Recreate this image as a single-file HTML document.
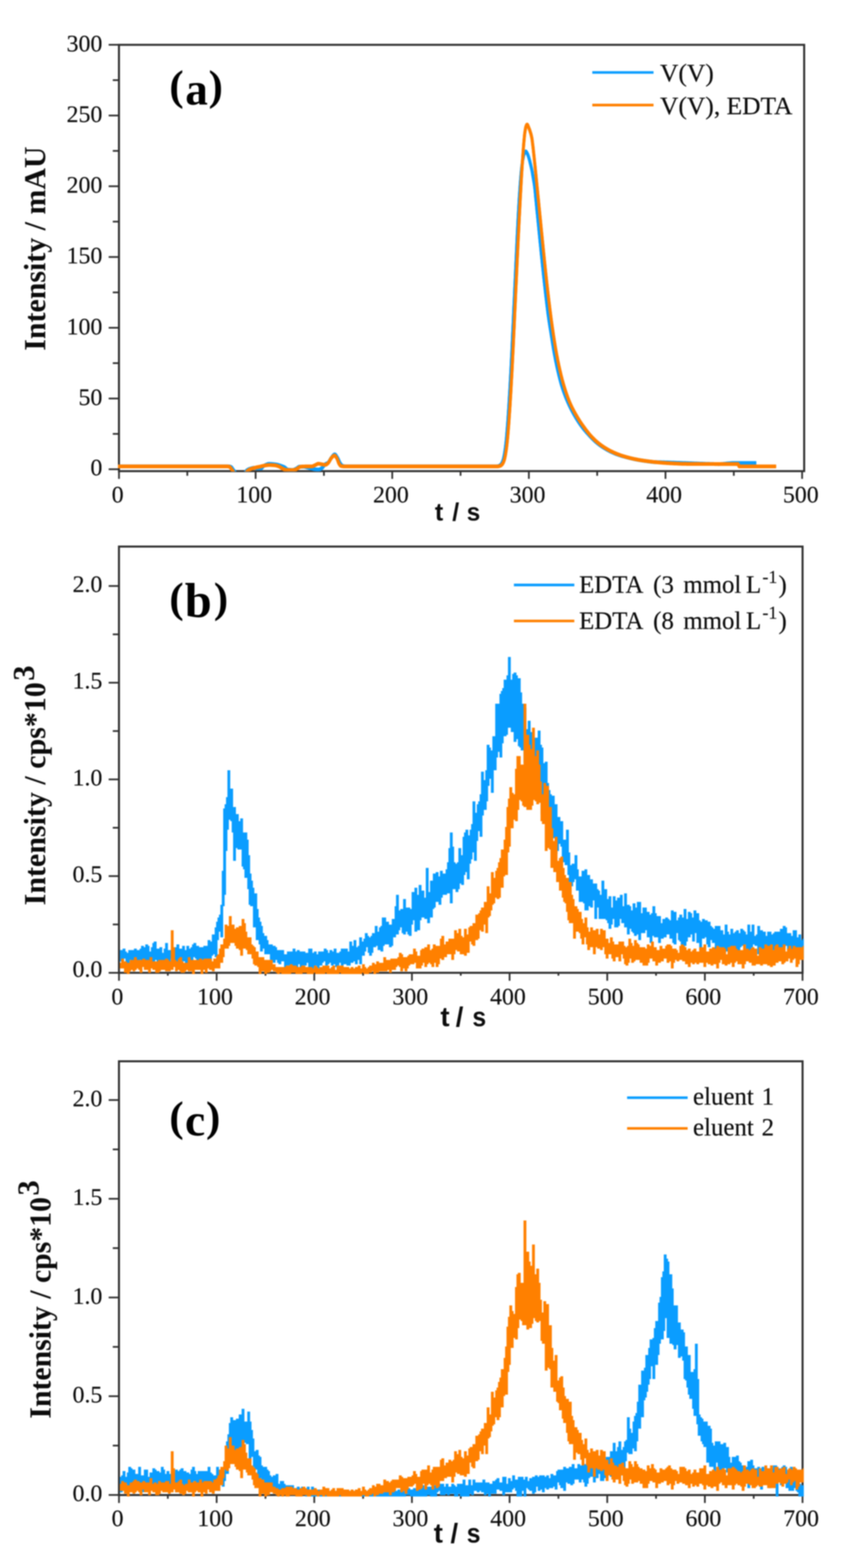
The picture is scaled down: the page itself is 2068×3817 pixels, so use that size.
<!DOCTYPE html>
<html lang="en"><head><meta charset="utf-8"><title>Chromatograms</title>
<style>
html,body{margin:0;padding:0;background:#fff;}
body{width:2068px;height:3817px;overflow:hidden;}
svg{display:block;filter:blur(1.6px);}
text{font-family:"Liberation Serif",serif;fill:#0c0c0c;}
.tk text{font-size:58px;stroke:#0c0c0c;stroke-width:0.35px;}
.lg text{font-size:60.5px;stroke:#0c0c0c;stroke-width:0.4px;}
.yl{font-weight:bold;font-size:74.5px;}
.xl{font-family:"Liberation Sans",sans-serif;font-weight:bold;}
.pl{font-weight:bold;fill:#000;}
</style></head><body>
<svg width="2068" height="3817" viewBox="0 0 2068 3817">
<rect width="2068" height="3817" fill="#fff"/>

<g id="panel-a">
<g stroke="#303030" stroke-width="4.2" fill="none" stroke-linecap="butt">
<rect x="289.4" y="109.1" width="1667.1" height="1037.8" stroke-width="4.9"/>
<line x1="289.5" y1="1146.9" x2="289.5" y2="1165.7"/>
<line x1="455.7" y1="1146.9" x2="455.7" y2="1158.2"/>
<line x1="621.9" y1="1146.9" x2="621.9" y2="1165.7"/>
<line x1="788.1" y1="1146.9" x2="788.1" y2="1158.2"/>
<line x1="954.3" y1="1146.9" x2="954.3" y2="1165.7"/>
<line x1="1120.5" y1="1146.9" x2="1120.5" y2="1158.2"/>
<line x1="1286.7" y1="1146.9" x2="1286.7" y2="1165.7"/>
<line x1="1452.9" y1="1146.9" x2="1452.9" y2="1158.2"/>
<line x1="1619.1" y1="1146.9" x2="1619.1" y2="1165.7"/>
<line x1="1785.3" y1="1146.9" x2="1785.3" y2="1158.2"/>
<line x1="1951.5" y1="1146.9" x2="1951.5" y2="1165.7"/>
<line x1="289.4" y1="1142.3" x2="264.4" y2="1142.3"/>
<line x1="289.4" y1="1056.2" x2="274.4" y2="1056.2"/>
<line x1="289.4" y1="970.1" x2="264.4" y2="970.1"/>
<line x1="289.4" y1="884.0" x2="274.4" y2="884.0"/>
<line x1="289.4" y1="797.9" x2="264.4" y2="797.9"/>
<line x1="289.4" y1="711.8" x2="274.4" y2="711.8"/>
<line x1="289.4" y1="625.6" x2="264.4" y2="625.6"/>
<line x1="289.4" y1="539.5" x2="274.4" y2="539.5"/>
<line x1="289.4" y1="453.4" x2="264.4" y2="453.4"/>
<line x1="289.4" y1="367.3" x2="274.4" y2="367.3"/>
<line x1="289.4" y1="281.2" x2="264.4" y2="281.2"/>
<line x1="289.4" y1="195.1" x2="274.4" y2="195.1"/>
<line x1="289.4" y1="109.0" x2="264.4" y2="109.0"/>
</g>
<g class="tk">
<text x="286.2" y="1222.6" text-anchor="middle">0</text>
<text x="618.6" y="1222.6" text-anchor="middle">100</text>
<text x="951.0" y="1222.6" text-anchor="middle">200</text>
<text x="1283.4" y="1222.6" text-anchor="middle">300</text>
<text x="1615.8" y="1222.6" text-anchor="middle">400</text>
<text x="1948.2" y="1222.6" text-anchor="middle">500</text>
<text x="249.0" y="1156.6" text-anchor="end">0</text>
<text x="249.0" y="985.7" text-anchor="end">50</text>
<text x="249.0" y="813.5" text-anchor="end">100</text>
<text x="249.0" y="641.2" text-anchor="end">150</text>
<text x="249.0" y="469.0" text-anchor="end">200</text>
<text x="249.0" y="296.8" text-anchor="end">250</text>
<text x="249.0" y="124.6" text-anchor="end">300</text>
</g>
<clipPath id="clip-a"><rect x="286.9" y="106.6" width="1672.5" height="1040.8"/></clipPath>
<g clip-path="url(#clip-a)" fill="none" stroke-linejoin="miter" stroke-miterlimit="3" stroke-linecap="butt">
<g stroke="#0a9dff" stroke-width="7.2"><path d="M287.0,1135.4 287.8,1135.4 288.7,1135.4 289.5,1135.4 290.3,1135.4 291.2,1135.4 292.0,1135.4 292.8,1135.4 293.7,1135.4 294.5,1135.4 295.3,1135.4 296.1,1135.4 297.0,1135.4 297.8,1135.4 298.6,1135.4 299.5,1135.4 300.3,1135.4 301.1,1135.4 302.0,1135.4 302.8,1135.4 303.6,1135.4 304.5,1135.4 305.3,1135.4 306.1,1135.4 307.0,1135.4 307.8,1135.4 308.6,1135.4 309.4,1135.4 310.3,1135.4 311.1,1135.4 311.9,1135.4 312.8,1135.4 313.6,1135.4 314.4,1135.4 315.3,1135.4 316.1,1135.4 316.9,1135.4 317.8,1135.4 318.6,1135.4 319.4,1135.4 320.2,1135.4 321.1,1135.4 321.9,1135.4 322.7,1135.4 323.6,1135.4 324.4,1135.4 325.2,1135.4 326.1,1135.4 326.9,1135.4 327.7,1135.4 328.6,1135.4 329.4,1135.4 330.2,1135.4 331.1,1135.4 331.9,1135.4 332.7,1135.4 333.5,1135.4 334.4,1135.4 335.2,1135.4 336.0,1135.4 336.9,1135.4 337.7,1135.4 338.5,1135.4 339.4,1135.4 340.2,1135.4 341.0,1135.4 341.9,1135.4 342.7,1135.4 343.5,1135.4 344.3,1135.4 345.2,1135.4 346.0,1135.4 346.8,1135.4 347.7,1135.4 348.5,1135.4 349.3,1135.4 350.2,1135.4 351.0,1135.4 351.8,1135.4 352.7,1135.4 353.5,1135.4 354.3,1135.4 355.1,1135.4 356.0,1135.4 356.8,1135.4 357.6,1135.4 358.5,1135.4 359.3,1135.4 360.1,1135.4 361.0,1135.4 361.8,1135.4 362.6,1135.4 363.5,1135.4 364.3,1135.4 365.1,1135.4 366.0,1135.4 366.8,1135.4 367.6,1135.4 368.4,1135.4 369.3,1135.4 370.1,1135.4 370.9,1135.4 371.8,1135.4 372.6,1135.4 373.4,1135.4 374.3,1135.4 375.1,1135.4 375.9,1135.4 376.8,1135.4 377.6,1135.4 378.4,1135.4 379.2,1135.4 380.1,1135.4 380.9,1135.4 381.7,1135.4 382.6,1135.4 383.4,1135.4 384.2,1135.4 385.1,1135.4 385.9,1135.4 386.7,1135.4 387.6,1135.4 388.4,1135.4 389.2,1135.4 390.1,1135.4 390.9,1135.4 391.7,1135.4 392.5,1135.4 393.4,1135.4 394.2,1135.4 395.0,1135.4 395.9,1135.4 396.7,1135.4 397.5,1135.4 398.4,1135.4 399.2,1135.4 400.0,1135.4 400.9,1135.4 401.7,1135.4 402.5,1135.4 403.3,1135.4 404.2,1135.4 405.0,1135.4 405.8,1135.4 406.7,1135.4 407.5,1135.4 408.3,1135.4 409.2,1135.4 410.0,1135.4 410.8,1135.4 411.7,1135.4 412.5,1135.4 413.3,1135.4 414.1,1135.4 415.0,1135.4 415.8,1135.4 416.6,1135.4 417.5,1135.4 418.3,1135.4 419.1,1135.4 420.0,1135.4 420.8,1135.4 421.6,1135.4 422.5,1135.4 423.3,1135.4 424.1,1135.4 425.0,1135.4 425.8,1135.4 426.6,1135.4 427.4,1135.4 428.3,1135.4 429.1,1135.4 429.9,1135.4 430.8,1135.4 431.6,1135.4 432.4,1135.4 433.3,1135.4 434.1,1135.4 434.9,1135.4 435.8,1135.4 436.6,1135.4 437.4,1135.4 438.2,1135.4 439.1,1135.4 439.9,1135.4 440.7,1135.4 441.6,1135.4 442.4,1135.4 443.2,1135.4 444.1,1135.4 444.9,1135.4 445.7,1135.4 446.6,1135.4 447.4,1135.4 448.2,1135.4 449.1,1135.4 449.9,1135.4 450.7,1135.4 451.5,1135.4 452.4,1135.4 453.2,1135.4 454.0,1135.4 454.9,1135.4 455.7,1135.4 456.5,1135.4 457.4,1135.4 458.2,1135.4 459.0,1135.4 459.9,1135.4 460.7,1135.4 461.5,1135.4 462.3,1135.4 463.2,1135.4 464.0,1135.4 464.8,1135.4 465.7,1135.4 466.5,1135.4 467.3,1135.4 468.2,1135.4 469.0,1135.4 469.8,1135.4 470.7,1135.4 471.5,1135.4 472.3,1135.4 473.2,1135.4 474.0,1135.4 474.8,1135.4 475.6,1135.4 476.5,1135.4 477.3,1135.4 478.1,1135.4 479.0,1135.4 479.8,1135.4 480.6,1135.4 481.5,1135.4 482.3,1135.4 483.1,1135.4 484.0,1135.4 484.8,1135.4 485.6,1135.4 486.4,1135.4 487.3,1135.4 488.1,1135.4 488.9,1135.4 489.8,1135.4 490.6,1135.4 491.4,1135.4 492.3,1135.4 493.1,1135.4 493.9,1135.4 494.8,1135.4 495.6,1135.4 496.4,1135.4 497.2,1135.4 498.1,1135.4 498.9,1135.4 499.7,1135.4 500.6,1135.4 501.4,1135.4 502.2,1135.4 503.1,1135.4 503.9,1135.4 504.7,1135.4 505.6,1135.4 506.4,1135.4 507.2,1135.4 508.1,1135.4 508.9,1135.4 509.7,1135.4 510.5,1135.4 511.4,1135.4 512.2,1135.4 513.0,1135.4 513.9,1135.4 514.7,1135.4 515.5,1135.4 516.4,1135.4 517.2,1135.4 518.0,1135.4 518.9,1135.4 519.7,1135.4 520.5,1135.4 521.3,1135.4 522.2,1135.4 523.0,1135.4 523.8,1135.4 524.7,1135.4 525.5,1135.4 526.3,1135.4 527.2,1135.4 528.0,1135.4 528.8,1135.4 529.7,1135.4 530.5,1135.4 531.3,1135.4 532.2,1135.4 533.0,1135.4 533.8,1135.4 534.6,1135.4 535.5,1135.4 536.3,1135.4 537.1,1135.4 538.0,1135.4 538.8,1135.4 539.6,1135.4 540.5,1135.4 541.3,1135.4 542.1,1135.4 543.0,1135.4 543.8,1135.4 544.6,1135.4 545.4,1135.4 546.3,1135.4 547.1,1135.4 547.9,1135.4 548.8,1135.4 549.6,1135.4 550.4,1135.4 551.3,1135.4 552.1,1135.4 552.9,1135.4 553.8,1135.4 554.6,1135.4 555.4,1135.4 556.3,1135.4 557.1,1135.4 557.9,1135.5 558.7,1135.6 559.6,1135.8 560.4,1136.1 561.2,1136.4 562.1,1136.8 562.9,1137.3 563.7,1138.1 564.6,1139.1 565.4,1140.3 566.2,1141.6 567.1,1142.8 567.9,1144.0 568.7,1145.1 569.5,1146.1 570.4,1147.2 571.2,1148.4 572.0,1149.6 572.9,1150.9 573.7,1152.0 574.5,1153.1 575.4,1154.1 576.2,1154.9 577.0,1155.5 577.9,1155.9 578.7,1156.1 579.5,1156.1 580.4,1156.1 581.2,1156.1 582.0,1156.1 582.8,1156.1 583.7,1156.1 584.5,1156.1 585.3,1156.1 586.2,1156.1 587.0,1156.1 587.8,1156.1 588.7,1156.1 589.5,1156.1 590.3,1156.1 591.2,1156.1 592.0,1156.1 592.8,1155.8 593.6,1155.1 594.5,1154.1 595.3,1152.8 596.1,1151.3 597.0,1149.8 597.8,1148.3 598.6,1147.0 599.5,1145.9 600.3,1145.1 601.1,1144.5 602.0,1143.9 602.8,1143.4 603.6,1143.0 604.4,1142.5 605.3,1142.2 606.1,1141.8 606.9,1141.5 607.8,1141.2 608.6,1140.9 609.4,1140.7 610.3,1140.4 611.1,1140.2 611.9,1139.9 612.8,1139.7 613.6,1139.5 614.4,1139.3 615.3,1139.2 616.1,1139.0 616.9,1138.9 617.7,1138.9 618.6,1138.9 619.4,1138.9 620.2,1139.0 621.1,1139.1 621.9,1139.2 622.7,1139.4 623.6,1139.5 624.4,1139.7 625.2,1139.9 626.1,1140.0 626.9,1140.1 627.7,1140.2 628.5,1140.2 629.4,1140.2 630.2,1140.2 631.0,1140.2 631.9,1140.2 632.7,1140.2 633.5,1140.2 634.4,1140.2 635.2,1140.2 636.0,1140.0 636.9,1139.4 637.7,1138.6 638.5,1137.6 639.4,1136.5 640.2,1135.5 641.0,1134.6 641.8,1134.0 642.7,1133.6 643.5,1133.1 644.3,1132.7 645.2,1132.3 646.0,1131.8 646.8,1131.4 647.7,1131.1 648.5,1130.7 649.3,1130.4 650.2,1130.1 651.0,1129.8 651.8,1129.6 652.6,1129.4 653.5,1129.3 654.3,1129.2 655.1,1129.2 656.0,1129.2 656.8,1129.2 657.6,1129.3 658.5,1129.3 659.3,1129.3 660.1,1129.4 661.0,1129.4 661.8,1129.5 662.6,1129.6 663.5,1129.6 664.3,1129.7 665.1,1129.8 665.9,1129.9 666.8,1130.0 667.6,1130.1 668.4,1130.2 669.3,1130.3 670.1,1130.4 670.9,1130.5 671.8,1130.6 672.6,1130.7 673.4,1130.9 674.3,1131.1 675.1,1131.3 675.9,1131.5 676.7,1131.7 677.6,1132.0 678.4,1132.3 679.2,1132.5 680.1,1132.8 680.9,1133.1 681.7,1133.3 682.6,1133.6 683.4,1133.9 684.2,1134.2 685.1,1134.4 685.9,1134.7 686.7,1135.0 687.5,1135.3 688.4,1135.7 689.2,1136.0 690.0,1136.4 690.9,1136.7 691.7,1137.1 692.5,1137.6 693.4,1138.2 694.2,1138.9 695.0,1139.7 695.9,1140.4 696.7,1141.1 697.5,1141.8 698.4,1142.3 699.2,1142.8 700.0,1143.0 700.8,1143.1 701.7,1143.2 702.5,1143.4 703.3,1143.5 704.2,1143.6 705.0,1143.7 705.8,1143.7 706.7,1143.8 707.5,1143.9 708.3,1143.9 709.2,1144.0 710.0,1144.0 710.8,1144.0 711.6,1144.0 712.5,1144.0 713.3,1143.9 714.1,1143.7 715.0,1143.4 715.8,1143.1 716.6,1142.7 717.5,1142.3 718.3,1141.9 719.1,1141.5 720.0,1141.1 720.8,1140.6 721.6,1140.2 722.5,1139.8 723.3,1139.1 724.1,1138.5 724.9,1137.8 725.8,1137.1 726.6,1136.6 727.4,1136.2 728.3,1136.1 729.1,1136.1 729.9,1136.1 730.8,1136.1 731.6,1136.1 732.4,1136.1 733.3,1136.1 734.1,1136.1 734.9,1136.1 735.7,1136.1 736.6,1136.1 737.4,1136.1 738.2,1136.1 739.1,1136.1 739.9,1136.2 740.7,1136.3 741.6,1136.5 742.4,1136.7 743.2,1136.9 744.1,1137.1 744.9,1137.3 745.7,1137.5 746.5,1137.8 747.4,1138.0 748.2,1138.2 749.0,1138.4 749.9,1138.6 750.7,1138.8 751.5,1139.0 752.4,1139.2 753.2,1139.4 754.0,1139.6 754.9,1139.8 755.7,1140.0 756.5,1140.2 757.4,1140.4 758.2,1140.6 759.0,1140.8 759.8,1141.0 760.7,1141.2 761.5,1141.4 762.3,1141.5 763.2,1141.7 764.0,1141.9 764.8,1142.1 765.7,1142.2 766.5,1142.3 767.3,1142.4 768.2,1142.5 769.0,1142.6 769.8,1142.7 770.6,1142.8 771.5,1142.8 772.3,1142.9 773.1,1142.9 774.0,1143.0 774.8,1143.0 775.6,1142.9 776.5,1142.8 777.3,1142.6 778.1,1142.3 779.0,1141.9 779.8,1141.5 780.6,1141.0 781.5,1140.6 782.3,1140.1 783.1,1139.5 783.9,1138.9 784.8,1138.1 785.6,1137.1 786.4,1136.0 787.3,1134.8 788.1,1133.7 788.9,1132.5 789.8,1131.5 790.6,1130.6 791.4,1129.9 792.3,1129.4 793.1,1128.9 793.9,1128.6 794.7,1128.2 795.6,1127.9 796.4,1127.5 797.2,1127.0 798.1,1126.5 798.9,1125.7 799.7,1124.7 800.6,1123.5 801.4,1122.1 802.2,1120.7 803.1,1119.2 803.9,1117.8 804.7,1116.4 805.6,1115.1 806.4,1114.1 807.2,1113.0 808.0,1111.9 808.9,1110.8 809.7,1109.7 810.5,1108.7 811.4,1107.8 812.2,1107.1 813.0,1106.5 813.9,1106.2 814.7,1106.2 815.5,1106.5 816.4,1107.2 817.2,1108.2 818.0,1109.3 818.8,1110.6 819.7,1112.0 820.5,1113.4 821.3,1114.7 822.2,1116.2 823.0,1117.9 823.8,1119.8 824.7,1121.8 825.5,1123.7 826.3,1125.4 827.2,1126.9 828.0,1128.1 828.8,1129.4 829.6,1130.5 830.5,1131.6 831.3,1132.5 832.1,1133.2 833.0,1133.7 833.8,1134.0 834.6,1134.3 835.5,1134.5 836.3,1134.7 837.1,1134.9 838.0,1135.1 838.8,1135.2 839.6,1135.3 840.5,1135.4 841.3,1135.4 842.1,1135.4 842.9,1135.4 843.8,1135.4 844.6,1135.4 845.4,1135.4 846.3,1135.4 847.1,1135.4 847.9,1135.4 848.8,1135.4 849.6,1135.4 850.4,1135.4 851.3,1135.4 852.1,1135.4 852.9,1135.4 853.7,1135.4 854.6,1135.4 855.4,1135.4 856.2,1135.4 857.1,1135.4 857.9,1135.4 858.7,1135.4 859.6,1135.4 860.4,1135.4 861.2,1135.4 862.1,1135.4 862.9,1135.4 863.7,1135.4 864.6,1135.4 865.4,1135.4 866.2,1135.4 867.0,1135.4 867.9,1135.4 868.7,1135.4 869.5,1135.4 870.4,1135.4 871.2,1135.4 872.0,1135.4 872.9,1135.4 873.7,1135.4 874.5,1135.4 875.4,1135.4 876.2,1135.4 877.0,1135.4 877.8,1135.4 878.7,1135.4 879.5,1135.4 880.3,1135.4 881.2,1135.4 882.0,1135.4 882.8,1135.4 883.7,1135.4 884.5,1135.4 885.3,1135.4 886.2,1135.4 887.0,1135.4 887.8,1135.4 888.7,1135.4 889.5,1135.4 890.3,1135.4 891.1,1135.4 892.0,1135.4 892.8,1135.4 893.6,1135.4 894.5,1135.4 895.3,1135.4 896.1,1135.4 897.0,1135.4 897.8,1135.4 898.6,1135.4 899.5,1135.4 900.3,1135.4 901.1,1135.4 901.9,1135.4 902.8,1135.4 903.6,1135.4 904.4,1135.4 905.3,1135.4 906.1,1135.4 906.9,1135.4 907.8,1135.4 908.6,1135.4 909.4,1135.4 910.3,1135.4 911.1,1135.4 911.9,1135.4 912.8,1135.4 913.6,1135.4 914.4,1135.4 915.2,1135.4 916.1,1135.4 916.9,1135.4 917.7,1135.4 918.6,1135.4 919.4,1135.4 920.2,1135.4 921.1,1135.4 921.9,1135.4 922.7,1135.4 923.6,1135.4 924.4,1135.4 925.2,1135.4 926.0,1135.4 926.9,1135.4 927.7,1135.4 928.5,1135.4 929.4,1135.4 930.2,1135.4 931.0,1135.4 931.9,1135.4 932.7,1135.4 933.5,1135.4 934.4,1135.4 935.2,1135.4 936.0,1135.4 936.8,1135.4 937.7,1135.4 938.5,1135.4 939.3,1135.4 940.2,1135.4 941.0,1135.4 941.8,1135.4 942.7,1135.4 943.5,1135.4 944.3,1135.4 945.2,1135.4 946.0,1135.4 946.8,1135.4 947.7,1135.4 948.5,1135.4 949.3,1135.4 950.1,1135.4 951.0,1135.4 951.8,1135.4 952.6,1135.4 953.5,1135.4 954.3,1135.4 955.1,1135.4 956.0,1135.4 956.8,1135.4 957.6,1135.4 958.5,1135.4 959.3,1135.4 960.1,1135.4 960.9,1135.4 961.8,1135.4 962.6,1135.4 963.4,1135.4 964.3,1135.4 965.1,1135.4 965.9,1135.4 966.8,1135.4 967.6,1135.4 968.4,1135.4 969.3,1135.4 970.1,1135.4 970.9,1135.4 971.8,1135.4 972.6,1135.4 973.4,1135.4 974.2,1135.4 975.1,1135.4 975.9,1135.4 976.7,1135.4 977.6,1135.4 978.4,1135.4 979.2,1135.4 980.1,1135.4 980.9,1135.4 981.7,1135.4 982.6,1135.4 983.4,1135.4 984.2,1135.4 985.0,1135.4 985.9,1135.4 986.7,1135.4 987.5,1135.4 988.4,1135.4 989.2,1135.4 990.0,1135.4 990.9,1135.4 991.7,1135.4 992.5,1135.4 993.4,1135.4 994.2,1135.4 995.0,1135.4 995.9,1135.4 996.7,1135.4 997.5,1135.4 998.3,1135.4 999.2,1135.4 1000.0,1135.4 1000.8,1135.4 1001.7,1135.4 1002.5,1135.4 1003.3,1135.4 1004.2,1135.4 1005.0,1135.4 1005.8,1135.4 1006.7,1135.4 1007.5,1135.4 1008.3,1135.4 1009.1,1135.4 1010.0,1135.4 1010.8,1135.4 1011.6,1135.4 1012.5,1135.4 1013.3,1135.4 1014.1,1135.4 1015.0,1135.4 1015.8,1135.4 1016.6,1135.4 1017.5,1135.4 1018.3,1135.4 1019.1,1135.4 1019.9,1135.4 1020.8,1135.4 1021.6,1135.4 1022.4,1135.4 1023.3,1135.4 1024.1,1135.4 1024.9,1135.4 1025.8,1135.4 1026.6,1135.4 1027.4,1135.4 1028.3,1135.4 1029.1,1135.4 1029.9,1135.4 1030.8,1135.4 1031.6,1135.4 1032.4,1135.4 1033.2,1135.4 1034.1,1135.4 1034.9,1135.4 1035.7,1135.4 1036.6,1135.4 1037.4,1135.4 1038.2,1135.4 1039.1,1135.4 1039.9,1135.4 1040.7,1135.4 1041.6,1135.4 1042.4,1135.4 1043.2,1135.4 1044.0,1135.4 1044.9,1135.4 1045.7,1135.4 1046.5,1135.4 1047.4,1135.4 1048.2,1135.4 1049.0,1135.4 1049.9,1135.4 1050.7,1135.4 1051.5,1135.4 1052.4,1135.4 1053.2,1135.4 1054.0,1135.4 1054.9,1135.4 1055.7,1135.4 1056.5,1135.4 1057.3,1135.4 1058.2,1135.4 1059.0,1135.4 1059.8,1135.4 1060.7,1135.4 1061.5,1135.4 1062.3,1135.4 1063.2,1135.4 1064.0,1135.4 1064.8,1135.4 1065.7,1135.4 1066.5,1135.4 1067.3,1135.4 1068.1,1135.4 1069.0,1135.4 1069.8,1135.4 1070.6,1135.4 1071.5,1135.4 1072.3,1135.4 1073.1,1135.4 1074.0,1135.4 1074.8,1135.4 1075.6,1135.4 1076.5,1135.4 1077.3,1135.4 1078.1,1135.4 1079.0,1135.4 1079.8,1135.4 1080.6,1135.4 1081.4,1135.4 1082.3,1135.4 1083.1,1135.4 1083.9,1135.4 1084.8,1135.4 1085.6,1135.4 1086.4,1135.4 1087.3,1135.4 1088.1,1135.4 1088.9,1135.4 1089.8,1135.4 1090.6,1135.4 1091.4,1135.4 1092.2,1135.4 1093.1,1135.4 1093.9,1135.4 1094.7,1135.4 1095.6,1135.4 1096.4,1135.4 1097.2,1135.4 1098.1,1135.4 1098.9,1135.4 1099.7,1135.4 1100.6,1135.4 1101.4,1135.4 1102.2,1135.4 1103.0,1135.4 1103.9,1135.4 1104.7,1135.4 1105.5,1135.4 1106.4,1135.4 1107.2,1135.4 1108.0,1135.4 1108.9,1135.4 1109.7,1135.4 1110.5,1135.4 1111.4,1135.4 1112.2,1135.4 1113.0,1135.4 1113.9,1135.4 1114.7,1135.4 1115.5,1135.4 1116.3,1135.4 1117.2,1135.4 1118.0,1135.4 1118.8,1135.4 1119.7,1135.4 1120.5,1135.4 1121.3,1135.4 1122.2,1135.4 1123.0,1135.4 1123.8,1135.4 1124.7,1135.4 1125.5,1135.4 1126.3,1135.4 1127.1,1135.4 1128.0,1135.4 1128.8,1135.4 1129.6,1135.4 1130.5,1135.4 1131.3,1135.4 1132.1,1135.4 1133.0,1135.4 1133.8,1135.4 1134.6,1135.4 1135.5,1135.4 1136.3,1135.4 1137.1,1135.4 1138.0,1135.4 1138.8,1135.4 1139.6,1135.4 1140.4,1135.4 1141.3,1135.4 1142.1,1135.4 1142.9,1135.4 1143.8,1135.4 1144.6,1135.4 1145.4,1135.4 1146.3,1135.4 1147.1,1135.4 1147.9,1135.4 1148.8,1135.4 1149.6,1135.4 1150.4,1135.4 1151.2,1135.4 1152.1,1135.4 1152.9,1135.4 1153.7,1135.4 1154.6,1135.4 1155.4,1135.4 1156.2,1135.4 1157.1,1135.4 1157.9,1135.4 1158.7,1135.4 1159.6,1135.4 1160.4,1135.4 1161.2,1135.4 1162.0,1135.4 1162.9,1135.4 1163.7,1135.4 1164.5,1135.4 1165.4,1135.4 1166.2,1135.4 1167.0,1135.4 1167.9,1135.4 1168.7,1135.4 1169.5,1135.4 1170.4,1135.4 1171.2,1135.4 1172.0,1135.4 1172.9,1135.4 1173.7,1135.4 1174.5,1135.4 1175.3,1135.4 1176.2,1135.4 1177.0,1135.4 1177.8,1135.4 1178.7,1135.4 1179.5,1135.4 1180.3,1135.4 1181.2,1135.4 1182.0,1135.4 1182.8,1135.4 1183.7,1135.4 1184.5,1135.4 1185.3,1135.4 1186.1,1135.4 1187.0,1135.4 1187.8,1135.4 1188.6,1135.4 1189.5,1135.4 1190.3,1135.4 1191.1,1135.4 1192.0,1135.4 1192.8,1135.4 1193.6,1135.4 1194.5,1135.4 1195.3,1135.4 1196.1,1135.4 1197.0,1135.4 1197.8,1135.4 1198.6,1135.4 1199.4,1135.4 1200.3,1135.4 1201.1,1135.4 1201.9,1135.4 1202.8,1135.4 1203.6,1135.4 1204.4,1135.4 1205.3,1135.4 1206.1,1135.4 1206.9,1135.4 1207.8,1135.4 1208.6,1135.4 1209.4,1135.3 1210.2,1135.1 1211.1,1134.9 1211.9,1134.7 1212.7,1134.5 1213.6,1134.2 1214.4,1133.9 1215.2,1133.5 1216.1,1133.0 1216.9,1132.4 1217.7,1131.6 1218.6,1130.8 1219.4,1129.9 1220.2,1128.7 1221.1,1127.2 1221.9,1125.5 1222.7,1123.5 1223.5,1121.3 1224.4,1118.9 1225.2,1115.6 1226.0,1111.6 1226.9,1107.2 1227.7,1102.5 1228.5,1097.1 1229.4,1091.1 1230.2,1084.5 1231.0,1077.3 1231.9,1069.1 1232.7,1059.9 1233.5,1050.2 1234.3,1040.0 1235.2,1029.0 1236.0,1017.4 1236.8,1005.2 1237.7,992.5 1238.5,979.3 1239.3,965.5 1240.2,951.2 1241.0,936.7 1241.8,921.6 1242.7,906.1 1243.5,890.3 1244.3,874.0 1245.2,857.1 1246.0,839.8 1246.8,822.2 1247.6,804.6 1248.5,786.6 1249.3,768.4 1250.1,750.2 1251.0,732.1 1251.8,713.9 1252.6,695.8 1253.5,677.7 1254.3,659.8 1255.1,642.0 1256.0,624.3 1256.8,606.8 1257.6,589.5 1258.4,572.1 1259.3,555.0 1260.1,538.6 1260.9,523.2 1261.8,508.3 1262.6,494.0 1263.4,480.5 1264.3,467.9 1265.1,456.0 1265.9,444.6 1266.8,433.9 1267.6,424.1 1268.4,415.5 1269.2,408.1 1270.1,401.2 1270.9,395.1 1271.7,389.8 1272.6,385.3 1273.4,381.1 1274.2,377.4 1275.1,374.5 1275.9,372.5 1276.7,371.0 1277.6,369.8 1278.4,368.9 1279.2,368.7 1280.1,369.2 1280.9,370.3 1281.7,371.7 1282.5,373.3 1283.4,374.9 1284.2,376.8 1285.0,379.0 1285.9,381.5 1286.7,384.2 1287.5,386.9 1288.4,390.1 1289.2,393.4 1290.0,396.9 1290.9,400.4 1291.7,403.8 1292.5,407.1 1293.3,410.7 1294.2,414.7 1295.0,419.2 1295.8,424.3 1296.7,429.3 1297.5,434.2 1298.3,438.9 1299.2,443.9 1300.0,449.3 1300.8,455.4 1301.7,463.0 1302.5,471.6 1303.3,480.6 1304.2,489.2 1305.0,497.6 1305.8,505.9 1306.6,514.3 1307.5,522.7 1308.3,531.0 1309.1,539.4 1310.0,547.7 1310.8,556.1 1311.6,564.5 1312.5,572.8 1313.3,581.1 1314.1,589.4 1315.0,597.7 1315.8,606.0 1316.6,614.3 1317.4,622.5 1318.3,630.7 1319.1,638.7 1319.9,646.8 1320.8,654.7 1321.6,662.6 1322.4,670.4 1323.3,678.1 1324.1,685.7 1324.9,693.2 1325.8,700.6 1326.6,708.0 1327.4,715.2 1328.2,722.3 1329.1,729.3 1329.9,736.3 1330.7,743.3 1331.6,750.1 1332.4,756.8 1333.2,763.3 1334.1,769.5 1334.9,775.3 1335.7,781.0 1336.6,786.4 1337.4,791.7 1338.2,796.9 1339.1,802.0 1339.9,807.1 1340.7,812.3 1341.5,817.6 1342.4,822.9 1343.2,828.2 1344.0,833.5 1344.9,838.7 1345.7,843.8 1346.5,848.8 1347.4,853.6 1348.2,858.3 1349.0,862.8 1349.9,867.2 1350.7,871.6 1351.5,875.8 1352.3,880.0 1353.2,884.1 1354.0,888.1 1354.8,892.0 1355.7,895.8 1356.5,899.5 1357.3,903.1 1358.2,906.7 1359.0,910.2 1359.8,913.6 1360.7,917.0 1361.5,920.4 1362.3,923.6 1363.2,926.8 1364.0,929.9 1364.8,932.9 1365.6,935.8 1366.5,938.6 1367.3,941.3 1368.1,943.9 1369.0,946.5 1369.8,948.9 1370.6,951.4 1371.5,953.8 1372.3,956.1 1373.1,958.3 1374.0,960.6 1374.8,962.8 1375.6,964.9 1376.4,967.0 1377.3,969.1 1378.1,971.1 1378.9,973.1 1379.8,975.0 1380.6,977.0 1381.4,978.9 1382.3,980.7 1383.1,982.6 1383.9,984.4 1384.8,986.2 1385.6,988.0 1386.4,989.7 1387.3,991.4 1388.1,993.1 1388.9,994.8 1389.7,996.4 1390.6,998.0 1391.4,999.6 1392.2,1001.2 1393.1,1002.7 1393.9,1004.3 1394.7,1005.8 1395.6,1007.3 1396.4,1008.7 1397.2,1010.2 1398.1,1011.6 1398.9,1013.1 1399.7,1014.5 1400.5,1015.9 1401.4,1017.3 1402.2,1018.7 1403.0,1020.0 1403.9,1021.4 1404.7,1022.7 1405.5,1024.0 1406.4,1025.3 1407.2,1026.6 1408.0,1027.8 1408.9,1029.1 1409.7,1030.3 1410.5,1031.5 1411.3,1032.7 1412.2,1033.9 1413.0,1035.1 1413.8,1036.2 1414.7,1037.4 1415.5,1038.5 1416.3,1039.6 1417.2,1040.7 1418.0,1041.8 1418.8,1042.8 1419.7,1043.9 1420.5,1044.9 1421.3,1045.9 1422.2,1047.0 1423.0,1048.0 1423.8,1049.0 1424.6,1049.9 1425.5,1050.9 1426.3,1051.9 1427.1,1052.8 1428.0,1053.8 1428.8,1054.7 1429.6,1055.6 1430.5,1056.5 1431.3,1057.5 1432.1,1058.4 1433.0,1059.3 1433.8,1060.2 1434.6,1061.1 1435.4,1062.0 1436.3,1062.9 1437.1,1063.7 1437.9,1064.6 1438.8,1065.5 1439.6,1066.3 1440.4,1067.2 1441.3,1068.0 1442.1,1068.9 1442.9,1069.7 1443.8,1070.5 1444.6,1071.3 1445.4,1072.1 1446.3,1072.9 1447.1,1073.7 1447.9,1074.4 1448.7,1075.2 1449.6,1075.9 1450.4,1076.6 1451.2,1077.3 1452.1,1078.0 1452.9,1078.7 1453.7,1079.3 1454.6,1080.0 1455.4,1080.6 1456.2,1081.3 1457.1,1081.9 1457.9,1082.5 1458.7,1083.2 1459.5,1083.8 1460.4,1084.4 1461.2,1085.0 1462.0,1085.5 1462.9,1086.1 1463.7,1086.7 1464.5,1087.2 1465.4,1087.8 1466.2,1088.4 1467.0,1088.9 1467.9,1089.4 1468.7,1090.0 1469.5,1090.5 1470.4,1091.0 1471.2,1091.5 1472.0,1092.0 1472.8,1092.5 1473.7,1093.0 1474.5,1093.5 1475.3,1094.0 1476.2,1094.5 1477.0,1095.0 1477.8,1095.4 1478.7,1095.9 1479.5,1096.3 1480.3,1096.8 1481.2,1097.2 1482.0,1097.6 1482.8,1098.0 1483.6,1098.5 1484.5,1098.9 1485.3,1099.3 1486.1,1099.7 1487.0,1100.1 1487.8,1100.5 1488.6,1100.9 1489.5,1101.2 1490.3,1101.6 1491.1,1102.0 1492.0,1102.4 1492.8,1102.7 1493.6,1103.1 1494.5,1103.5 1495.3,1103.8 1496.1,1104.2 1496.9,1104.5 1497.8,1104.8 1498.6,1105.2 1499.4,1105.5 1500.3,1105.8 1501.1,1106.1 1501.9,1106.4 1502.8,1106.7 1503.6,1107.0 1504.4,1107.3 1505.3,1107.6 1506.1,1107.8 1506.9,1108.1 1507.7,1108.4 1508.6,1108.6 1509.4,1108.9 1510.2,1109.2 1511.1,1109.4 1511.9,1109.7 1512.7,1109.9 1513.6,1110.2 1514.4,1110.4 1515.2,1110.7 1516.1,1110.9 1516.9,1111.1 1517.7,1111.4 1518.5,1111.6 1519.4,1111.8 1520.2,1112.0 1521.0,1112.3 1521.9,1112.5 1522.7,1112.7 1523.5,1112.9 1524.4,1113.1 1525.2,1113.3 1526.0,1113.6 1526.9,1113.8 1527.7,1114.0 1528.5,1114.2 1529.4,1114.4 1530.2,1114.6 1531.0,1114.8 1531.8,1115.0 1532.7,1115.2 1533.5,1115.4 1534.3,1115.6 1535.2,1115.8 1536.0,1116.0 1536.8,1116.2 1537.7,1116.4 1538.5,1116.6 1539.3,1116.8 1540.2,1117.0 1541.0,1117.1 1541.8,1117.3 1542.6,1117.5 1543.5,1117.7 1544.3,1117.9 1545.1,1118.0 1546.0,1118.2 1546.8,1118.4 1547.6,1118.5 1548.5,1118.7 1549.3,1118.9 1550.1,1119.0 1551.0,1119.2 1551.8,1119.3 1552.6,1119.5 1553.5,1119.6 1554.3,1119.8 1555.1,1119.9 1555.9,1120.0 1556.8,1120.2 1557.6,1120.3 1558.4,1120.4 1559.3,1120.6 1560.1,1120.7 1560.9,1120.8 1561.8,1121.0 1562.6,1121.1 1563.4,1121.2 1564.3,1121.3 1565.1,1121.5 1565.9,1121.6 1566.7,1121.7 1567.6,1121.8 1568.4,1121.9 1569.2,1122.0 1570.1,1122.2 1570.9,1122.3 1571.7,1122.4 1572.6,1122.5 1573.4,1122.6 1574.2,1122.7 1575.1,1122.9 1575.9,1123.0 1576.7,1123.1 1577.5,1123.2 1578.4,1123.4 1579.2,1123.5 1580.0,1123.6 1580.9,1123.7 1581.7,1123.8 1582.5,1123.9 1583.4,1124.0 1584.2,1124.1 1585.0,1124.2 1585.9,1124.3 1586.7,1124.4 1587.5,1124.5 1588.4,1124.6 1589.2,1124.6 1590.0,1124.7 1590.8,1124.7 1591.7,1124.8 1592.5,1124.8 1593.3,1124.8 1594.2,1124.9 1595.0,1124.9 1595.8,1124.9 1596.7,1124.9 1597.5,1125.0 1598.3,1125.0 1599.2,1125.0 1600.0,1125.0 1600.8,1125.1 1601.6,1125.1 1602.5,1125.1 1603.3,1125.1 1604.1,1125.1 1605.0,1125.2 1605.8,1125.2 1606.6,1125.2 1607.5,1125.2 1608.3,1125.2 1609.1,1125.3 1610.0,1125.3 1610.8,1125.3 1611.6,1125.3 1612.5,1125.3 1613.3,1125.4 1614.1,1125.4 1614.9,1125.4 1615.8,1125.4 1616.6,1125.4 1617.4,1125.5 1618.3,1125.5 1619.1,1125.5 1619.9,1125.6 1620.8,1125.6 1621.6,1125.6 1622.4,1125.6 1623.3,1125.7 1624.1,1125.7 1624.9,1125.7 1625.7,1125.7 1626.6,1125.8 1627.4,1125.8 1628.2,1125.8 1629.1,1125.9 1629.9,1125.9 1630.7,1125.9 1631.6,1125.9 1632.4,1126.0 1633.2,1126.0 1634.1,1126.0 1634.9,1126.1 1635.7,1126.1 1636.6,1126.1 1637.4,1126.2 1638.2,1126.2 1639.0,1126.2 1639.9,1126.2 1640.7,1126.3 1641.5,1126.3 1642.4,1126.3 1643.2,1126.4 1644.0,1126.4 1644.9,1126.4 1645.7,1126.5 1646.5,1126.5 1647.4,1126.5 1648.2,1126.5 1649.0,1126.6 1649.8,1126.6 1650.7,1126.6 1651.5,1126.7 1652.3,1126.7 1653.2,1126.7 1654.0,1126.8 1654.8,1126.8 1655.7,1126.8 1656.5,1126.8 1657.3,1126.9 1658.2,1126.9 1659.0,1126.9 1659.8,1127.0 1660.7,1127.0 1661.5,1127.0 1662.3,1127.0 1663.1,1127.1 1664.0,1127.1 1664.8,1127.1 1665.6,1127.1 1666.5,1127.2 1667.3,1127.2 1668.1,1127.2 1669.0,1127.3 1669.8,1127.3 1670.6,1127.3 1671.5,1127.3 1672.3,1127.4 1673.1,1127.4 1673.9,1127.4 1674.8,1127.5 1675.6,1127.5 1676.4,1127.5 1677.3,1127.5 1678.1,1127.6 1678.9,1127.6 1679.8,1127.6 1680.6,1127.7 1681.4,1127.7 1682.3,1127.7 1683.1,1127.8 1683.9,1127.8 1684.7,1127.8 1685.6,1127.9 1686.4,1127.9 1687.2,1127.9 1688.1,1127.9 1688.9,1128.0 1689.7,1128.0 1690.6,1128.0 1691.4,1128.1 1692.2,1128.1 1693.1,1128.1 1693.9,1128.2 1694.7,1128.2 1695.6,1128.2 1696.4,1128.3 1697.2,1128.3 1698.0,1128.3 1698.9,1128.4 1699.7,1128.4 1700.5,1128.4 1701.4,1128.4 1702.2,1128.5 1703.0,1128.5 1703.9,1128.5 1704.7,1128.6 1705.5,1128.6 1706.4,1128.6 1707.2,1128.7 1708.0,1128.7 1708.8,1128.7 1709.7,1128.7 1710.5,1128.8 1711.3,1128.8 1712.2,1128.8 1713.0,1128.9 1713.8,1128.9 1714.7,1128.9 1715.5,1128.9 1716.3,1129.0 1717.2,1129.0 1718.0,1129.0 1718.8,1129.0 1719.7,1129.1 1720.5,1129.1 1721.3,1129.1 1722.1,1129.1 1723.0,1129.2 1723.8,1129.2 1724.6,1129.2 1725.5,1129.2 1726.3,1129.2 1727.1,1129.3 1728.0,1129.3 1728.8,1129.3 1729.6,1129.3 1730.5,1129.3 1731.3,1129.4 1732.1,1129.4 1732.9,1129.4 1733.8,1129.4 1734.6,1129.4 1735.4,1129.4 1736.3,1129.4 1737.1,1129.5 1737.9,1129.5 1738.8,1129.5 1739.6,1129.5 1740.4,1129.5 1741.3,1129.5 1742.1,1129.5 1742.9,1129.5 1743.8,1129.5 1744.6,1129.5 1745.4,1129.5 1746.2,1129.5 1747.1,1129.6 1747.9,1129.6 1748.7,1129.6 1749.6,1129.6 1750.4,1129.6 1751.2,1129.5 1752.1,1129.5 1752.9,1129.5 1753.7,1129.5 1754.6,1129.4 1755.4,1129.4 1756.2,1129.4 1757.0,1129.3 1757.9,1129.3 1758.7,1129.2 1759.5,1129.1 1760.4,1129.1 1761.2,1129.0 1762.0,1128.9 1762.9,1128.8 1763.7,1128.8 1764.5,1128.7 1765.4,1128.6 1766.2,1128.5 1767.0,1128.4 1767.8,1128.3 1768.7,1128.2 1769.5,1128.2 1770.3,1128.1 1771.2,1128.0 1772.0,1127.9 1772.8,1127.8 1773.7,1127.8 1774.5,1127.7 1775.3,1127.6 1776.2,1127.5 1777.0,1127.5 1777.8,1127.4 1778.7,1127.4 1779.5,1127.3 1780.3,1127.3 1781.1,1127.2 1782.0,1127.2 1782.8,1127.2 1783.6,1127.2 1784.5,1127.1 1785.3,1127.1 1786.1,1127.1 1787.0,1127.1 1787.8,1127.1 1788.6,1127.1 1789.5,1127.1 1790.3,1127.1 1791.1,1127.1 1791.9,1127.1 1792.8,1127.1 1793.6,1127.1 1794.4,1127.1 1795.3,1127.1 1796.1,1127.1 1796.9,1127.1 1797.8,1127.1 1798.6,1127.1 1799.4,1127.1 1800.3,1127.1 1801.1,1127.1 1801.9,1127.1 1802.8,1127.1 1803.6,1127.1 1804.4,1127.1 1805.2,1127.1 1806.1,1127.1 1806.9,1127.1 1807.7,1127.1 1808.6,1127.1 1809.4,1127.1 1810.2,1127.1 1811.1,1127.1 1811.9,1127.1 1812.7,1127.1 1813.6,1127.1 1814.4,1127.1 1815.2,1127.1 1816.0,1127.1 1816.9,1127.1 1817.7,1127.1 1818.5,1127.1 1819.4,1127.1 1820.2,1127.1 1821.0,1127.1 1821.9,1127.1 1822.7,1127.1 1823.5,1127.1 1824.4,1127.1 1825.2,1127.1 1826.0,1127.1 1826.8,1127.1 1827.7,1127.1 1828.5,1127.1 1829.3,1127.1 1830.2,1127.1 1831.0,1127.1 1831.8,1127.1 1832.7,1127.1 1833.5,1127.1 1834.3,1127.1 1835.2,1127.1 1836.0,1127.1 1836.8,1127.1 1837.7,1127.1 1838.5,1127.1 1839.3,1127.1 1840.1,1127.1" transform="translate(0,-1.0)"/><path d="M287.0,1135.4 287.8,1135.4 288.7,1135.4 289.5,1135.4 290.3,1135.4 291.2,1135.4 292.0,1135.4 292.8,1135.4 293.7,1135.4 294.5,1135.4 295.3,1135.4 296.1,1135.4 297.0,1135.4 297.8,1135.4 298.6,1135.4 299.5,1135.4 300.3,1135.4 301.1,1135.4 302.0,1135.4 302.8,1135.4 303.6,1135.4 304.5,1135.4 305.3,1135.4 306.1,1135.4 307.0,1135.4 307.8,1135.4 308.6,1135.4 309.4,1135.4 310.3,1135.4 311.1,1135.4 311.9,1135.4 312.8,1135.4 313.6,1135.4 314.4,1135.4 315.3,1135.4 316.1,1135.4 316.9,1135.4 317.8,1135.4 318.6,1135.4 319.4,1135.4 320.2,1135.4 321.1,1135.4 321.9,1135.4 322.7,1135.4 323.6,1135.4 324.4,1135.4 325.2,1135.4 326.1,1135.4 326.9,1135.4 327.7,1135.4 328.6,1135.4 329.4,1135.4 330.2,1135.4 331.1,1135.4 331.9,1135.4 332.7,1135.4 333.5,1135.4 334.4,1135.4 335.2,1135.4 336.0,1135.4 336.9,1135.4 337.7,1135.4 338.5,1135.4 339.4,1135.4 340.2,1135.4 341.0,1135.4 341.9,1135.4 342.7,1135.4 343.5,1135.4 344.3,1135.4 345.2,1135.4 346.0,1135.4 346.8,1135.4 347.7,1135.4 348.5,1135.4 349.3,1135.4 350.2,1135.4 351.0,1135.4 351.8,1135.4 352.7,1135.4 353.5,1135.4 354.3,1135.4 355.1,1135.4 356.0,1135.4 356.8,1135.4 357.6,1135.4 358.5,1135.4 359.3,1135.4 360.1,1135.4 361.0,1135.4 361.8,1135.4 362.6,1135.4 363.5,1135.4 364.3,1135.4 365.1,1135.4 366.0,1135.4 366.8,1135.4 367.6,1135.4 368.4,1135.4 369.3,1135.4 370.1,1135.4 370.9,1135.4 371.8,1135.4 372.6,1135.4 373.4,1135.4 374.3,1135.4 375.1,1135.4 375.9,1135.4 376.8,1135.4 377.6,1135.4 378.4,1135.4 379.2,1135.4 380.1,1135.4 380.9,1135.4 381.7,1135.4 382.6,1135.4 383.4,1135.4 384.2,1135.4 385.1,1135.4 385.9,1135.4 386.7,1135.4 387.6,1135.4 388.4,1135.4 389.2,1135.4 390.1,1135.4 390.9,1135.4 391.7,1135.4 392.5,1135.4 393.4,1135.4 394.2,1135.4 395.0,1135.4 395.9,1135.4 396.7,1135.4 397.5,1135.4 398.4,1135.4 399.2,1135.4 400.0,1135.4 400.9,1135.4 401.7,1135.4 402.5,1135.4 403.3,1135.4 404.2,1135.4 405.0,1135.4 405.8,1135.4 406.7,1135.4 407.5,1135.4 408.3,1135.4 409.2,1135.4 410.0,1135.4 410.8,1135.4 411.7,1135.4 412.5,1135.4 413.3,1135.4 414.1,1135.4 415.0,1135.4 415.8,1135.4 416.6,1135.4 417.5,1135.4 418.3,1135.4 419.1,1135.4 420.0,1135.4 420.8,1135.4 421.6,1135.4 422.5,1135.4 423.3,1135.4 424.1,1135.4 425.0,1135.4 425.8,1135.4 426.6,1135.4 427.4,1135.4 428.3,1135.4 429.1,1135.4 429.9,1135.4 430.8,1135.4 431.6,1135.4 432.4,1135.4 433.3,1135.4 434.1,1135.4 434.9,1135.4 435.8,1135.4 436.6,1135.4 437.4,1135.4 438.2,1135.4 439.1,1135.4 439.9,1135.4 440.7,1135.4 441.6,1135.4 442.4,1135.4 443.2,1135.4 444.1,1135.4 444.9,1135.4 445.7,1135.4 446.6,1135.4 447.4,1135.4 448.2,1135.4 449.1,1135.4 449.9,1135.4 450.7,1135.4 451.5,1135.4 452.4,1135.4 453.2,1135.4 454.0,1135.4 454.9,1135.4 455.7,1135.4 456.5,1135.4 457.4,1135.4 458.2,1135.4 459.0,1135.4 459.9,1135.4 460.7,1135.4 461.5,1135.4 462.3,1135.4 463.2,1135.4 464.0,1135.4 464.8,1135.4 465.7,1135.4 466.5,1135.4 467.3,1135.4 468.2,1135.4 469.0,1135.4 469.8,1135.4 470.7,1135.4 471.5,1135.4 472.3,1135.4 473.2,1135.4 474.0,1135.4 474.8,1135.4 475.6,1135.4 476.5,1135.4 477.3,1135.4 478.1,1135.4 479.0,1135.4 479.8,1135.4 480.6,1135.4 481.5,1135.4 482.3,1135.4 483.1,1135.4 484.0,1135.4 484.8,1135.4 485.6,1135.4 486.4,1135.4 487.3,1135.4 488.1,1135.4 488.9,1135.4 489.8,1135.4 490.6,1135.4 491.4,1135.4 492.3,1135.4 493.1,1135.4 493.9,1135.4 494.8,1135.4 495.6,1135.4 496.4,1135.4 497.2,1135.4 498.1,1135.4 498.9,1135.4 499.7,1135.4 500.6,1135.4 501.4,1135.4 502.2,1135.4 503.1,1135.4 503.9,1135.4 504.7,1135.4 505.6,1135.4 506.4,1135.4 507.2,1135.4 508.1,1135.4 508.9,1135.4 509.7,1135.4 510.5,1135.4 511.4,1135.4 512.2,1135.4 513.0,1135.4 513.9,1135.4 514.7,1135.4 515.5,1135.4 516.4,1135.4 517.2,1135.4 518.0,1135.4 518.9,1135.4 519.7,1135.4 520.5,1135.4 521.3,1135.4 522.2,1135.4 523.0,1135.4 523.8,1135.4 524.7,1135.4 525.5,1135.4 526.3,1135.4 527.2,1135.4 528.0,1135.4 528.8,1135.4 529.7,1135.4 530.5,1135.4 531.3,1135.4 532.2,1135.4 533.0,1135.4 533.8,1135.4 534.6,1135.4 535.5,1135.4 536.3,1135.4 537.1,1135.4 538.0,1135.4 538.8,1135.4 539.6,1135.4 540.5,1135.4 541.3,1135.4 542.1,1135.4 543.0,1135.4 543.8,1135.4 544.6,1135.4 545.4,1135.4 546.3,1135.4 547.1,1135.4 547.9,1135.4 548.8,1135.4 549.6,1135.4 550.4,1135.4 551.3,1135.4 552.1,1135.4 552.9,1135.4 553.8,1135.4 554.6,1135.4 555.4,1135.4 556.3,1135.4 557.1,1135.4 557.9,1135.5 558.7,1135.6 559.6,1135.8 560.4,1136.1 561.2,1136.4 562.1,1136.8 562.9,1137.3 563.7,1138.1 564.6,1139.1 565.4,1140.3 566.2,1141.6 567.1,1142.8 567.9,1144.0 568.7,1145.1 569.5,1146.1 570.4,1147.2 571.2,1148.4 572.0,1149.6 572.9,1150.9 573.7,1152.0 574.5,1153.1 575.4,1154.1 576.2,1154.9 577.0,1155.5 577.9,1155.9 578.7,1156.1 579.5,1156.1 580.4,1156.1 581.2,1156.1 582.0,1156.1 582.8,1156.1 583.7,1156.1 584.5,1156.1 585.3,1156.1 586.2,1156.1 587.0,1156.1 587.8,1156.1 588.7,1156.1 589.5,1156.1 590.3,1156.1 591.2,1156.1 592.0,1156.1 592.8,1155.8 593.6,1155.1 594.5,1154.1 595.3,1152.8 596.1,1151.3 597.0,1149.8 597.8,1148.3 598.6,1147.0 599.5,1145.9 600.3,1145.1 601.1,1144.5 602.0,1143.9 602.8,1143.4 603.6,1143.0 604.4,1142.5 605.3,1142.2 606.1,1141.8 606.9,1141.5 607.8,1141.2 608.6,1140.9 609.4,1140.7 610.3,1140.4 611.1,1140.2 611.9,1139.9 612.8,1139.7 613.6,1139.5 614.4,1139.3 615.3,1139.2 616.1,1139.0 616.9,1138.9 617.7,1138.9 618.6,1138.9 619.4,1138.9 620.2,1139.0 621.1,1139.1 621.9,1139.2 622.7,1139.4 623.6,1139.5 624.4,1139.7 625.2,1139.9 626.1,1140.0 626.9,1140.1 627.7,1140.2 628.5,1140.2 629.4,1140.2 630.2,1140.2 631.0,1140.2 631.9,1140.2 632.7,1140.2 633.5,1140.2 634.4,1140.2 635.2,1140.2 636.0,1140.0 636.9,1139.4 637.7,1138.6 638.5,1137.6 639.4,1136.5 640.2,1135.5 641.0,1134.6 641.8,1134.0 642.7,1133.6 643.5,1133.1 644.3,1132.7 645.2,1132.3 646.0,1131.8 646.8,1131.4 647.7,1131.1 648.5,1130.7 649.3,1130.4 650.2,1130.1 651.0,1129.8 651.8,1129.6 652.6,1129.4 653.5,1129.3 654.3,1129.2 655.1,1129.2 656.0,1129.2 656.8,1129.2 657.6,1129.3 658.5,1129.3 659.3,1129.3 660.1,1129.4 661.0,1129.4 661.8,1129.5 662.6,1129.6 663.5,1129.6 664.3,1129.7 665.1,1129.8 665.9,1129.9 666.8,1130.0 667.6,1130.1 668.4,1130.2 669.3,1130.3 670.1,1130.4 670.9,1130.5 671.8,1130.6 672.6,1130.7 673.4,1130.9 674.3,1131.1 675.1,1131.3 675.9,1131.5 676.7,1131.7 677.6,1132.0 678.4,1132.3 679.2,1132.5 680.1,1132.8 680.9,1133.1 681.7,1133.3 682.6,1133.6 683.4,1133.9 684.2,1134.2 685.1,1134.4 685.9,1134.7 686.7,1135.0 687.5,1135.3 688.4,1135.7 689.2,1136.0 690.0,1136.4 690.9,1136.7 691.7,1137.1 692.5,1137.6 693.4,1138.2 694.2,1138.9 695.0,1139.7 695.9,1140.4 696.7,1141.1 697.5,1141.8 698.4,1142.3 699.2,1142.8 700.0,1143.0 700.8,1143.1 701.7,1143.2 702.5,1143.4 703.3,1143.5 704.2,1143.6 705.0,1143.7 705.8,1143.7 706.7,1143.8 707.5,1143.9 708.3,1143.9 709.2,1144.0 710.0,1144.0 710.8,1144.0 711.6,1144.0 712.5,1144.0 713.3,1143.9 714.1,1143.7 715.0,1143.4 715.8,1143.1 716.6,1142.7 717.5,1142.3 718.3,1141.9 719.1,1141.5 720.0,1141.1 720.8,1140.6 721.6,1140.2 722.5,1139.8 723.3,1139.1 724.1,1138.5 724.9,1137.8 725.8,1137.1 726.6,1136.6 727.4,1136.2 728.3,1136.1 729.1,1136.1 729.9,1136.1 730.8,1136.1 731.6,1136.1 732.4,1136.1 733.3,1136.1 734.1,1136.1 734.9,1136.1 735.7,1136.1 736.6,1136.1 737.4,1136.1 738.2,1136.1 739.1,1136.1 739.9,1136.2 740.7,1136.3 741.6,1136.5 742.4,1136.7 743.2,1136.9 744.1,1137.1 744.9,1137.3 745.7,1137.5 746.5,1137.8 747.4,1138.0 748.2,1138.2 749.0,1138.4 749.9,1138.6 750.7,1138.8 751.5,1139.0 752.4,1139.2 753.2,1139.4 754.0,1139.6 754.9,1139.8 755.7,1140.0 756.5,1140.2 757.4,1140.4 758.2,1140.6 759.0,1140.8 759.8,1141.0 760.7,1141.2 761.5,1141.4 762.3,1141.5 763.2,1141.7 764.0,1141.9 764.8,1142.1 765.7,1142.2 766.5,1142.3 767.3,1142.4 768.2,1142.5 769.0,1142.6 769.8,1142.7 770.6,1142.8 771.5,1142.8 772.3,1142.9 773.1,1142.9 774.0,1143.0 774.8,1143.0 775.6,1142.9 776.5,1142.8 777.3,1142.6 778.1,1142.3 779.0,1141.9 779.8,1141.5 780.6,1141.0 781.5,1140.6 782.3,1140.1 783.1,1139.5 783.9,1138.9 784.8,1138.1 785.6,1137.1 786.4,1136.0 787.3,1134.8 788.1,1133.7 788.9,1132.5 789.8,1131.5 790.6,1130.6 791.4,1129.9 792.3,1129.4 793.1,1128.9 793.9,1128.6 794.7,1128.2 795.6,1127.9 796.4,1127.5 797.2,1127.0 798.1,1126.5 798.9,1125.7 799.7,1124.7 800.6,1123.5 801.4,1122.1 802.2,1120.7 803.1,1119.2 803.9,1117.8 804.7,1116.4 805.6,1115.1 806.4,1114.1 807.2,1113.0 808.0,1111.9 808.9,1110.8 809.7,1109.7 810.5,1108.7 811.4,1107.8 812.2,1107.1 813.0,1106.5 813.9,1106.2 814.7,1106.2 815.5,1106.5 816.4,1107.2 817.2,1108.2 818.0,1109.3 818.8,1110.6 819.7,1112.0 820.5,1113.4 821.3,1114.7 822.2,1116.2 823.0,1117.9 823.8,1119.8 824.7,1121.8 825.5,1123.7 826.3,1125.4 827.2,1126.9 828.0,1128.1 828.8,1129.4 829.6,1130.5 830.5,1131.6 831.3,1132.5 832.1,1133.2 833.0,1133.7 833.8,1134.0 834.6,1134.3 835.5,1134.5 836.3,1134.7 837.1,1134.9 838.0,1135.1 838.8,1135.2 839.6,1135.3 840.5,1135.4 841.3,1135.4 842.1,1135.4 842.9,1135.4 843.8,1135.4 844.6,1135.4 845.4,1135.4 846.3,1135.4 847.1,1135.4 847.9,1135.4 848.8,1135.4 849.6,1135.4 850.4,1135.4 851.3,1135.4 852.1,1135.4 852.9,1135.4 853.7,1135.4 854.6,1135.4 855.4,1135.4 856.2,1135.4 857.1,1135.4 857.9,1135.4 858.7,1135.4 859.6,1135.4 860.4,1135.4 861.2,1135.4 862.1,1135.4 862.9,1135.4 863.7,1135.4 864.6,1135.4 865.4,1135.4 866.2,1135.4 867.0,1135.4 867.9,1135.4 868.7,1135.4 869.5,1135.4 870.4,1135.4 871.2,1135.4 872.0,1135.4 872.9,1135.4 873.7,1135.4 874.5,1135.4 875.4,1135.4 876.2,1135.4 877.0,1135.4 877.8,1135.4 878.7,1135.4 879.5,1135.4 880.3,1135.4 881.2,1135.4 882.0,1135.4 882.8,1135.4 883.7,1135.4 884.5,1135.4 885.3,1135.4 886.2,1135.4 887.0,1135.4 887.8,1135.4 888.7,1135.4 889.5,1135.4 890.3,1135.4 891.1,1135.4 892.0,1135.4 892.8,1135.4 893.6,1135.4 894.5,1135.4 895.3,1135.4 896.1,1135.4 897.0,1135.4 897.8,1135.4 898.6,1135.4 899.5,1135.4 900.3,1135.4 901.1,1135.4 901.9,1135.4 902.8,1135.4 903.6,1135.4 904.4,1135.4 905.3,1135.4 906.1,1135.4 906.9,1135.4 907.8,1135.4 908.6,1135.4 909.4,1135.4 910.3,1135.4 911.1,1135.4 911.9,1135.4 912.8,1135.4 913.6,1135.4 914.4,1135.4 915.2,1135.4 916.1,1135.4 916.9,1135.4 917.7,1135.4 918.6,1135.4 919.4,1135.4 920.2,1135.4 921.1,1135.4 921.9,1135.4 922.7,1135.4 923.6,1135.4 924.4,1135.4 925.2,1135.4 926.0,1135.4 926.9,1135.4 927.7,1135.4 928.5,1135.4 929.4,1135.4 930.2,1135.4 931.0,1135.4 931.9,1135.4 932.7,1135.4 933.5,1135.4 934.4,1135.4 935.2,1135.4 936.0,1135.4 936.8,1135.4 937.7,1135.4 938.5,1135.4 939.3,1135.4 940.2,1135.4 941.0,1135.4 941.8,1135.4 942.7,1135.4 943.5,1135.4 944.3,1135.4 945.2,1135.4 946.0,1135.4 946.8,1135.4 947.7,1135.4 948.5,1135.4 949.3,1135.4 950.1,1135.4 951.0,1135.4 951.8,1135.4 952.6,1135.4 953.5,1135.4 954.3,1135.4 955.1,1135.4 956.0,1135.4 956.8,1135.4 957.6,1135.4 958.5,1135.4 959.3,1135.4 960.1,1135.4 960.9,1135.4 961.8,1135.4 962.6,1135.4 963.4,1135.4 964.3,1135.4 965.1,1135.4 965.9,1135.4 966.8,1135.4 967.6,1135.4 968.4,1135.4 969.3,1135.4 970.1,1135.4 970.9,1135.4 971.8,1135.4 972.6,1135.4 973.4,1135.4 974.2,1135.4 975.1,1135.4 975.9,1135.4 976.7,1135.4 977.6,1135.4 978.4,1135.4 979.2,1135.4 980.1,1135.4 980.9,1135.4 981.7,1135.4 982.6,1135.4 983.4,1135.4 984.2,1135.4 985.0,1135.4 985.9,1135.4 986.7,1135.4 987.5,1135.4 988.4,1135.4 989.2,1135.4 990.0,1135.4 990.9,1135.4 991.7,1135.4 992.5,1135.4 993.4,1135.4 994.2,1135.4 995.0,1135.4 995.9,1135.4 996.7,1135.4 997.5,1135.4 998.3,1135.4 999.2,1135.4 1000.0,1135.4 1000.8,1135.4 1001.7,1135.4 1002.5,1135.4 1003.3,1135.4 1004.2,1135.4 1005.0,1135.4 1005.8,1135.4 1006.7,1135.4 1007.5,1135.4 1008.3,1135.4 1009.1,1135.4 1010.0,1135.4 1010.8,1135.4 1011.6,1135.4 1012.5,1135.4 1013.3,1135.4 1014.1,1135.4 1015.0,1135.4 1015.8,1135.4 1016.6,1135.4 1017.5,1135.4 1018.3,1135.4 1019.1,1135.4 1019.9,1135.4 1020.8,1135.4 1021.6,1135.4 1022.4,1135.4 1023.3,1135.4 1024.1,1135.4 1024.9,1135.4 1025.8,1135.4 1026.6,1135.4 1027.4,1135.4 1028.3,1135.4 1029.1,1135.4 1029.9,1135.4 1030.8,1135.4 1031.6,1135.4 1032.4,1135.4 1033.2,1135.4 1034.1,1135.4 1034.9,1135.4 1035.7,1135.4 1036.6,1135.4 1037.4,1135.4 1038.2,1135.4 1039.1,1135.4 1039.9,1135.4 1040.7,1135.4 1041.6,1135.4 1042.4,1135.4 1043.2,1135.4 1044.0,1135.4 1044.9,1135.4 1045.7,1135.4 1046.5,1135.4 1047.4,1135.4 1048.2,1135.4 1049.0,1135.4 1049.9,1135.4 1050.7,1135.4 1051.5,1135.4 1052.4,1135.4 1053.2,1135.4 1054.0,1135.4 1054.9,1135.4 1055.7,1135.4 1056.5,1135.4 1057.3,1135.4 1058.2,1135.4 1059.0,1135.4 1059.8,1135.4 1060.7,1135.4 1061.5,1135.4 1062.3,1135.4 1063.2,1135.4 1064.0,1135.4 1064.8,1135.4 1065.7,1135.4 1066.5,1135.4 1067.3,1135.4 1068.1,1135.4 1069.0,1135.4 1069.8,1135.4 1070.6,1135.4 1071.5,1135.4 1072.3,1135.4 1073.1,1135.4 1074.0,1135.4 1074.8,1135.4 1075.6,1135.4 1076.5,1135.4 1077.3,1135.4 1078.1,1135.4 1079.0,1135.4 1079.8,1135.4 1080.6,1135.4 1081.4,1135.4 1082.3,1135.4 1083.1,1135.4 1083.9,1135.4 1084.8,1135.4 1085.6,1135.4 1086.4,1135.4 1087.3,1135.4 1088.1,1135.4 1088.9,1135.4 1089.8,1135.4 1090.6,1135.4 1091.4,1135.4 1092.2,1135.4 1093.1,1135.4 1093.9,1135.4 1094.7,1135.4 1095.6,1135.4 1096.4,1135.4 1097.2,1135.4 1098.1,1135.4 1098.9,1135.4 1099.7,1135.4 1100.6,1135.4 1101.4,1135.4 1102.2,1135.4 1103.0,1135.4 1103.9,1135.4 1104.7,1135.4 1105.5,1135.4 1106.4,1135.4 1107.2,1135.4 1108.0,1135.4 1108.9,1135.4 1109.7,1135.4 1110.5,1135.4 1111.4,1135.4 1112.2,1135.4 1113.0,1135.4 1113.9,1135.4 1114.7,1135.4 1115.5,1135.4 1116.3,1135.4 1117.2,1135.4 1118.0,1135.4 1118.8,1135.4 1119.7,1135.4 1120.5,1135.4 1121.3,1135.4 1122.2,1135.4 1123.0,1135.4 1123.8,1135.4 1124.7,1135.4 1125.5,1135.4 1126.3,1135.4 1127.1,1135.4 1128.0,1135.4 1128.8,1135.4 1129.6,1135.4 1130.5,1135.4 1131.3,1135.4 1132.1,1135.4 1133.0,1135.4 1133.8,1135.4 1134.6,1135.4 1135.5,1135.4 1136.3,1135.4 1137.1,1135.4 1138.0,1135.4 1138.8,1135.4 1139.6,1135.4 1140.4,1135.4 1141.3,1135.4 1142.1,1135.4 1142.9,1135.4 1143.8,1135.4 1144.6,1135.4 1145.4,1135.4 1146.3,1135.4 1147.1,1135.4 1147.9,1135.4 1148.8,1135.4 1149.6,1135.4 1150.4,1135.4 1151.2,1135.4 1152.1,1135.4 1152.9,1135.4 1153.7,1135.4 1154.6,1135.4 1155.4,1135.4 1156.2,1135.4 1157.1,1135.4 1157.9,1135.4 1158.7,1135.4 1159.6,1135.4 1160.4,1135.4 1161.2,1135.4 1162.0,1135.4 1162.9,1135.4 1163.7,1135.4 1164.5,1135.4 1165.4,1135.4 1166.2,1135.4 1167.0,1135.4 1167.9,1135.4 1168.7,1135.4 1169.5,1135.4 1170.4,1135.4 1171.2,1135.4 1172.0,1135.4 1172.9,1135.4 1173.7,1135.4 1174.5,1135.4 1175.3,1135.4 1176.2,1135.4 1177.0,1135.4 1177.8,1135.4 1178.7,1135.4 1179.5,1135.4 1180.3,1135.4 1181.2,1135.4 1182.0,1135.4 1182.8,1135.4 1183.7,1135.4 1184.5,1135.4 1185.3,1135.4 1186.1,1135.4 1187.0,1135.4 1187.8,1135.4 1188.6,1135.4 1189.5,1135.4 1190.3,1135.4 1191.1,1135.4 1192.0,1135.4 1192.8,1135.4 1193.6,1135.4 1194.5,1135.4 1195.3,1135.4 1196.1,1135.4 1197.0,1135.4 1197.8,1135.4 1198.6,1135.4 1199.4,1135.4 1200.3,1135.4 1201.1,1135.4 1201.9,1135.4 1202.8,1135.4 1203.6,1135.4 1204.4,1135.4 1205.3,1135.4 1206.1,1135.4 1206.9,1135.4 1207.8,1135.4 1208.6,1135.4 1209.4,1135.3 1210.2,1135.1 1211.1,1134.9 1211.9,1134.7 1212.7,1134.5 1213.6,1134.2 1214.4,1133.9 1215.2,1133.5 1216.1,1133.0 1216.9,1132.4 1217.7,1131.6 1218.6,1130.8 1219.4,1129.9 1220.2,1128.7 1221.1,1127.2 1221.9,1125.5 1222.7,1123.5 1223.5,1121.3 1224.4,1118.9 1225.2,1115.6 1226.0,1111.6 1226.9,1107.2 1227.7,1102.5 1228.5,1097.1 1229.4,1091.1 1230.2,1084.5 1231.0,1077.3 1231.9,1069.1 1232.7,1059.9 1233.5,1050.2 1234.3,1040.0 1235.2,1029.0 1236.0,1017.4 1236.8,1005.2 1237.7,992.5 1238.5,979.3 1239.3,965.5 1240.2,951.2 1241.0,936.7 1241.8,921.6 1242.7,906.1 1243.5,890.3 1244.3,874.0 1245.2,857.1 1246.0,839.8 1246.8,822.2 1247.6,804.6 1248.5,786.6 1249.3,768.4 1250.1,750.2 1251.0,732.1 1251.8,713.9 1252.6,695.8 1253.5,677.7 1254.3,659.8 1255.1,642.0 1256.0,624.3 1256.8,606.8 1257.6,589.5 1258.4,572.1 1259.3,555.0 1260.1,538.6 1260.9,523.2 1261.8,508.3 1262.6,494.0 1263.4,480.5 1264.3,467.9 1265.1,456.0 1265.9,444.6 1266.8,433.9 1267.6,424.1 1268.4,415.5 1269.2,408.1 1270.1,401.2 1270.9,395.1 1271.7,389.8 1272.6,385.3 1273.4,381.1 1274.2,377.4 1275.1,374.5 1275.9,372.5 1276.7,371.0 1277.6,369.8 1278.4,368.9 1279.2,368.7 1280.1,369.2 1280.9,370.3 1281.7,371.7 1282.5,373.3 1283.4,374.9 1284.2,376.8 1285.0,379.0 1285.9,381.5 1286.7,384.2 1287.5,386.9 1288.4,390.1 1289.2,393.4 1290.0,396.9 1290.9,400.4 1291.7,403.8 1292.5,407.1 1293.3,410.7 1294.2,414.7 1295.0,419.2 1295.8,424.3 1296.7,429.3 1297.5,434.2 1298.3,438.9 1299.2,443.9 1300.0,449.3 1300.8,455.4 1301.7,463.0 1302.5,471.6 1303.3,480.6 1304.2,489.2 1305.0,497.6 1305.8,505.9 1306.6,514.3 1307.5,522.7 1308.3,531.0 1309.1,539.4 1310.0,547.7 1310.8,556.1 1311.6,564.5 1312.5,572.8 1313.3,581.1 1314.1,589.4 1315.0,597.7 1315.8,606.0 1316.6,614.3 1317.4,622.5 1318.3,630.7 1319.1,638.7 1319.9,646.8 1320.8,654.7 1321.6,662.6 1322.4,670.4 1323.3,678.1 1324.1,685.7 1324.9,693.2 1325.8,700.6 1326.6,708.0 1327.4,715.2 1328.2,722.3 1329.1,729.3 1329.9,736.3 1330.7,743.3 1331.6,750.1 1332.4,756.8 1333.2,763.3 1334.1,769.5 1334.9,775.3 1335.7,781.0 1336.6,786.4 1337.4,791.7 1338.2,796.9 1339.1,802.0 1339.9,807.1 1340.7,812.3 1341.5,817.6 1342.4,822.9 1343.2,828.2 1344.0,833.5 1344.9,838.7 1345.7,843.8 1346.5,848.8 1347.4,853.6 1348.2,858.3 1349.0,862.8 1349.9,867.2 1350.7,871.6 1351.5,875.8 1352.3,880.0 1353.2,884.1 1354.0,888.1 1354.8,892.0 1355.7,895.8 1356.5,899.5 1357.3,903.1 1358.2,906.7 1359.0,910.2 1359.8,913.6 1360.7,917.0 1361.5,920.4 1362.3,923.6 1363.2,926.8 1364.0,929.9 1364.8,932.9 1365.6,935.8 1366.5,938.6 1367.3,941.3 1368.1,943.9 1369.0,946.5 1369.8,948.9 1370.6,951.4 1371.5,953.8 1372.3,956.1 1373.1,958.3 1374.0,960.6 1374.8,962.8 1375.6,964.9 1376.4,967.0 1377.3,969.1 1378.1,971.1 1378.9,973.1 1379.8,975.0 1380.6,977.0 1381.4,978.9 1382.3,980.7 1383.1,982.6 1383.9,984.4 1384.8,986.2 1385.6,988.0 1386.4,989.7 1387.3,991.4 1388.1,993.1 1388.9,994.8 1389.7,996.4 1390.6,998.0 1391.4,999.6 1392.2,1001.2 1393.1,1002.7 1393.9,1004.3 1394.7,1005.8 1395.6,1007.3 1396.4,1008.7 1397.2,1010.2 1398.1,1011.6 1398.9,1013.1 1399.7,1014.5 1400.5,1015.9 1401.4,1017.3 1402.2,1018.7 1403.0,1020.0 1403.9,1021.4 1404.7,1022.7 1405.5,1024.0 1406.4,1025.3 1407.2,1026.6 1408.0,1027.8 1408.9,1029.1 1409.7,1030.3 1410.5,1031.5 1411.3,1032.7 1412.2,1033.9 1413.0,1035.1 1413.8,1036.2 1414.7,1037.4 1415.5,1038.5 1416.3,1039.6 1417.2,1040.7 1418.0,1041.8 1418.8,1042.8 1419.7,1043.9 1420.5,1044.9 1421.3,1045.9 1422.2,1047.0 1423.0,1048.0 1423.8,1049.0 1424.6,1049.9 1425.5,1050.9 1426.3,1051.9 1427.1,1052.8 1428.0,1053.8 1428.8,1054.7 1429.6,1055.6 1430.5,1056.5 1431.3,1057.5 1432.1,1058.4 1433.0,1059.3 1433.8,1060.2 1434.6,1061.1 1435.4,1062.0 1436.3,1062.9 1437.1,1063.7 1437.9,1064.6 1438.8,1065.5 1439.6,1066.3 1440.4,1067.2 1441.3,1068.0 1442.1,1068.9 1442.9,1069.7 1443.8,1070.5 1444.6,1071.3 1445.4,1072.1 1446.3,1072.9 1447.1,1073.7 1447.9,1074.4 1448.7,1075.2 1449.6,1075.9 1450.4,1076.6 1451.2,1077.3 1452.1,1078.0 1452.9,1078.7 1453.7,1079.3 1454.6,1080.0 1455.4,1080.6 1456.2,1081.3 1457.1,1081.9 1457.9,1082.5 1458.7,1083.2 1459.5,1083.8 1460.4,1084.4 1461.2,1085.0 1462.0,1085.5 1462.9,1086.1 1463.7,1086.7 1464.5,1087.2 1465.4,1087.8 1466.2,1088.4 1467.0,1088.9 1467.9,1089.4 1468.7,1090.0 1469.5,1090.5 1470.4,1091.0 1471.2,1091.5 1472.0,1092.0 1472.8,1092.5 1473.7,1093.0 1474.5,1093.5 1475.3,1094.0 1476.2,1094.5 1477.0,1095.0 1477.8,1095.4 1478.7,1095.9 1479.5,1096.3 1480.3,1096.8 1481.2,1097.2 1482.0,1097.6 1482.8,1098.0 1483.6,1098.5 1484.5,1098.9 1485.3,1099.3 1486.1,1099.7 1487.0,1100.1 1487.8,1100.5 1488.6,1100.9 1489.5,1101.2 1490.3,1101.6 1491.1,1102.0 1492.0,1102.4 1492.8,1102.7 1493.6,1103.1 1494.5,1103.5 1495.3,1103.8 1496.1,1104.2 1496.9,1104.5 1497.8,1104.8 1498.6,1105.2 1499.4,1105.5 1500.3,1105.8 1501.1,1106.1 1501.9,1106.4 1502.8,1106.7 1503.6,1107.0 1504.4,1107.3 1505.3,1107.6 1506.1,1107.8 1506.9,1108.1 1507.7,1108.4 1508.6,1108.6 1509.4,1108.9 1510.2,1109.2 1511.1,1109.4 1511.9,1109.7 1512.7,1109.9 1513.6,1110.2 1514.4,1110.4 1515.2,1110.7 1516.1,1110.9 1516.9,1111.1 1517.7,1111.4 1518.5,1111.6 1519.4,1111.8 1520.2,1112.0 1521.0,1112.3 1521.9,1112.5 1522.7,1112.7 1523.5,1112.9 1524.4,1113.1 1525.2,1113.3 1526.0,1113.6 1526.9,1113.8 1527.7,1114.0 1528.5,1114.2 1529.4,1114.4 1530.2,1114.6 1531.0,1114.8 1531.8,1115.0 1532.7,1115.2 1533.5,1115.4 1534.3,1115.6 1535.2,1115.8 1536.0,1116.0 1536.8,1116.2 1537.7,1116.4 1538.5,1116.6 1539.3,1116.8 1540.2,1117.0 1541.0,1117.1 1541.8,1117.3 1542.6,1117.5 1543.5,1117.7 1544.3,1117.9 1545.1,1118.0 1546.0,1118.2 1546.8,1118.4 1547.6,1118.5 1548.5,1118.7 1549.3,1118.9 1550.1,1119.0 1551.0,1119.2 1551.8,1119.3 1552.6,1119.5 1553.5,1119.6 1554.3,1119.8 1555.1,1119.9 1555.9,1120.0 1556.8,1120.2 1557.6,1120.3 1558.4,1120.4 1559.3,1120.6 1560.1,1120.7 1560.9,1120.8 1561.8,1121.0 1562.6,1121.1 1563.4,1121.2 1564.3,1121.3 1565.1,1121.5 1565.9,1121.6 1566.7,1121.7 1567.6,1121.8 1568.4,1121.9 1569.2,1122.0 1570.1,1122.2 1570.9,1122.3 1571.7,1122.4 1572.6,1122.5 1573.4,1122.6 1574.2,1122.7 1575.1,1122.9 1575.9,1123.0 1576.7,1123.1 1577.5,1123.2 1578.4,1123.4 1579.2,1123.5 1580.0,1123.6 1580.9,1123.7 1581.7,1123.8 1582.5,1123.9 1583.4,1124.0 1584.2,1124.1 1585.0,1124.2 1585.9,1124.3 1586.7,1124.4 1587.5,1124.5 1588.4,1124.6 1589.2,1124.6 1590.0,1124.7 1590.8,1124.7 1591.7,1124.8 1592.5,1124.8 1593.3,1124.8 1594.2,1124.9 1595.0,1124.9 1595.8,1124.9 1596.7,1124.9 1597.5,1125.0 1598.3,1125.0 1599.2,1125.0 1600.0,1125.0 1600.8,1125.1 1601.6,1125.1 1602.5,1125.1 1603.3,1125.1 1604.1,1125.1 1605.0,1125.2 1605.8,1125.2 1606.6,1125.2 1607.5,1125.2 1608.3,1125.2 1609.1,1125.3 1610.0,1125.3 1610.8,1125.3 1611.6,1125.3 1612.5,1125.3 1613.3,1125.4 1614.1,1125.4 1614.9,1125.4 1615.8,1125.4 1616.6,1125.4 1617.4,1125.5 1618.3,1125.5 1619.1,1125.5 1619.9,1125.6 1620.8,1125.6 1621.6,1125.6 1622.4,1125.6 1623.3,1125.7 1624.1,1125.7 1624.9,1125.7 1625.7,1125.7 1626.6,1125.8 1627.4,1125.8 1628.2,1125.8 1629.1,1125.9 1629.9,1125.9 1630.7,1125.9 1631.6,1125.9 1632.4,1126.0 1633.2,1126.0 1634.1,1126.0 1634.9,1126.1 1635.7,1126.1 1636.6,1126.1 1637.4,1126.2 1638.2,1126.2 1639.0,1126.2 1639.9,1126.2 1640.7,1126.3 1641.5,1126.3 1642.4,1126.3 1643.2,1126.4 1644.0,1126.4 1644.9,1126.4 1645.7,1126.5 1646.5,1126.5 1647.4,1126.5 1648.2,1126.5 1649.0,1126.6 1649.8,1126.6 1650.7,1126.6 1651.5,1126.7 1652.3,1126.7 1653.2,1126.7 1654.0,1126.8 1654.8,1126.8 1655.7,1126.8 1656.5,1126.8 1657.3,1126.9 1658.2,1126.9 1659.0,1126.9 1659.8,1127.0 1660.7,1127.0 1661.5,1127.0 1662.3,1127.0 1663.1,1127.1 1664.0,1127.1 1664.8,1127.1 1665.6,1127.1 1666.5,1127.2 1667.3,1127.2 1668.1,1127.2 1669.0,1127.3 1669.8,1127.3 1670.6,1127.3 1671.5,1127.3 1672.3,1127.4 1673.1,1127.4 1673.9,1127.4 1674.8,1127.5 1675.6,1127.5 1676.4,1127.5 1677.3,1127.5 1678.1,1127.6 1678.9,1127.6 1679.8,1127.6 1680.6,1127.7 1681.4,1127.7 1682.3,1127.7 1683.1,1127.8 1683.9,1127.8 1684.7,1127.8 1685.6,1127.9 1686.4,1127.9 1687.2,1127.9 1688.1,1127.9 1688.9,1128.0 1689.7,1128.0 1690.6,1128.0 1691.4,1128.1 1692.2,1128.1 1693.1,1128.1 1693.9,1128.2 1694.7,1128.2 1695.6,1128.2 1696.4,1128.3 1697.2,1128.3 1698.0,1128.3 1698.9,1128.4 1699.7,1128.4 1700.5,1128.4 1701.4,1128.4 1702.2,1128.5 1703.0,1128.5 1703.9,1128.5 1704.7,1128.6 1705.5,1128.6 1706.4,1128.6 1707.2,1128.7 1708.0,1128.7 1708.8,1128.7 1709.7,1128.7 1710.5,1128.8 1711.3,1128.8 1712.2,1128.8 1713.0,1128.9 1713.8,1128.9 1714.7,1128.9 1715.5,1128.9 1716.3,1129.0 1717.2,1129.0 1718.0,1129.0 1718.8,1129.0 1719.7,1129.1 1720.5,1129.1 1721.3,1129.1 1722.1,1129.1 1723.0,1129.2 1723.8,1129.2 1724.6,1129.2 1725.5,1129.2 1726.3,1129.2 1727.1,1129.3 1728.0,1129.3 1728.8,1129.3 1729.6,1129.3 1730.5,1129.3 1731.3,1129.4 1732.1,1129.4 1732.9,1129.4 1733.8,1129.4 1734.6,1129.4 1735.4,1129.4 1736.3,1129.4 1737.1,1129.5 1737.9,1129.5 1738.8,1129.5 1739.6,1129.5 1740.4,1129.5 1741.3,1129.5 1742.1,1129.5 1742.9,1129.5 1743.8,1129.5 1744.6,1129.5 1745.4,1129.5 1746.2,1129.5 1747.1,1129.6 1747.9,1129.6 1748.7,1129.6 1749.6,1129.6 1750.4,1129.6 1751.2,1129.5 1752.1,1129.5 1752.9,1129.5 1753.7,1129.5 1754.6,1129.4 1755.4,1129.4 1756.2,1129.4 1757.0,1129.3 1757.9,1129.3 1758.7,1129.2 1759.5,1129.1 1760.4,1129.1 1761.2,1129.0 1762.0,1128.9 1762.9,1128.8 1763.7,1128.8 1764.5,1128.7 1765.4,1128.6 1766.2,1128.5 1767.0,1128.4 1767.8,1128.3 1768.7,1128.2 1769.5,1128.2 1770.3,1128.1 1771.2,1128.0 1772.0,1127.9 1772.8,1127.8 1773.7,1127.8 1774.5,1127.7 1775.3,1127.6 1776.2,1127.5 1777.0,1127.5 1777.8,1127.4 1778.7,1127.4 1779.5,1127.3 1780.3,1127.3 1781.1,1127.2 1782.0,1127.2 1782.8,1127.2 1783.6,1127.2 1784.5,1127.1 1785.3,1127.1 1786.1,1127.1 1787.0,1127.1 1787.8,1127.1 1788.6,1127.1 1789.5,1127.1 1790.3,1127.1 1791.1,1127.1 1791.9,1127.1 1792.8,1127.1 1793.6,1127.1 1794.4,1127.1 1795.3,1127.1 1796.1,1127.1 1796.9,1127.1 1797.8,1127.1 1798.6,1127.1 1799.4,1127.1 1800.3,1127.1 1801.1,1127.1 1801.9,1127.1 1802.8,1127.1 1803.6,1127.1 1804.4,1127.1 1805.2,1127.1 1806.1,1127.1 1806.9,1127.1 1807.7,1127.1 1808.6,1127.1 1809.4,1127.1 1810.2,1127.1 1811.1,1127.1 1811.9,1127.1 1812.7,1127.1 1813.6,1127.1 1814.4,1127.1 1815.2,1127.1 1816.0,1127.1 1816.9,1127.1 1817.7,1127.1 1818.5,1127.1 1819.4,1127.1 1820.2,1127.1 1821.0,1127.1 1821.9,1127.1 1822.7,1127.1 1823.5,1127.1 1824.4,1127.1 1825.2,1127.1 1826.0,1127.1 1826.8,1127.1 1827.7,1127.1 1828.5,1127.1 1829.3,1127.1 1830.2,1127.1 1831.0,1127.1 1831.8,1127.1 1832.7,1127.1 1833.5,1127.1 1834.3,1127.1 1835.2,1127.1 1836.0,1127.1 1836.8,1127.1 1837.7,1127.1 1838.5,1127.1 1839.3,1127.1 1840.1,1127.1" transform="translate(0,1.0)"/></g>
<g stroke="#ff8000" stroke-width="7.2"><path d="M287.0,1135.4 287.8,1135.4 288.7,1135.4 289.5,1135.4 290.3,1135.4 291.2,1135.4 292.0,1135.4 292.8,1135.4 293.7,1135.4 294.5,1135.4 295.3,1135.4 296.1,1135.4 297.0,1135.4 297.8,1135.4 298.6,1135.4 299.5,1135.4 300.3,1135.4 301.1,1135.4 302.0,1135.4 302.8,1135.4 303.6,1135.4 304.5,1135.4 305.3,1135.4 306.1,1135.4 307.0,1135.4 307.8,1135.4 308.6,1135.4 309.4,1135.4 310.3,1135.4 311.1,1135.4 311.9,1135.4 312.8,1135.4 313.6,1135.4 314.4,1135.4 315.3,1135.4 316.1,1135.4 316.9,1135.4 317.8,1135.4 318.6,1135.4 319.4,1135.4 320.2,1135.4 321.1,1135.4 321.9,1135.4 322.7,1135.4 323.6,1135.4 324.4,1135.4 325.2,1135.4 326.1,1135.4 326.9,1135.4 327.7,1135.4 328.6,1135.4 329.4,1135.4 330.2,1135.4 331.1,1135.4 331.9,1135.4 332.7,1135.4 333.5,1135.4 334.4,1135.4 335.2,1135.4 336.0,1135.4 336.9,1135.4 337.7,1135.4 338.5,1135.4 339.4,1135.4 340.2,1135.4 341.0,1135.4 341.9,1135.4 342.7,1135.4 343.5,1135.4 344.3,1135.4 345.2,1135.4 346.0,1135.4 346.8,1135.4 347.7,1135.4 348.5,1135.4 349.3,1135.4 350.2,1135.4 351.0,1135.4 351.8,1135.4 352.7,1135.4 353.5,1135.4 354.3,1135.4 355.1,1135.4 356.0,1135.4 356.8,1135.4 357.6,1135.4 358.5,1135.4 359.3,1135.4 360.1,1135.4 361.0,1135.4 361.8,1135.4 362.6,1135.4 363.5,1135.4 364.3,1135.4 365.1,1135.4 366.0,1135.4 366.8,1135.4 367.6,1135.4 368.4,1135.4 369.3,1135.4 370.1,1135.4 370.9,1135.4 371.8,1135.4 372.6,1135.4 373.4,1135.4 374.3,1135.4 375.1,1135.4 375.9,1135.4 376.8,1135.4 377.6,1135.4 378.4,1135.4 379.2,1135.4 380.1,1135.4 380.9,1135.4 381.7,1135.4 382.6,1135.4 383.4,1135.4 384.2,1135.4 385.1,1135.4 385.9,1135.4 386.7,1135.4 387.6,1135.4 388.4,1135.4 389.2,1135.4 390.1,1135.4 390.9,1135.4 391.7,1135.4 392.5,1135.4 393.4,1135.4 394.2,1135.4 395.0,1135.4 395.9,1135.4 396.7,1135.4 397.5,1135.4 398.4,1135.4 399.2,1135.4 400.0,1135.4 400.9,1135.4 401.7,1135.4 402.5,1135.4 403.3,1135.4 404.2,1135.4 405.0,1135.4 405.8,1135.4 406.7,1135.4 407.5,1135.4 408.3,1135.4 409.2,1135.4 410.0,1135.4 410.8,1135.4 411.7,1135.4 412.5,1135.4 413.3,1135.4 414.1,1135.4 415.0,1135.4 415.8,1135.4 416.6,1135.4 417.5,1135.4 418.3,1135.4 419.1,1135.4 420.0,1135.4 420.8,1135.4 421.6,1135.4 422.5,1135.4 423.3,1135.4 424.1,1135.4 425.0,1135.4 425.8,1135.4 426.6,1135.4 427.4,1135.4 428.3,1135.4 429.1,1135.4 429.9,1135.4 430.8,1135.4 431.6,1135.4 432.4,1135.4 433.3,1135.4 434.1,1135.4 434.9,1135.4 435.8,1135.4 436.6,1135.4 437.4,1135.4 438.2,1135.4 439.1,1135.4 439.9,1135.4 440.7,1135.4 441.6,1135.4 442.4,1135.4 443.2,1135.4 444.1,1135.4 444.9,1135.4 445.7,1135.4 446.6,1135.4 447.4,1135.4 448.2,1135.4 449.1,1135.4 449.9,1135.4 450.7,1135.4 451.5,1135.4 452.4,1135.4 453.2,1135.4 454.0,1135.4 454.9,1135.4 455.7,1135.4 456.5,1135.4 457.4,1135.4 458.2,1135.4 459.0,1135.4 459.9,1135.4 460.7,1135.4 461.5,1135.4 462.3,1135.4 463.2,1135.4 464.0,1135.4 464.8,1135.4 465.7,1135.4 466.5,1135.4 467.3,1135.4 468.2,1135.4 469.0,1135.4 469.8,1135.4 470.7,1135.4 471.5,1135.4 472.3,1135.4 473.2,1135.4 474.0,1135.4 474.8,1135.4 475.6,1135.4 476.5,1135.4 477.3,1135.4 478.1,1135.4 479.0,1135.4 479.8,1135.4 480.6,1135.4 481.5,1135.4 482.3,1135.4 483.1,1135.4 484.0,1135.4 484.8,1135.4 485.6,1135.4 486.4,1135.4 487.3,1135.4 488.1,1135.4 488.9,1135.4 489.8,1135.4 490.6,1135.4 491.4,1135.4 492.3,1135.4 493.1,1135.4 493.9,1135.4 494.8,1135.4 495.6,1135.4 496.4,1135.4 497.2,1135.4 498.1,1135.4 498.9,1135.4 499.7,1135.4 500.6,1135.4 501.4,1135.4 502.2,1135.4 503.1,1135.4 503.9,1135.4 504.7,1135.4 505.6,1135.4 506.4,1135.4 507.2,1135.4 508.1,1135.4 508.9,1135.4 509.7,1135.4 510.5,1135.4 511.4,1135.4 512.2,1135.4 513.0,1135.4 513.9,1135.4 514.7,1135.4 515.5,1135.4 516.4,1135.4 517.2,1135.4 518.0,1135.4 518.9,1135.4 519.7,1135.4 520.5,1135.4 521.3,1135.4 522.2,1135.4 523.0,1135.4 523.8,1135.4 524.7,1135.4 525.5,1135.4 526.3,1135.4 527.2,1135.4 528.0,1135.4 528.8,1135.4 529.7,1135.4 530.5,1135.4 531.3,1135.4 532.2,1135.4 533.0,1135.4 533.8,1135.4 534.6,1135.4 535.5,1135.4 536.3,1135.4 537.1,1135.4 538.0,1135.4 538.8,1135.4 539.6,1135.4 540.5,1135.4 541.3,1135.4 542.1,1135.4 543.0,1135.4 543.8,1135.4 544.6,1135.4 545.4,1135.4 546.3,1135.4 547.1,1135.4 547.9,1135.4 548.8,1135.4 549.6,1135.4 550.4,1135.4 551.3,1135.4 552.1,1135.4 552.9,1135.4 553.8,1135.4 554.6,1135.5 555.4,1135.6 556.3,1135.8 557.1,1136.1 557.9,1136.4 558.7,1136.8 559.6,1137.3 560.4,1138.1 561.2,1139.1 562.1,1140.3 562.9,1141.6 563.7,1142.8 564.6,1144.0 565.4,1145.1 566.2,1146.1 567.1,1147.2 567.9,1148.4 568.7,1149.6 569.5,1150.9 570.4,1152.0 571.2,1153.1 572.0,1154.1 572.9,1154.9 573.7,1155.5 574.5,1155.9 575.4,1156.1 576.2,1156.1 577.0,1156.1 577.9,1156.1 578.7,1156.1 579.5,1156.1 580.4,1156.1 581.2,1156.1 582.0,1156.1 582.8,1156.1 583.7,1156.1 584.5,1156.1 585.3,1156.1 586.2,1156.1 587.0,1156.1 587.8,1156.1 588.7,1156.1 589.5,1156.1 590.3,1156.1 591.2,1156.1 592.0,1156.1 592.8,1156.0 593.6,1155.6 594.5,1155.0 595.3,1154.3 596.1,1153.5 597.0,1152.5 597.8,1151.5 598.6,1150.4 599.5,1149.4 600.3,1148.3 601.1,1147.3 602.0,1146.4 602.8,1145.7 603.6,1145.1 604.4,1144.5 605.3,1144.0 606.1,1143.6 606.9,1143.1 607.8,1142.7 608.6,1142.3 609.4,1141.9 610.3,1141.6 611.1,1141.2 611.9,1140.9 612.8,1140.6 613.6,1140.4 614.4,1140.1 615.3,1139.9 616.1,1139.6 616.9,1139.4 617.7,1139.2 618.6,1139.0 619.4,1138.8 620.2,1138.6 621.1,1138.4 621.9,1138.2 622.7,1138.0 623.6,1137.8 624.4,1137.6 625.2,1137.4 626.1,1137.3 626.9,1137.1 627.7,1137.0 628.5,1136.8 629.4,1136.6 630.2,1136.5 631.0,1136.3 631.9,1136.1 632.7,1135.9 633.5,1135.7 634.4,1135.5 635.2,1135.3 636.0,1135.1 636.9,1134.8 637.7,1134.6 638.5,1134.4 639.4,1134.2 640.2,1134.0 641.0,1133.8 641.8,1133.7 642.7,1133.5 643.5,1133.4 644.3,1133.2 645.2,1133.1 646.0,1133.0 646.8,1132.8 647.7,1132.7 648.5,1132.5 649.3,1132.4 650.2,1132.3 651.0,1132.2 651.8,1132.1 652.6,1132.1 653.5,1132.0 654.3,1132.0 655.1,1132.0 656.0,1132.0 656.8,1132.0 657.6,1132.0 658.5,1132.0 659.3,1132.0 660.1,1132.1 661.0,1132.1 661.8,1132.2 662.6,1132.2 663.5,1132.3 664.3,1132.3 665.1,1132.4 665.9,1132.4 666.8,1132.5 667.6,1132.6 668.4,1132.7 669.3,1132.7 670.1,1132.9 670.9,1133.0 671.8,1133.2 672.6,1133.4 673.4,1133.7 674.3,1133.9 675.1,1134.2 675.9,1134.5 676.7,1134.8 677.6,1135.1 678.4,1135.4 679.2,1135.8 680.1,1136.2 680.9,1136.7 681.7,1137.2 682.6,1137.7 683.4,1138.3 684.2,1138.8 685.1,1139.3 685.9,1139.8 686.7,1140.2 687.5,1140.6 688.4,1141.1 689.2,1141.5 690.0,1141.9 690.9,1142.4 691.7,1142.7 692.5,1143.1 693.4,1143.3 694.2,1143.6 695.0,1143.7 695.9,1143.8 696.7,1143.8 697.5,1143.9 698.4,1144.0 699.2,1144.0 700.0,1144.1 700.8,1144.1 701.7,1144.2 702.5,1144.2 703.3,1144.3 704.2,1144.3 705.0,1144.3 705.8,1144.3 706.7,1144.4 707.5,1144.4 708.3,1144.4 709.2,1144.4 710.0,1144.3 710.8,1144.3 711.6,1144.2 712.5,1144.2 713.3,1144.1 714.1,1144.0 715.0,1143.9 715.8,1143.8 716.6,1143.6 717.5,1143.5 718.3,1143.3 719.1,1143.1 720.0,1142.7 720.8,1142.3 721.6,1141.7 722.5,1141.2 723.3,1140.6 724.1,1140.0 724.9,1139.5 725.8,1139.1 726.6,1138.5 727.4,1138.0 728.3,1137.5 729.1,1137.0 729.9,1136.6 730.8,1136.3 731.6,1136.1 732.4,1136.0 733.3,1135.9 734.1,1135.9 734.9,1135.8 735.7,1135.7 736.6,1135.7 737.4,1135.6 738.2,1135.6 739.1,1135.5 739.9,1135.5 740.7,1135.5 741.6,1135.5 742.4,1135.4 743.2,1135.4 744.1,1135.4 744.9,1135.4 745.7,1135.4 746.5,1135.4 747.4,1135.4 748.2,1135.4 749.0,1135.4 749.9,1135.4 750.7,1135.4 751.5,1135.4 752.4,1135.4 753.2,1135.4 754.0,1135.4 754.9,1135.4 755.7,1135.4 756.5,1135.4 757.4,1135.4 758.2,1135.4 759.0,1135.4 759.8,1135.2 760.7,1134.9 761.5,1134.6 762.3,1134.3 763.2,1133.9 764.0,1133.5 764.8,1133.1 765.7,1132.7 766.5,1132.3 767.3,1132.0 768.2,1131.5 769.0,1131.1 769.8,1130.6 770.6,1130.2 771.5,1129.8 772.3,1129.4 773.1,1129.1 774.0,1128.9 774.8,1128.9 775.6,1128.9 776.5,1129.0 777.3,1129.1 778.1,1129.2 779.0,1129.4 779.8,1129.6 780.6,1129.7 781.5,1129.9 782.3,1130.1 783.1,1130.2 783.9,1130.4 784.8,1130.6 785.6,1130.7 786.4,1130.9 787.3,1131.1 788.1,1131.3 788.9,1131.4 789.8,1131.5 790.6,1131.6 791.4,1131.6 792.3,1131.5 793.1,1131.2 793.9,1130.8 794.7,1130.3 795.6,1129.6 796.4,1128.9 797.2,1128.2 798.1,1127.5 798.9,1126.6 799.7,1125.5 800.6,1124.2 801.4,1122.8 802.2,1121.3 803.1,1119.8 803.9,1118.3 804.7,1117.0 805.6,1115.7 806.4,1114.7 807.2,1113.9 808.0,1112.9 808.9,1112.0 809.7,1111.2 810.5,1110.4 811.4,1109.8 812.2,1109.3 813.0,1109.0 813.9,1108.9 814.7,1109.2 815.5,1109.8 816.4,1110.7 817.2,1111.8 818.0,1113.1 818.8,1114.4 819.7,1115.8 820.5,1117.5 821.3,1119.7 822.2,1122.1 823.0,1124.6 823.8,1126.8 824.7,1128.5 825.5,1129.9 826.3,1131.1 827.2,1132.3 828.0,1133.3 828.8,1134.0 829.6,1134.4 830.5,1134.6 831.3,1134.7 832.1,1134.9 833.0,1135.0 833.8,1135.1 834.6,1135.2 835.5,1135.3 836.3,1135.4 837.1,1135.4 838.0,1135.4 838.8,1135.4 839.6,1135.4 840.5,1135.4 841.3,1135.4 842.1,1135.4 842.9,1135.4 843.8,1135.4 844.6,1135.4 845.4,1135.4 846.3,1135.4 847.1,1135.4 847.9,1135.4 848.8,1135.4 849.6,1135.4 850.4,1135.4 851.3,1135.4 852.1,1135.4 852.9,1135.4 853.7,1135.4 854.6,1135.4 855.4,1135.4 856.2,1135.4 857.1,1135.4 857.9,1135.4 858.7,1135.4 859.6,1135.4 860.4,1135.4 861.2,1135.4 862.1,1135.4 862.9,1135.4 863.7,1135.4 864.6,1135.4 865.4,1135.4 866.2,1135.4 867.0,1135.4 867.9,1135.4 868.7,1135.4 869.5,1135.4 870.4,1135.4 871.2,1135.4 872.0,1135.4 872.9,1135.4 873.7,1135.4 874.5,1135.4 875.4,1135.4 876.2,1135.4 877.0,1135.4 877.8,1135.4 878.7,1135.4 879.5,1135.4 880.3,1135.4 881.2,1135.4 882.0,1135.4 882.8,1135.4 883.7,1135.4 884.5,1135.4 885.3,1135.4 886.2,1135.4 887.0,1135.4 887.8,1135.4 888.7,1135.4 889.5,1135.4 890.3,1135.4 891.1,1135.4 892.0,1135.4 892.8,1135.4 893.6,1135.4 894.5,1135.4 895.3,1135.4 896.1,1135.4 897.0,1135.4 897.8,1135.4 898.6,1135.4 899.5,1135.4 900.3,1135.4 901.1,1135.4 901.9,1135.4 902.8,1135.4 903.6,1135.4 904.4,1135.4 905.3,1135.4 906.1,1135.4 906.9,1135.4 907.8,1135.4 908.6,1135.4 909.4,1135.4 910.3,1135.4 911.1,1135.4 911.9,1135.4 912.8,1135.4 913.6,1135.4 914.4,1135.4 915.2,1135.4 916.1,1135.4 916.9,1135.4 917.7,1135.4 918.6,1135.4 919.4,1135.4 920.2,1135.4 921.1,1135.4 921.9,1135.4 922.7,1135.4 923.6,1135.4 924.4,1135.4 925.2,1135.4 926.0,1135.4 926.9,1135.4 927.7,1135.4 928.5,1135.4 929.4,1135.4 930.2,1135.4 931.0,1135.4 931.9,1135.4 932.7,1135.4 933.5,1135.4 934.4,1135.4 935.2,1135.4 936.0,1135.4 936.8,1135.4 937.7,1135.4 938.5,1135.4 939.3,1135.4 940.2,1135.4 941.0,1135.4 941.8,1135.4 942.7,1135.4 943.5,1135.4 944.3,1135.4 945.2,1135.4 946.0,1135.4 946.8,1135.4 947.7,1135.4 948.5,1135.4 949.3,1135.4 950.1,1135.4 951.0,1135.4 951.8,1135.4 952.6,1135.4 953.5,1135.4 954.3,1135.4 955.1,1135.4 956.0,1135.4 956.8,1135.4 957.6,1135.4 958.5,1135.4 959.3,1135.4 960.1,1135.4 960.9,1135.4 961.8,1135.4 962.6,1135.4 963.4,1135.4 964.3,1135.4 965.1,1135.4 965.9,1135.4 966.8,1135.4 967.6,1135.4 968.4,1135.4 969.3,1135.4 970.1,1135.4 970.9,1135.4 971.8,1135.4 972.6,1135.4 973.4,1135.4 974.2,1135.4 975.1,1135.4 975.9,1135.4 976.7,1135.4 977.6,1135.4 978.4,1135.4 979.2,1135.4 980.1,1135.4 980.9,1135.4 981.7,1135.4 982.6,1135.4 983.4,1135.4 984.2,1135.4 985.0,1135.4 985.9,1135.4 986.7,1135.4 987.5,1135.4 988.4,1135.4 989.2,1135.4 990.0,1135.4 990.9,1135.4 991.7,1135.4 992.5,1135.4 993.4,1135.4 994.2,1135.4 995.0,1135.4 995.9,1135.4 996.7,1135.4 997.5,1135.4 998.3,1135.4 999.2,1135.4 1000.0,1135.4 1000.8,1135.4 1001.7,1135.4 1002.5,1135.4 1003.3,1135.4 1004.2,1135.4 1005.0,1135.4 1005.8,1135.4 1006.7,1135.4 1007.5,1135.4 1008.3,1135.4 1009.1,1135.4 1010.0,1135.4 1010.8,1135.4 1011.6,1135.4 1012.5,1135.4 1013.3,1135.4 1014.1,1135.4 1015.0,1135.4 1015.8,1135.4 1016.6,1135.4 1017.5,1135.4 1018.3,1135.4 1019.1,1135.4 1019.9,1135.4 1020.8,1135.4 1021.6,1135.4 1022.4,1135.4 1023.3,1135.4 1024.1,1135.4 1024.9,1135.4 1025.8,1135.4 1026.6,1135.4 1027.4,1135.4 1028.3,1135.4 1029.1,1135.4 1029.9,1135.4 1030.8,1135.4 1031.6,1135.4 1032.4,1135.4 1033.2,1135.4 1034.1,1135.4 1034.9,1135.4 1035.7,1135.4 1036.6,1135.4 1037.4,1135.4 1038.2,1135.4 1039.1,1135.4 1039.9,1135.4 1040.7,1135.4 1041.6,1135.4 1042.4,1135.4 1043.2,1135.4 1044.0,1135.4 1044.9,1135.4 1045.7,1135.4 1046.5,1135.4 1047.4,1135.4 1048.2,1135.4 1049.0,1135.4 1049.9,1135.4 1050.7,1135.4 1051.5,1135.4 1052.4,1135.4 1053.2,1135.4 1054.0,1135.4 1054.9,1135.4 1055.7,1135.4 1056.5,1135.4 1057.3,1135.4 1058.2,1135.4 1059.0,1135.4 1059.8,1135.4 1060.7,1135.4 1061.5,1135.4 1062.3,1135.4 1063.2,1135.4 1064.0,1135.4 1064.8,1135.4 1065.7,1135.4 1066.5,1135.4 1067.3,1135.4 1068.1,1135.4 1069.0,1135.4 1069.8,1135.4 1070.6,1135.4 1071.5,1135.4 1072.3,1135.4 1073.1,1135.4 1074.0,1135.4 1074.8,1135.4 1075.6,1135.4 1076.5,1135.4 1077.3,1135.4 1078.1,1135.4 1079.0,1135.4 1079.8,1135.4 1080.6,1135.4 1081.4,1135.4 1082.3,1135.4 1083.1,1135.4 1083.9,1135.4 1084.8,1135.4 1085.6,1135.4 1086.4,1135.4 1087.3,1135.4 1088.1,1135.4 1088.9,1135.4 1089.8,1135.4 1090.6,1135.4 1091.4,1135.4 1092.2,1135.4 1093.1,1135.4 1093.9,1135.4 1094.7,1135.4 1095.6,1135.4 1096.4,1135.4 1097.2,1135.4 1098.1,1135.4 1098.9,1135.4 1099.7,1135.4 1100.6,1135.4 1101.4,1135.4 1102.2,1135.4 1103.0,1135.4 1103.9,1135.4 1104.7,1135.4 1105.5,1135.4 1106.4,1135.4 1107.2,1135.4 1108.0,1135.4 1108.9,1135.4 1109.7,1135.4 1110.5,1135.4 1111.4,1135.4 1112.2,1135.4 1113.0,1135.4 1113.9,1135.4 1114.7,1135.4 1115.5,1135.4 1116.3,1135.4 1117.2,1135.4 1118.0,1135.4 1118.8,1135.4 1119.7,1135.4 1120.5,1135.4 1121.3,1135.4 1122.2,1135.4 1123.0,1135.4 1123.8,1135.4 1124.7,1135.4 1125.5,1135.4 1126.3,1135.4 1127.1,1135.4 1128.0,1135.4 1128.8,1135.4 1129.6,1135.4 1130.5,1135.4 1131.3,1135.4 1132.1,1135.4 1133.0,1135.4 1133.8,1135.4 1134.6,1135.4 1135.5,1135.4 1136.3,1135.4 1137.1,1135.4 1138.0,1135.4 1138.8,1135.4 1139.6,1135.4 1140.4,1135.4 1141.3,1135.4 1142.1,1135.4 1142.9,1135.4 1143.8,1135.4 1144.6,1135.4 1145.4,1135.4 1146.3,1135.4 1147.1,1135.4 1147.9,1135.4 1148.8,1135.4 1149.6,1135.4 1150.4,1135.4 1151.2,1135.4 1152.1,1135.4 1152.9,1135.4 1153.7,1135.4 1154.6,1135.4 1155.4,1135.4 1156.2,1135.4 1157.1,1135.4 1157.9,1135.4 1158.7,1135.4 1159.6,1135.4 1160.4,1135.4 1161.2,1135.4 1162.0,1135.4 1162.9,1135.4 1163.7,1135.4 1164.5,1135.4 1165.4,1135.4 1166.2,1135.4 1167.0,1135.4 1167.9,1135.4 1168.7,1135.4 1169.5,1135.4 1170.4,1135.4 1171.2,1135.4 1172.0,1135.4 1172.9,1135.4 1173.7,1135.4 1174.5,1135.4 1175.3,1135.4 1176.2,1135.4 1177.0,1135.4 1177.8,1135.4 1178.7,1135.4 1179.5,1135.4 1180.3,1135.4 1181.2,1135.4 1182.0,1135.4 1182.8,1135.4 1183.7,1135.4 1184.5,1135.4 1185.3,1135.4 1186.1,1135.4 1187.0,1135.4 1187.8,1135.4 1188.6,1135.4 1189.5,1135.4 1190.3,1135.4 1191.1,1135.4 1192.0,1135.4 1192.8,1135.4 1193.6,1135.4 1194.5,1135.4 1195.3,1135.4 1196.1,1135.4 1197.0,1135.4 1197.8,1135.4 1198.6,1135.4 1199.4,1135.4 1200.3,1135.4 1201.1,1135.4 1201.9,1135.4 1202.8,1135.4 1203.6,1135.4 1204.4,1135.4 1205.3,1135.4 1206.1,1135.4 1206.9,1135.4 1207.8,1135.4 1208.6,1135.4 1209.4,1135.4 1210.2,1135.4 1211.1,1135.4 1211.9,1135.3 1212.7,1135.2 1213.6,1135.0 1214.4,1134.8 1215.2,1134.6 1216.1,1134.3 1216.9,1134.0 1217.7,1133.7 1218.6,1133.2 1219.4,1132.6 1220.2,1131.9 1221.1,1131.1 1221.9,1130.2 1222.7,1129.2 1223.5,1127.8 1224.4,1126.2 1225.2,1124.4 1226.0,1122.2 1226.9,1119.9 1227.7,1117.0 1228.5,1113.3 1229.4,1109.0 1230.2,1104.4 1231.0,1099.3 1231.9,1093.6 1232.7,1087.3 1233.5,1080.3 1234.3,1072.5 1235.2,1063.7 1236.0,1054.2 1236.8,1044.1 1237.7,1033.5 1238.5,1022.1 1239.3,1010.1 1240.2,997.6 1241.0,984.7 1241.8,971.1 1242.7,957.0 1243.5,942.5 1244.3,927.7 1245.2,912.4 1246.0,896.7 1246.8,880.5 1247.6,863.9 1248.5,846.8 1249.3,829.3 1250.1,811.6 1251.0,793.8 1251.8,775.7 1252.6,757.5 1253.5,739.3 1254.3,721.2 1255.1,703.0 1256.0,684.9 1256.8,667.0 1257.6,649.1 1258.4,631.4 1259.3,613.7 1260.1,596.4 1260.9,579.3 1261.8,562.4 1262.6,545.7 1263.4,529.2 1264.3,512.9 1265.1,496.7 1265.9,480.8 1266.8,465.5 1267.6,450.6 1268.4,436.1 1269.2,422.1 1270.1,408.7 1270.9,395.7 1271.7,383.2 1272.6,371.3 1273.4,360.4 1274.2,350.1 1275.1,340.1 1275.9,331.3 1276.7,324.3 1277.6,318.5 1278.4,313.5 1279.2,309.4 1280.1,306.7 1280.9,304.9 1281.7,303.6 1282.5,303.3 1283.4,304.0 1284.2,305.4 1285.0,307.4 1285.9,309.5 1286.7,311.5 1287.5,313.6 1288.4,315.8 1289.2,318.2 1290.0,320.8 1290.9,323.5 1291.7,326.3 1292.5,329.4 1293.3,333.0 1294.2,337.4 1295.0,343.3 1295.8,350.0 1296.7,357.0 1297.5,364.2 1298.3,372.0 1299.2,380.0 1300.0,388.0 1300.8,396.0 1301.7,404.2 1302.5,412.4 1303.3,420.7 1304.2,429.0 1305.0,437.4 1305.8,445.8 1306.6,454.1 1307.5,462.5 1308.3,470.8 1309.1,479.2 1310.0,487.5 1310.8,495.9 1311.6,504.3 1312.5,512.6 1313.3,521.0 1314.1,529.4 1315.0,537.7 1315.8,546.1 1316.6,554.4 1317.4,562.8 1318.3,571.1 1319.1,579.5 1319.9,587.8 1320.8,596.1 1321.6,604.4 1322.4,612.7 1323.3,620.9 1324.1,629.1 1324.9,637.1 1325.8,645.2 1326.6,653.1 1327.4,661.0 1328.2,668.9 1329.1,676.6 1329.9,684.2 1330.7,691.7 1331.6,699.2 1332.4,706.5 1333.2,713.8 1334.1,720.9 1334.9,727.9 1335.7,734.9 1336.6,741.7 1337.4,748.5 1338.2,755.2 1339.1,761.7 1339.9,768.1 1340.7,774.4 1341.5,780.6 1342.4,786.7 1343.2,792.7 1344.0,798.6 1344.9,804.4 1345.7,810.0 1346.5,815.6 1347.4,821.0 1348.2,826.4 1349.0,831.7 1349.9,836.9 1350.7,842.0 1351.5,846.9 1352.3,851.7 1353.2,856.4 1354.0,861.0 1354.8,865.5 1355.7,869.8 1356.5,874.2 1357.3,878.4 1358.2,882.5 1359.0,886.5 1359.8,890.5 1360.7,894.3 1361.5,898.0 1362.3,901.6 1363.2,905.2 1364.0,908.7 1364.8,912.2 1365.6,915.6 1366.5,918.9 1367.3,922.2 1368.1,925.4 1369.0,928.5 1369.8,931.5 1370.6,934.5 1371.5,937.4 1372.3,940.2 1373.1,942.9 1374.0,945.6 1374.8,948.2 1375.6,950.8 1376.4,953.4 1377.3,955.9 1378.1,958.4 1378.9,960.8 1379.8,963.2 1380.6,965.5 1381.4,967.8 1382.3,970.0 1383.1,972.1 1383.9,974.3 1384.8,976.3 1385.6,978.4 1386.4,980.3 1387.3,982.2 1388.1,984.1 1388.9,986.0 1389.7,987.8 1390.6,989.5 1391.4,991.2 1392.2,992.9 1393.1,994.6 1393.9,996.2 1394.7,997.8 1395.6,999.4 1396.4,1001.0 1397.2,1002.5 1398.1,1004.0 1398.9,1005.5 1399.7,1007.0 1400.5,1008.5 1401.4,1009.9 1402.2,1011.4 1403.0,1012.8 1403.9,1014.2 1404.7,1015.6 1405.5,1017.0 1406.4,1018.4 1407.2,1019.7 1408.0,1021.0 1408.9,1022.3 1409.7,1023.6 1410.5,1024.9 1411.3,1026.2 1412.2,1027.5 1413.0,1028.7 1413.8,1029.9 1414.7,1031.2 1415.5,1032.4 1416.3,1033.6 1417.2,1034.8 1418.0,1035.9 1418.8,1037.1 1419.7,1038.3 1420.5,1039.4 1421.3,1040.6 1422.2,1041.7 1423.0,1042.9 1423.8,1044.0 1424.6,1045.1 1425.5,1046.3 1426.3,1047.4 1427.1,1048.5 1428.0,1049.5 1428.8,1050.6 1429.6,1051.7 1430.5,1052.7 1431.3,1053.7 1432.1,1054.8 1433.0,1055.8 1433.8,1056.8 1434.6,1057.7 1435.4,1058.7 1436.3,1059.6 1437.1,1060.6 1437.9,1061.5 1438.8,1062.4 1439.6,1063.3 1440.4,1064.2 1441.3,1065.1 1442.1,1065.9 1442.9,1066.8 1443.8,1067.6 1444.6,1068.5 1445.4,1069.3 1446.3,1070.1 1447.1,1070.9 1447.9,1071.7 1448.7,1072.5 1449.6,1073.2 1450.4,1074.0 1451.2,1074.7 1452.1,1075.5 1452.9,1076.2 1453.7,1076.9 1454.6,1077.6 1455.4,1078.3 1456.2,1078.9 1457.1,1079.6 1457.9,1080.2 1458.7,1080.9 1459.5,1081.5 1460.4,1082.2 1461.2,1082.8 1462.0,1083.4 1462.9,1084.0 1463.7,1084.6 1464.5,1085.2 1465.4,1085.8 1466.2,1086.3 1467.0,1086.9 1467.9,1087.5 1468.7,1088.0 1469.5,1088.6 1470.4,1089.1 1471.2,1089.6 1472.0,1090.2 1472.8,1090.7 1473.7,1091.2 1474.5,1091.7 1475.3,1092.2 1476.2,1092.7 1477.0,1093.2 1477.8,1093.7 1478.7,1094.2 1479.5,1094.7 1480.3,1095.1 1481.2,1095.6 1482.0,1096.1 1482.8,1096.5 1483.6,1096.9 1484.5,1097.4 1485.3,1097.8 1486.1,1098.2 1487.0,1098.6 1487.8,1099.0 1488.6,1099.4 1489.5,1099.8 1490.3,1100.2 1491.1,1100.6 1492.0,1101.0 1492.8,1101.4 1493.6,1101.8 1494.5,1102.1 1495.3,1102.5 1496.1,1102.9 1496.9,1103.2 1497.8,1103.6 1498.6,1103.9 1499.4,1104.3 1500.3,1104.6 1501.1,1104.9 1501.9,1105.3 1502.8,1105.6 1503.6,1105.9 1504.4,1106.2 1505.3,1106.5 1506.1,1106.8 1506.9,1107.1 1507.7,1107.4 1508.6,1107.7 1509.4,1108.0 1510.2,1108.3 1511.1,1108.6 1511.9,1108.9 1512.7,1109.1 1513.6,1109.4 1514.4,1109.7 1515.2,1110.0 1516.1,1110.2 1516.9,1110.5 1517.7,1110.7 1518.5,1111.0 1519.4,1111.3 1520.2,1111.5 1521.0,1111.8 1521.9,1112.0 1522.7,1112.2 1523.5,1112.5 1524.4,1112.7 1525.2,1112.9 1526.0,1113.2 1526.9,1113.4 1527.7,1113.6 1528.5,1113.8 1529.4,1114.1 1530.2,1114.3 1531.0,1114.5 1531.8,1114.7 1532.7,1114.9 1533.5,1115.1 1534.3,1115.3 1535.2,1115.5 1536.0,1115.7 1536.8,1115.9 1537.7,1116.1 1538.5,1116.3 1539.3,1116.5 1540.2,1116.7 1541.0,1116.9 1541.8,1117.0 1542.6,1117.2 1543.5,1117.4 1544.3,1117.6 1545.1,1117.8 1546.0,1117.9 1546.8,1118.1 1547.6,1118.3 1548.5,1118.4 1549.3,1118.6 1550.1,1118.8 1551.0,1118.9 1551.8,1119.1 1552.6,1119.2 1553.5,1119.4 1554.3,1119.5 1555.1,1119.7 1555.9,1119.8 1556.8,1120.0 1557.6,1120.1 1558.4,1120.2 1559.3,1120.4 1560.1,1120.5 1560.9,1120.6 1561.8,1120.8 1562.6,1120.9 1563.4,1121.0 1564.3,1121.1 1565.1,1121.3 1565.9,1121.4 1566.7,1121.5 1567.6,1121.6 1568.4,1121.7 1569.2,1121.9 1570.1,1122.0 1570.9,1122.1 1571.7,1122.2 1572.6,1122.3 1573.4,1122.4 1574.2,1122.5 1575.1,1122.7 1575.9,1122.8 1576.7,1122.9 1577.5,1123.0 1578.4,1123.1 1579.2,1123.2 1580.0,1123.3 1580.9,1123.4 1581.7,1123.5 1582.5,1123.6 1583.4,1123.7 1584.2,1123.8 1585.0,1123.9 1585.9,1124.0 1586.7,1124.1 1587.5,1124.2 1588.4,1124.3 1589.2,1124.4 1590.0,1124.5 1590.8,1124.6 1591.7,1124.6 1592.5,1124.7 1593.3,1124.8 1594.2,1124.9 1595.0,1125.0 1595.8,1125.1 1596.7,1125.2 1597.5,1125.2 1598.3,1125.3 1599.2,1125.4 1600.0,1125.5 1600.8,1125.6 1601.6,1125.6 1602.5,1125.7 1603.3,1125.8 1604.1,1125.9 1605.0,1125.9 1605.8,1126.0 1606.6,1126.1 1607.5,1126.2 1608.3,1126.2 1609.1,1126.3 1610.0,1126.4 1610.8,1126.4 1611.6,1126.5 1612.5,1126.6 1613.3,1126.6 1614.1,1126.7 1614.9,1126.7 1615.8,1126.8 1616.6,1126.9 1617.4,1126.9 1618.3,1127.0 1619.1,1127.0 1619.9,1127.1 1620.8,1127.1 1621.6,1127.2 1622.4,1127.3 1623.3,1127.3 1624.1,1127.4 1624.9,1127.4 1625.7,1127.5 1626.6,1127.5 1627.4,1127.6 1628.2,1127.6 1629.1,1127.7 1629.9,1127.7 1630.7,1127.8 1631.6,1127.8 1632.4,1127.8 1633.2,1127.9 1634.1,1127.9 1634.9,1128.0 1635.7,1128.0 1636.6,1128.1 1637.4,1128.1 1638.2,1128.1 1639.0,1128.2 1639.9,1128.2 1640.7,1128.3 1641.5,1128.3 1642.4,1128.3 1643.2,1128.4 1644.0,1128.4 1644.9,1128.5 1645.7,1128.5 1646.5,1128.5 1647.4,1128.6 1648.2,1128.6 1649.0,1128.7 1649.8,1128.7 1650.7,1128.7 1651.5,1128.8 1652.3,1128.8 1653.2,1128.9 1654.0,1128.9 1654.8,1128.9 1655.7,1129.0 1656.5,1129.0 1657.3,1129.0 1658.2,1129.1 1659.0,1129.1 1659.8,1129.1 1660.7,1129.1 1661.5,1129.1 1662.3,1129.2 1663.1,1129.2 1664.0,1129.2 1664.8,1129.2 1665.6,1129.2 1666.5,1129.2 1667.3,1129.2 1668.1,1129.2 1669.0,1129.2 1669.8,1129.2 1670.6,1129.3 1671.5,1129.3 1672.3,1129.3 1673.1,1129.3 1673.9,1129.3 1674.8,1129.3 1675.6,1129.3 1676.4,1129.3 1677.3,1129.3 1678.1,1129.3 1678.9,1129.3 1679.8,1129.3 1680.6,1129.3 1681.4,1129.3 1682.3,1129.3 1683.1,1129.3 1683.9,1129.3 1684.7,1129.4 1685.6,1129.4 1686.4,1129.4 1687.2,1129.4 1688.1,1129.4 1688.9,1129.4 1689.7,1129.4 1690.6,1129.4 1691.4,1129.4 1692.2,1129.4 1693.1,1129.4 1693.9,1129.4 1694.7,1129.4 1695.6,1129.4 1696.4,1129.4 1697.2,1129.4 1698.0,1129.4 1698.9,1129.4 1699.7,1129.4 1700.5,1129.4 1701.4,1129.4 1702.2,1129.5 1703.0,1129.5 1703.9,1129.5 1704.7,1129.5 1705.5,1129.5 1706.4,1129.5 1707.2,1129.5 1708.0,1129.5 1708.8,1129.5 1709.7,1129.5 1710.5,1129.5 1711.3,1129.5 1712.2,1129.5 1713.0,1129.5 1713.8,1129.5 1714.7,1129.5 1715.5,1129.5 1716.3,1129.5 1717.2,1129.5 1718.0,1129.5 1718.8,1129.5 1719.7,1129.5 1720.5,1129.5 1721.3,1129.5 1722.1,1129.5 1723.0,1129.5 1723.8,1129.5 1724.6,1129.5 1725.5,1129.5 1726.3,1129.5 1727.1,1129.5 1728.0,1129.5 1728.8,1129.5 1729.6,1129.5 1730.5,1129.5 1731.3,1129.5 1732.1,1129.5 1732.9,1129.5 1733.8,1129.5 1734.6,1129.5 1735.4,1129.5 1736.3,1129.5 1737.1,1129.5 1737.9,1129.5 1738.8,1129.6 1739.6,1129.6 1740.4,1129.6 1741.3,1129.6 1742.1,1129.6 1742.9,1129.6 1743.8,1129.6 1744.6,1129.6 1745.4,1129.6 1746.2,1129.6 1747.1,1129.6 1747.9,1129.6 1748.7,1129.6 1749.6,1129.6 1750.4,1129.6 1751.2,1129.6 1752.1,1129.6 1752.9,1129.6 1753.7,1129.6 1754.6,1129.6 1755.4,1129.6 1756.2,1129.6 1757.0,1129.6 1757.9,1129.6 1758.7,1129.6 1759.5,1129.6 1760.4,1129.6 1761.2,1129.6 1762.0,1129.6 1762.9,1129.6 1763.7,1129.6 1764.5,1129.6 1765.4,1129.6 1766.2,1129.6 1767.0,1129.6 1767.8,1129.6 1768.7,1129.6 1769.5,1129.6 1770.3,1129.6 1771.2,1129.6 1772.0,1129.6 1772.8,1129.6 1773.7,1129.6 1774.5,1129.6 1775.3,1129.6 1776.2,1129.6 1777.0,1129.6 1777.8,1129.6 1778.7,1129.6 1779.5,1129.6 1780.3,1129.6 1781.1,1129.6 1782.0,1129.6 1782.8,1129.6 1783.6,1129.6 1784.5,1129.6 1785.3,1129.6 1786.1,1129.6 1787.0,1129.6 1787.8,1129.6 1788.6,1129.6 1789.5,1129.6 1790.3,1129.6 1791.1,1129.6 1791.9,1129.6 1792.8,1129.6 1793.6,1129.6 1794.4,1129.6 1795.3,1129.6 1796.1,1130.5 1796.9,1132.5 1797.8,1134.5 1798.6,1135.4 1799.4,1135.4 1800.3,1135.4 1801.1,1135.4 1801.9,1135.4 1802.8,1135.4 1803.6,1135.4 1804.4,1135.4 1805.2,1135.4 1806.1,1135.4 1806.9,1135.4 1807.7,1135.4 1808.6,1135.4 1809.4,1135.4 1810.2,1135.4 1811.1,1135.4 1811.9,1135.4 1812.7,1135.4 1813.6,1135.4 1814.4,1135.4 1815.2,1135.4 1816.0,1135.4 1816.9,1135.4 1817.7,1135.4 1818.5,1135.4 1819.4,1135.4 1820.2,1135.4 1821.0,1135.4 1821.9,1135.4 1822.7,1135.4 1823.5,1135.4 1824.4,1135.4 1825.2,1135.4 1826.0,1135.4 1826.8,1135.4 1827.7,1135.4 1828.5,1135.4 1829.3,1135.4 1830.2,1135.4 1831.0,1135.4 1831.8,1135.4 1832.7,1135.4 1833.5,1135.4 1834.3,1135.4 1835.2,1135.4 1836.0,1135.4 1836.8,1135.4 1837.7,1135.4 1838.5,1135.4 1839.3,1135.4 1840.1,1135.4 1841.0,1135.4 1841.8,1135.4 1842.6,1135.4 1843.5,1135.4 1844.3,1135.4 1845.1,1135.4 1846.0,1135.4 1846.8,1135.4 1847.6,1135.4 1848.5,1135.4 1849.3,1135.4 1850.1,1135.4 1850.9,1135.4 1851.8,1135.4 1852.6,1135.4 1853.4,1135.4 1854.3,1135.4 1855.1,1135.4 1855.9,1135.4 1856.8,1135.4 1857.6,1135.4 1858.4,1135.4 1859.3,1135.4 1860.1,1135.4 1860.9,1135.4 1861.8,1135.4 1862.6,1135.4 1863.4,1135.4 1864.2,1135.4 1865.1,1135.4 1865.9,1135.4 1866.7,1135.4 1867.6,1135.4 1868.4,1135.4 1869.2,1135.4 1870.1,1135.4 1870.9,1135.4 1871.7,1135.4 1872.6,1135.4 1873.4,1135.4 1874.2,1135.4 1875.0,1135.4 1875.9,1135.4 1876.7,1135.4 1877.5,1135.4 1878.4,1135.4 1879.2,1135.4 1880.0,1135.4 1880.9,1135.4 1881.7,1135.4 1882.5,1135.4 1883.4,1135.4 1884.2,1135.4 1885.0,1135.4 1885.9,1135.4 1886.7,1135.4 1887.5,1135.4 1888.3,1135.4" transform="translate(0,-1.0)"/><path d="M287.0,1135.4 287.8,1135.4 288.7,1135.4 289.5,1135.4 290.3,1135.4 291.2,1135.4 292.0,1135.4 292.8,1135.4 293.7,1135.4 294.5,1135.4 295.3,1135.4 296.1,1135.4 297.0,1135.4 297.8,1135.4 298.6,1135.4 299.5,1135.4 300.3,1135.4 301.1,1135.4 302.0,1135.4 302.8,1135.4 303.6,1135.4 304.5,1135.4 305.3,1135.4 306.1,1135.4 307.0,1135.4 307.8,1135.4 308.6,1135.4 309.4,1135.4 310.3,1135.4 311.1,1135.4 311.9,1135.4 312.8,1135.4 313.6,1135.4 314.4,1135.4 315.3,1135.4 316.1,1135.4 316.9,1135.4 317.8,1135.4 318.6,1135.4 319.4,1135.4 320.2,1135.4 321.1,1135.4 321.9,1135.4 322.7,1135.4 323.6,1135.4 324.4,1135.4 325.2,1135.4 326.1,1135.4 326.9,1135.4 327.7,1135.4 328.6,1135.4 329.4,1135.4 330.2,1135.4 331.1,1135.4 331.9,1135.4 332.7,1135.4 333.5,1135.4 334.4,1135.4 335.2,1135.4 336.0,1135.4 336.9,1135.4 337.7,1135.4 338.5,1135.4 339.4,1135.4 340.2,1135.4 341.0,1135.4 341.9,1135.4 342.7,1135.4 343.5,1135.4 344.3,1135.4 345.2,1135.4 346.0,1135.4 346.8,1135.4 347.7,1135.4 348.5,1135.4 349.3,1135.4 350.2,1135.4 351.0,1135.4 351.8,1135.4 352.7,1135.4 353.5,1135.4 354.3,1135.4 355.1,1135.4 356.0,1135.4 356.8,1135.4 357.6,1135.4 358.5,1135.4 359.3,1135.4 360.1,1135.4 361.0,1135.4 361.8,1135.4 362.6,1135.4 363.5,1135.4 364.3,1135.4 365.1,1135.4 366.0,1135.4 366.8,1135.4 367.6,1135.4 368.4,1135.4 369.3,1135.4 370.1,1135.4 370.9,1135.4 371.8,1135.4 372.6,1135.4 373.4,1135.4 374.3,1135.4 375.1,1135.4 375.9,1135.4 376.8,1135.4 377.6,1135.4 378.4,1135.4 379.2,1135.4 380.1,1135.4 380.9,1135.4 381.7,1135.4 382.6,1135.4 383.4,1135.4 384.2,1135.4 385.1,1135.4 385.9,1135.4 386.7,1135.4 387.6,1135.4 388.4,1135.4 389.2,1135.4 390.1,1135.4 390.9,1135.4 391.7,1135.4 392.5,1135.4 393.4,1135.4 394.2,1135.4 395.0,1135.4 395.9,1135.4 396.7,1135.4 397.5,1135.4 398.4,1135.4 399.2,1135.4 400.0,1135.4 400.9,1135.4 401.7,1135.4 402.5,1135.4 403.3,1135.4 404.2,1135.4 405.0,1135.4 405.8,1135.4 406.7,1135.4 407.5,1135.4 408.3,1135.4 409.2,1135.4 410.0,1135.4 410.8,1135.4 411.7,1135.4 412.5,1135.4 413.3,1135.4 414.1,1135.4 415.0,1135.4 415.8,1135.4 416.6,1135.4 417.5,1135.4 418.3,1135.4 419.1,1135.4 420.0,1135.4 420.8,1135.4 421.6,1135.4 422.5,1135.4 423.3,1135.4 424.1,1135.4 425.0,1135.4 425.8,1135.4 426.6,1135.4 427.4,1135.4 428.3,1135.4 429.1,1135.4 429.9,1135.4 430.8,1135.4 431.6,1135.4 432.4,1135.4 433.3,1135.4 434.1,1135.4 434.9,1135.4 435.8,1135.4 436.6,1135.4 437.4,1135.4 438.2,1135.4 439.1,1135.4 439.9,1135.4 440.7,1135.4 441.6,1135.4 442.4,1135.4 443.2,1135.4 444.1,1135.4 444.9,1135.4 445.7,1135.4 446.6,1135.4 447.4,1135.4 448.2,1135.4 449.1,1135.4 449.9,1135.4 450.7,1135.4 451.5,1135.4 452.4,1135.4 453.2,1135.4 454.0,1135.4 454.9,1135.4 455.7,1135.4 456.5,1135.4 457.4,1135.4 458.2,1135.4 459.0,1135.4 459.9,1135.4 460.7,1135.4 461.5,1135.4 462.3,1135.4 463.2,1135.4 464.0,1135.4 464.8,1135.4 465.7,1135.4 466.5,1135.4 467.3,1135.4 468.2,1135.4 469.0,1135.4 469.8,1135.4 470.7,1135.4 471.5,1135.4 472.3,1135.4 473.2,1135.4 474.0,1135.4 474.8,1135.4 475.6,1135.4 476.5,1135.4 477.3,1135.4 478.1,1135.4 479.0,1135.4 479.8,1135.4 480.6,1135.4 481.5,1135.4 482.3,1135.4 483.1,1135.4 484.0,1135.4 484.8,1135.4 485.6,1135.4 486.4,1135.4 487.3,1135.4 488.1,1135.4 488.9,1135.4 489.8,1135.4 490.6,1135.4 491.4,1135.4 492.3,1135.4 493.1,1135.4 493.9,1135.4 494.8,1135.4 495.6,1135.4 496.4,1135.4 497.2,1135.4 498.1,1135.4 498.9,1135.4 499.7,1135.4 500.6,1135.4 501.4,1135.4 502.2,1135.4 503.1,1135.4 503.9,1135.4 504.7,1135.4 505.6,1135.4 506.4,1135.4 507.2,1135.4 508.1,1135.4 508.9,1135.4 509.7,1135.4 510.5,1135.4 511.4,1135.4 512.2,1135.4 513.0,1135.4 513.9,1135.4 514.7,1135.4 515.5,1135.4 516.4,1135.4 517.2,1135.4 518.0,1135.4 518.9,1135.4 519.7,1135.4 520.5,1135.4 521.3,1135.4 522.2,1135.4 523.0,1135.4 523.8,1135.4 524.7,1135.4 525.5,1135.4 526.3,1135.4 527.2,1135.4 528.0,1135.4 528.8,1135.4 529.7,1135.4 530.5,1135.4 531.3,1135.4 532.2,1135.4 533.0,1135.4 533.8,1135.4 534.6,1135.4 535.5,1135.4 536.3,1135.4 537.1,1135.4 538.0,1135.4 538.8,1135.4 539.6,1135.4 540.5,1135.4 541.3,1135.4 542.1,1135.4 543.0,1135.4 543.8,1135.4 544.6,1135.4 545.4,1135.4 546.3,1135.4 547.1,1135.4 547.9,1135.4 548.8,1135.4 549.6,1135.4 550.4,1135.4 551.3,1135.4 552.1,1135.4 552.9,1135.4 553.8,1135.4 554.6,1135.5 555.4,1135.6 556.3,1135.8 557.1,1136.1 557.9,1136.4 558.7,1136.8 559.6,1137.3 560.4,1138.1 561.2,1139.1 562.1,1140.3 562.9,1141.6 563.7,1142.8 564.6,1144.0 565.4,1145.1 566.2,1146.1 567.1,1147.2 567.9,1148.4 568.7,1149.6 569.5,1150.9 570.4,1152.0 571.2,1153.1 572.0,1154.1 572.9,1154.9 573.7,1155.5 574.5,1155.9 575.4,1156.1 576.2,1156.1 577.0,1156.1 577.9,1156.1 578.7,1156.1 579.5,1156.1 580.4,1156.1 581.2,1156.1 582.0,1156.1 582.8,1156.1 583.7,1156.1 584.5,1156.1 585.3,1156.1 586.2,1156.1 587.0,1156.1 587.8,1156.1 588.7,1156.1 589.5,1156.1 590.3,1156.1 591.2,1156.1 592.0,1156.1 592.8,1156.0 593.6,1155.6 594.5,1155.0 595.3,1154.3 596.1,1153.5 597.0,1152.5 597.8,1151.5 598.6,1150.4 599.5,1149.4 600.3,1148.3 601.1,1147.3 602.0,1146.4 602.8,1145.7 603.6,1145.1 604.4,1144.5 605.3,1144.0 606.1,1143.6 606.9,1143.1 607.8,1142.7 608.6,1142.3 609.4,1141.9 610.3,1141.6 611.1,1141.2 611.9,1140.9 612.8,1140.6 613.6,1140.4 614.4,1140.1 615.3,1139.9 616.1,1139.6 616.9,1139.4 617.7,1139.2 618.6,1139.0 619.4,1138.8 620.2,1138.6 621.1,1138.4 621.9,1138.2 622.7,1138.0 623.6,1137.8 624.4,1137.6 625.2,1137.4 626.1,1137.3 626.9,1137.1 627.7,1137.0 628.5,1136.8 629.4,1136.6 630.2,1136.5 631.0,1136.3 631.9,1136.1 632.7,1135.9 633.5,1135.7 634.4,1135.5 635.2,1135.3 636.0,1135.1 636.9,1134.8 637.7,1134.6 638.5,1134.4 639.4,1134.2 640.2,1134.0 641.0,1133.8 641.8,1133.7 642.7,1133.5 643.5,1133.4 644.3,1133.2 645.2,1133.1 646.0,1133.0 646.8,1132.8 647.7,1132.7 648.5,1132.5 649.3,1132.4 650.2,1132.3 651.0,1132.2 651.8,1132.1 652.6,1132.1 653.5,1132.0 654.3,1132.0 655.1,1132.0 656.0,1132.0 656.8,1132.0 657.6,1132.0 658.5,1132.0 659.3,1132.0 660.1,1132.1 661.0,1132.1 661.8,1132.2 662.6,1132.2 663.5,1132.3 664.3,1132.3 665.1,1132.4 665.9,1132.4 666.8,1132.5 667.6,1132.6 668.4,1132.7 669.3,1132.7 670.1,1132.9 670.9,1133.0 671.8,1133.2 672.6,1133.4 673.4,1133.7 674.3,1133.9 675.1,1134.2 675.9,1134.5 676.7,1134.8 677.6,1135.1 678.4,1135.4 679.2,1135.8 680.1,1136.2 680.9,1136.7 681.7,1137.2 682.6,1137.7 683.4,1138.3 684.2,1138.8 685.1,1139.3 685.9,1139.8 686.7,1140.2 687.5,1140.6 688.4,1141.1 689.2,1141.5 690.0,1141.9 690.9,1142.4 691.7,1142.7 692.5,1143.1 693.4,1143.3 694.2,1143.6 695.0,1143.7 695.9,1143.8 696.7,1143.8 697.5,1143.9 698.4,1144.0 699.2,1144.0 700.0,1144.1 700.8,1144.1 701.7,1144.2 702.5,1144.2 703.3,1144.3 704.2,1144.3 705.0,1144.3 705.8,1144.3 706.7,1144.4 707.5,1144.4 708.3,1144.4 709.2,1144.4 710.0,1144.3 710.8,1144.3 711.6,1144.2 712.5,1144.2 713.3,1144.1 714.1,1144.0 715.0,1143.9 715.8,1143.8 716.6,1143.6 717.5,1143.5 718.3,1143.3 719.1,1143.1 720.0,1142.7 720.8,1142.3 721.6,1141.7 722.5,1141.2 723.3,1140.6 724.1,1140.0 724.9,1139.5 725.8,1139.1 726.6,1138.5 727.4,1138.0 728.3,1137.5 729.1,1137.0 729.9,1136.6 730.8,1136.3 731.6,1136.1 732.4,1136.0 733.3,1135.9 734.1,1135.9 734.9,1135.8 735.7,1135.7 736.6,1135.7 737.4,1135.6 738.2,1135.6 739.1,1135.5 739.9,1135.5 740.7,1135.5 741.6,1135.5 742.4,1135.4 743.2,1135.4 744.1,1135.4 744.9,1135.4 745.7,1135.4 746.5,1135.4 747.4,1135.4 748.2,1135.4 749.0,1135.4 749.9,1135.4 750.7,1135.4 751.5,1135.4 752.4,1135.4 753.2,1135.4 754.0,1135.4 754.9,1135.4 755.7,1135.4 756.5,1135.4 757.4,1135.4 758.2,1135.4 759.0,1135.4 759.8,1135.2 760.7,1134.9 761.5,1134.6 762.3,1134.3 763.2,1133.9 764.0,1133.5 764.8,1133.1 765.7,1132.7 766.5,1132.3 767.3,1132.0 768.2,1131.5 769.0,1131.1 769.8,1130.6 770.6,1130.2 771.5,1129.8 772.3,1129.4 773.1,1129.1 774.0,1128.9 774.8,1128.9 775.6,1128.9 776.5,1129.0 777.3,1129.1 778.1,1129.2 779.0,1129.4 779.8,1129.6 780.6,1129.7 781.5,1129.9 782.3,1130.1 783.1,1130.2 783.9,1130.4 784.8,1130.6 785.6,1130.7 786.4,1130.9 787.3,1131.1 788.1,1131.3 788.9,1131.4 789.8,1131.5 790.6,1131.6 791.4,1131.6 792.3,1131.5 793.1,1131.2 793.9,1130.8 794.7,1130.3 795.6,1129.6 796.4,1128.9 797.2,1128.2 798.1,1127.5 798.9,1126.6 799.7,1125.5 800.6,1124.2 801.4,1122.8 802.2,1121.3 803.1,1119.8 803.9,1118.3 804.7,1117.0 805.6,1115.7 806.4,1114.7 807.2,1113.9 808.0,1112.9 808.9,1112.0 809.7,1111.2 810.5,1110.4 811.4,1109.8 812.2,1109.3 813.0,1109.0 813.9,1108.9 814.7,1109.2 815.5,1109.8 816.4,1110.7 817.2,1111.8 818.0,1113.1 818.8,1114.4 819.7,1115.8 820.5,1117.5 821.3,1119.7 822.2,1122.1 823.0,1124.6 823.8,1126.8 824.7,1128.5 825.5,1129.9 826.3,1131.1 827.2,1132.3 828.0,1133.3 828.8,1134.0 829.6,1134.4 830.5,1134.6 831.3,1134.7 832.1,1134.9 833.0,1135.0 833.8,1135.1 834.6,1135.2 835.5,1135.3 836.3,1135.4 837.1,1135.4 838.0,1135.4 838.8,1135.4 839.6,1135.4 840.5,1135.4 841.3,1135.4 842.1,1135.4 842.9,1135.4 843.8,1135.4 844.6,1135.4 845.4,1135.4 846.3,1135.4 847.1,1135.4 847.9,1135.4 848.8,1135.4 849.6,1135.4 850.4,1135.4 851.3,1135.4 852.1,1135.4 852.9,1135.4 853.7,1135.4 854.6,1135.4 855.4,1135.4 856.2,1135.4 857.1,1135.4 857.9,1135.4 858.7,1135.4 859.6,1135.4 860.4,1135.4 861.2,1135.4 862.1,1135.4 862.9,1135.4 863.7,1135.4 864.6,1135.4 865.4,1135.4 866.2,1135.4 867.0,1135.4 867.9,1135.4 868.7,1135.4 869.5,1135.4 870.4,1135.4 871.2,1135.4 872.0,1135.4 872.9,1135.4 873.7,1135.4 874.5,1135.4 875.4,1135.4 876.2,1135.4 877.0,1135.4 877.8,1135.4 878.7,1135.4 879.5,1135.4 880.3,1135.4 881.2,1135.4 882.0,1135.4 882.8,1135.4 883.7,1135.4 884.5,1135.4 885.3,1135.4 886.2,1135.4 887.0,1135.4 887.8,1135.4 888.7,1135.4 889.5,1135.4 890.3,1135.4 891.1,1135.4 892.0,1135.4 892.8,1135.4 893.6,1135.4 894.5,1135.4 895.3,1135.4 896.1,1135.4 897.0,1135.4 897.8,1135.4 898.6,1135.4 899.5,1135.4 900.3,1135.4 901.1,1135.4 901.9,1135.4 902.8,1135.4 903.6,1135.4 904.4,1135.4 905.3,1135.4 906.1,1135.4 906.9,1135.4 907.8,1135.4 908.6,1135.4 909.4,1135.4 910.3,1135.4 911.1,1135.4 911.9,1135.4 912.8,1135.4 913.6,1135.4 914.4,1135.4 915.2,1135.4 916.1,1135.4 916.9,1135.4 917.7,1135.4 918.6,1135.4 919.4,1135.4 920.2,1135.4 921.1,1135.4 921.9,1135.4 922.7,1135.4 923.6,1135.4 924.4,1135.4 925.2,1135.4 926.0,1135.4 926.9,1135.4 927.7,1135.4 928.5,1135.4 929.4,1135.4 930.2,1135.4 931.0,1135.4 931.9,1135.4 932.7,1135.4 933.5,1135.4 934.4,1135.4 935.2,1135.4 936.0,1135.4 936.8,1135.4 937.7,1135.4 938.5,1135.4 939.3,1135.4 940.2,1135.4 941.0,1135.4 941.8,1135.4 942.7,1135.4 943.5,1135.4 944.3,1135.4 945.2,1135.4 946.0,1135.4 946.8,1135.4 947.7,1135.4 948.5,1135.4 949.3,1135.4 950.1,1135.4 951.0,1135.4 951.8,1135.4 952.6,1135.4 953.5,1135.4 954.3,1135.4 955.1,1135.4 956.0,1135.4 956.8,1135.4 957.6,1135.4 958.5,1135.4 959.3,1135.4 960.1,1135.4 960.9,1135.4 961.8,1135.4 962.6,1135.4 963.4,1135.4 964.3,1135.4 965.1,1135.4 965.9,1135.4 966.8,1135.4 967.6,1135.4 968.4,1135.4 969.3,1135.4 970.1,1135.4 970.9,1135.4 971.8,1135.4 972.6,1135.4 973.4,1135.4 974.2,1135.4 975.1,1135.4 975.9,1135.4 976.7,1135.4 977.6,1135.4 978.4,1135.4 979.2,1135.4 980.1,1135.4 980.9,1135.4 981.7,1135.4 982.6,1135.4 983.4,1135.4 984.2,1135.4 985.0,1135.4 985.9,1135.4 986.7,1135.4 987.5,1135.4 988.4,1135.4 989.2,1135.4 990.0,1135.4 990.9,1135.4 991.7,1135.4 992.5,1135.4 993.4,1135.4 994.2,1135.4 995.0,1135.4 995.9,1135.4 996.7,1135.4 997.5,1135.4 998.3,1135.4 999.2,1135.4 1000.0,1135.4 1000.8,1135.4 1001.7,1135.4 1002.5,1135.4 1003.3,1135.4 1004.2,1135.4 1005.0,1135.4 1005.8,1135.4 1006.7,1135.4 1007.5,1135.4 1008.3,1135.4 1009.1,1135.4 1010.0,1135.4 1010.8,1135.4 1011.6,1135.4 1012.5,1135.4 1013.3,1135.4 1014.1,1135.4 1015.0,1135.4 1015.8,1135.4 1016.6,1135.4 1017.5,1135.4 1018.3,1135.4 1019.1,1135.4 1019.9,1135.4 1020.8,1135.4 1021.6,1135.4 1022.4,1135.4 1023.3,1135.4 1024.1,1135.4 1024.9,1135.4 1025.8,1135.4 1026.6,1135.4 1027.4,1135.4 1028.3,1135.4 1029.1,1135.4 1029.9,1135.4 1030.8,1135.4 1031.6,1135.4 1032.4,1135.4 1033.2,1135.4 1034.1,1135.4 1034.9,1135.4 1035.7,1135.4 1036.6,1135.4 1037.4,1135.4 1038.2,1135.4 1039.1,1135.4 1039.9,1135.4 1040.7,1135.4 1041.6,1135.4 1042.4,1135.4 1043.2,1135.4 1044.0,1135.4 1044.9,1135.4 1045.7,1135.4 1046.5,1135.4 1047.4,1135.4 1048.2,1135.4 1049.0,1135.4 1049.9,1135.4 1050.7,1135.4 1051.5,1135.4 1052.4,1135.4 1053.2,1135.4 1054.0,1135.4 1054.9,1135.4 1055.7,1135.4 1056.5,1135.4 1057.3,1135.4 1058.2,1135.4 1059.0,1135.4 1059.8,1135.4 1060.7,1135.4 1061.5,1135.4 1062.3,1135.4 1063.2,1135.4 1064.0,1135.4 1064.8,1135.4 1065.7,1135.4 1066.5,1135.4 1067.3,1135.4 1068.1,1135.4 1069.0,1135.4 1069.8,1135.4 1070.6,1135.4 1071.5,1135.4 1072.3,1135.4 1073.1,1135.4 1074.0,1135.4 1074.8,1135.4 1075.6,1135.4 1076.5,1135.4 1077.3,1135.4 1078.1,1135.4 1079.0,1135.4 1079.8,1135.4 1080.6,1135.4 1081.4,1135.4 1082.3,1135.4 1083.1,1135.4 1083.9,1135.4 1084.8,1135.4 1085.6,1135.4 1086.4,1135.4 1087.3,1135.4 1088.1,1135.4 1088.9,1135.4 1089.8,1135.4 1090.6,1135.4 1091.4,1135.4 1092.2,1135.4 1093.1,1135.4 1093.9,1135.4 1094.7,1135.4 1095.6,1135.4 1096.4,1135.4 1097.2,1135.4 1098.1,1135.4 1098.9,1135.4 1099.7,1135.4 1100.6,1135.4 1101.4,1135.4 1102.2,1135.4 1103.0,1135.4 1103.9,1135.4 1104.7,1135.4 1105.5,1135.4 1106.4,1135.4 1107.2,1135.4 1108.0,1135.4 1108.9,1135.4 1109.7,1135.4 1110.5,1135.4 1111.4,1135.4 1112.2,1135.4 1113.0,1135.4 1113.9,1135.4 1114.7,1135.4 1115.5,1135.4 1116.3,1135.4 1117.2,1135.4 1118.0,1135.4 1118.8,1135.4 1119.7,1135.4 1120.5,1135.4 1121.3,1135.4 1122.2,1135.4 1123.0,1135.4 1123.8,1135.4 1124.7,1135.4 1125.5,1135.4 1126.3,1135.4 1127.1,1135.4 1128.0,1135.4 1128.8,1135.4 1129.6,1135.4 1130.5,1135.4 1131.3,1135.4 1132.1,1135.4 1133.0,1135.4 1133.8,1135.4 1134.6,1135.4 1135.5,1135.4 1136.3,1135.4 1137.1,1135.4 1138.0,1135.4 1138.8,1135.4 1139.6,1135.4 1140.4,1135.4 1141.3,1135.4 1142.1,1135.4 1142.9,1135.4 1143.8,1135.4 1144.6,1135.4 1145.4,1135.4 1146.3,1135.4 1147.1,1135.4 1147.9,1135.4 1148.8,1135.4 1149.6,1135.4 1150.4,1135.4 1151.2,1135.4 1152.1,1135.4 1152.9,1135.4 1153.7,1135.4 1154.6,1135.4 1155.4,1135.4 1156.2,1135.4 1157.1,1135.4 1157.9,1135.4 1158.7,1135.4 1159.6,1135.4 1160.4,1135.4 1161.2,1135.4 1162.0,1135.4 1162.9,1135.4 1163.7,1135.4 1164.5,1135.4 1165.4,1135.4 1166.2,1135.4 1167.0,1135.4 1167.9,1135.4 1168.7,1135.4 1169.5,1135.4 1170.4,1135.4 1171.2,1135.4 1172.0,1135.4 1172.9,1135.4 1173.7,1135.4 1174.5,1135.4 1175.3,1135.4 1176.2,1135.4 1177.0,1135.4 1177.8,1135.4 1178.7,1135.4 1179.5,1135.4 1180.3,1135.4 1181.2,1135.4 1182.0,1135.4 1182.8,1135.4 1183.7,1135.4 1184.5,1135.4 1185.3,1135.4 1186.1,1135.4 1187.0,1135.4 1187.8,1135.4 1188.6,1135.4 1189.5,1135.4 1190.3,1135.4 1191.1,1135.4 1192.0,1135.4 1192.8,1135.4 1193.6,1135.4 1194.5,1135.4 1195.3,1135.4 1196.1,1135.4 1197.0,1135.4 1197.8,1135.4 1198.6,1135.4 1199.4,1135.4 1200.3,1135.4 1201.1,1135.4 1201.9,1135.4 1202.8,1135.4 1203.6,1135.4 1204.4,1135.4 1205.3,1135.4 1206.1,1135.4 1206.9,1135.4 1207.8,1135.4 1208.6,1135.4 1209.4,1135.4 1210.2,1135.4 1211.1,1135.4 1211.9,1135.3 1212.7,1135.2 1213.6,1135.0 1214.4,1134.8 1215.2,1134.6 1216.1,1134.3 1216.9,1134.0 1217.7,1133.7 1218.6,1133.2 1219.4,1132.6 1220.2,1131.9 1221.1,1131.1 1221.9,1130.2 1222.7,1129.2 1223.5,1127.8 1224.4,1126.2 1225.2,1124.4 1226.0,1122.2 1226.9,1119.9 1227.7,1117.0 1228.5,1113.3 1229.4,1109.0 1230.2,1104.4 1231.0,1099.3 1231.9,1093.6 1232.7,1087.3 1233.5,1080.3 1234.3,1072.5 1235.2,1063.7 1236.0,1054.2 1236.8,1044.1 1237.7,1033.5 1238.5,1022.1 1239.3,1010.1 1240.2,997.6 1241.0,984.7 1241.8,971.1 1242.7,957.0 1243.5,942.5 1244.3,927.7 1245.2,912.4 1246.0,896.7 1246.8,880.5 1247.6,863.9 1248.5,846.8 1249.3,829.3 1250.1,811.6 1251.0,793.8 1251.8,775.7 1252.6,757.5 1253.5,739.3 1254.3,721.2 1255.1,703.0 1256.0,684.9 1256.8,667.0 1257.6,649.1 1258.4,631.4 1259.3,613.7 1260.1,596.4 1260.9,579.3 1261.8,562.4 1262.6,545.7 1263.4,529.2 1264.3,512.9 1265.1,496.7 1265.9,480.8 1266.8,465.5 1267.6,450.6 1268.4,436.1 1269.2,422.1 1270.1,408.7 1270.9,395.7 1271.7,383.2 1272.6,371.3 1273.4,360.4 1274.2,350.1 1275.1,340.1 1275.9,331.3 1276.7,324.3 1277.6,318.5 1278.4,313.5 1279.2,309.4 1280.1,306.7 1280.9,304.9 1281.7,303.6 1282.5,303.3 1283.4,304.0 1284.2,305.4 1285.0,307.4 1285.9,309.5 1286.7,311.5 1287.5,313.6 1288.4,315.8 1289.2,318.2 1290.0,320.8 1290.9,323.5 1291.7,326.3 1292.5,329.4 1293.3,333.0 1294.2,337.4 1295.0,343.3 1295.8,350.0 1296.7,357.0 1297.5,364.2 1298.3,372.0 1299.2,380.0 1300.0,388.0 1300.8,396.0 1301.7,404.2 1302.5,412.4 1303.3,420.7 1304.2,429.0 1305.0,437.4 1305.8,445.8 1306.6,454.1 1307.5,462.5 1308.3,470.8 1309.1,479.2 1310.0,487.5 1310.8,495.9 1311.6,504.3 1312.5,512.6 1313.3,521.0 1314.1,529.4 1315.0,537.7 1315.8,546.1 1316.6,554.4 1317.4,562.8 1318.3,571.1 1319.1,579.5 1319.9,587.8 1320.8,596.1 1321.6,604.4 1322.4,612.7 1323.3,620.9 1324.1,629.1 1324.9,637.1 1325.8,645.2 1326.6,653.1 1327.4,661.0 1328.2,668.9 1329.1,676.6 1329.9,684.2 1330.7,691.7 1331.6,699.2 1332.4,706.5 1333.2,713.8 1334.1,720.9 1334.9,727.9 1335.7,734.9 1336.6,741.7 1337.4,748.5 1338.2,755.2 1339.1,761.7 1339.9,768.1 1340.7,774.4 1341.5,780.6 1342.4,786.7 1343.2,792.7 1344.0,798.6 1344.9,804.4 1345.7,810.0 1346.5,815.6 1347.4,821.0 1348.2,826.4 1349.0,831.7 1349.9,836.9 1350.7,842.0 1351.5,846.9 1352.3,851.7 1353.2,856.4 1354.0,861.0 1354.8,865.5 1355.7,869.8 1356.5,874.2 1357.3,878.4 1358.2,882.5 1359.0,886.5 1359.8,890.5 1360.7,894.3 1361.5,898.0 1362.3,901.6 1363.2,905.2 1364.0,908.7 1364.8,912.2 1365.6,915.6 1366.5,918.9 1367.3,922.2 1368.1,925.4 1369.0,928.5 1369.8,931.5 1370.6,934.5 1371.5,937.4 1372.3,940.2 1373.1,942.9 1374.0,945.6 1374.8,948.2 1375.6,950.8 1376.4,953.4 1377.3,955.9 1378.1,958.4 1378.9,960.8 1379.8,963.2 1380.6,965.5 1381.4,967.8 1382.3,970.0 1383.1,972.1 1383.9,974.3 1384.8,976.3 1385.6,978.4 1386.4,980.3 1387.3,982.2 1388.1,984.1 1388.9,986.0 1389.7,987.8 1390.6,989.5 1391.4,991.2 1392.2,992.9 1393.1,994.6 1393.9,996.2 1394.7,997.8 1395.6,999.4 1396.4,1001.0 1397.2,1002.5 1398.1,1004.0 1398.9,1005.5 1399.7,1007.0 1400.5,1008.5 1401.4,1009.9 1402.2,1011.4 1403.0,1012.8 1403.9,1014.2 1404.7,1015.6 1405.5,1017.0 1406.4,1018.4 1407.2,1019.7 1408.0,1021.0 1408.9,1022.3 1409.7,1023.6 1410.5,1024.9 1411.3,1026.2 1412.2,1027.5 1413.0,1028.7 1413.8,1029.9 1414.7,1031.2 1415.5,1032.4 1416.3,1033.6 1417.2,1034.8 1418.0,1035.9 1418.8,1037.1 1419.7,1038.3 1420.5,1039.4 1421.3,1040.6 1422.2,1041.7 1423.0,1042.9 1423.8,1044.0 1424.6,1045.1 1425.5,1046.3 1426.3,1047.4 1427.1,1048.5 1428.0,1049.5 1428.8,1050.6 1429.6,1051.7 1430.5,1052.7 1431.3,1053.7 1432.1,1054.8 1433.0,1055.8 1433.8,1056.8 1434.6,1057.7 1435.4,1058.7 1436.3,1059.6 1437.1,1060.6 1437.9,1061.5 1438.8,1062.4 1439.6,1063.3 1440.4,1064.2 1441.3,1065.1 1442.1,1065.9 1442.9,1066.8 1443.8,1067.6 1444.6,1068.5 1445.4,1069.3 1446.3,1070.1 1447.1,1070.9 1447.9,1071.7 1448.7,1072.5 1449.6,1073.2 1450.4,1074.0 1451.2,1074.7 1452.1,1075.5 1452.9,1076.2 1453.7,1076.9 1454.6,1077.6 1455.4,1078.3 1456.2,1078.9 1457.1,1079.6 1457.9,1080.2 1458.7,1080.9 1459.5,1081.5 1460.4,1082.2 1461.2,1082.8 1462.0,1083.4 1462.9,1084.0 1463.7,1084.6 1464.5,1085.2 1465.4,1085.8 1466.2,1086.3 1467.0,1086.9 1467.9,1087.5 1468.7,1088.0 1469.5,1088.6 1470.4,1089.1 1471.2,1089.6 1472.0,1090.2 1472.8,1090.7 1473.7,1091.2 1474.5,1091.7 1475.3,1092.2 1476.2,1092.7 1477.0,1093.2 1477.8,1093.7 1478.7,1094.2 1479.5,1094.7 1480.3,1095.1 1481.2,1095.6 1482.0,1096.1 1482.8,1096.5 1483.6,1096.9 1484.5,1097.4 1485.3,1097.8 1486.1,1098.2 1487.0,1098.6 1487.8,1099.0 1488.6,1099.4 1489.5,1099.8 1490.3,1100.2 1491.1,1100.6 1492.0,1101.0 1492.8,1101.4 1493.6,1101.8 1494.5,1102.1 1495.3,1102.5 1496.1,1102.9 1496.9,1103.2 1497.8,1103.6 1498.6,1103.9 1499.4,1104.3 1500.3,1104.6 1501.1,1104.9 1501.9,1105.3 1502.8,1105.6 1503.6,1105.9 1504.4,1106.2 1505.3,1106.5 1506.1,1106.8 1506.9,1107.1 1507.7,1107.4 1508.6,1107.7 1509.4,1108.0 1510.2,1108.3 1511.1,1108.6 1511.9,1108.9 1512.7,1109.1 1513.6,1109.4 1514.4,1109.7 1515.2,1110.0 1516.1,1110.2 1516.9,1110.5 1517.7,1110.7 1518.5,1111.0 1519.4,1111.3 1520.2,1111.5 1521.0,1111.8 1521.9,1112.0 1522.7,1112.2 1523.5,1112.5 1524.4,1112.7 1525.2,1112.9 1526.0,1113.2 1526.9,1113.4 1527.7,1113.6 1528.5,1113.8 1529.4,1114.1 1530.2,1114.3 1531.0,1114.5 1531.8,1114.7 1532.7,1114.9 1533.5,1115.1 1534.3,1115.3 1535.2,1115.5 1536.0,1115.7 1536.8,1115.9 1537.7,1116.1 1538.5,1116.3 1539.3,1116.5 1540.2,1116.7 1541.0,1116.9 1541.8,1117.0 1542.6,1117.2 1543.5,1117.4 1544.3,1117.6 1545.1,1117.8 1546.0,1117.9 1546.8,1118.1 1547.6,1118.3 1548.5,1118.4 1549.3,1118.6 1550.1,1118.8 1551.0,1118.9 1551.8,1119.1 1552.6,1119.2 1553.5,1119.4 1554.3,1119.5 1555.1,1119.7 1555.9,1119.8 1556.8,1120.0 1557.6,1120.1 1558.4,1120.2 1559.3,1120.4 1560.1,1120.5 1560.9,1120.6 1561.8,1120.8 1562.6,1120.9 1563.4,1121.0 1564.3,1121.1 1565.1,1121.3 1565.9,1121.4 1566.7,1121.5 1567.6,1121.6 1568.4,1121.7 1569.2,1121.9 1570.1,1122.0 1570.9,1122.1 1571.7,1122.2 1572.6,1122.3 1573.4,1122.4 1574.2,1122.5 1575.1,1122.7 1575.9,1122.8 1576.7,1122.9 1577.5,1123.0 1578.4,1123.1 1579.2,1123.2 1580.0,1123.3 1580.9,1123.4 1581.7,1123.5 1582.5,1123.6 1583.4,1123.7 1584.2,1123.8 1585.0,1123.9 1585.9,1124.0 1586.7,1124.1 1587.5,1124.2 1588.4,1124.3 1589.2,1124.4 1590.0,1124.5 1590.8,1124.6 1591.7,1124.6 1592.5,1124.7 1593.3,1124.8 1594.2,1124.9 1595.0,1125.0 1595.8,1125.1 1596.7,1125.2 1597.5,1125.2 1598.3,1125.3 1599.2,1125.4 1600.0,1125.5 1600.8,1125.6 1601.6,1125.6 1602.5,1125.7 1603.3,1125.8 1604.1,1125.9 1605.0,1125.9 1605.8,1126.0 1606.6,1126.1 1607.5,1126.2 1608.3,1126.2 1609.1,1126.3 1610.0,1126.4 1610.8,1126.4 1611.6,1126.5 1612.5,1126.6 1613.3,1126.6 1614.1,1126.7 1614.9,1126.7 1615.8,1126.8 1616.6,1126.9 1617.4,1126.9 1618.3,1127.0 1619.1,1127.0 1619.9,1127.1 1620.8,1127.1 1621.6,1127.2 1622.4,1127.3 1623.3,1127.3 1624.1,1127.4 1624.9,1127.4 1625.7,1127.5 1626.6,1127.5 1627.4,1127.6 1628.2,1127.6 1629.1,1127.7 1629.9,1127.7 1630.7,1127.8 1631.6,1127.8 1632.4,1127.8 1633.2,1127.9 1634.1,1127.9 1634.9,1128.0 1635.7,1128.0 1636.6,1128.1 1637.4,1128.1 1638.2,1128.1 1639.0,1128.2 1639.9,1128.2 1640.7,1128.3 1641.5,1128.3 1642.4,1128.3 1643.2,1128.4 1644.0,1128.4 1644.9,1128.5 1645.7,1128.5 1646.5,1128.5 1647.4,1128.6 1648.2,1128.6 1649.0,1128.7 1649.8,1128.7 1650.7,1128.7 1651.5,1128.8 1652.3,1128.8 1653.2,1128.9 1654.0,1128.9 1654.8,1128.9 1655.7,1129.0 1656.5,1129.0 1657.3,1129.0 1658.2,1129.1 1659.0,1129.1 1659.8,1129.1 1660.7,1129.1 1661.5,1129.1 1662.3,1129.2 1663.1,1129.2 1664.0,1129.2 1664.8,1129.2 1665.6,1129.2 1666.5,1129.2 1667.3,1129.2 1668.1,1129.2 1669.0,1129.2 1669.8,1129.2 1670.6,1129.3 1671.5,1129.3 1672.3,1129.3 1673.1,1129.3 1673.9,1129.3 1674.8,1129.3 1675.6,1129.3 1676.4,1129.3 1677.3,1129.3 1678.1,1129.3 1678.9,1129.3 1679.8,1129.3 1680.6,1129.3 1681.4,1129.3 1682.3,1129.3 1683.1,1129.3 1683.9,1129.3 1684.7,1129.4 1685.6,1129.4 1686.4,1129.4 1687.2,1129.4 1688.1,1129.4 1688.9,1129.4 1689.7,1129.4 1690.6,1129.4 1691.4,1129.4 1692.2,1129.4 1693.1,1129.4 1693.9,1129.4 1694.7,1129.4 1695.6,1129.4 1696.4,1129.4 1697.2,1129.4 1698.0,1129.4 1698.9,1129.4 1699.7,1129.4 1700.5,1129.4 1701.4,1129.4 1702.2,1129.5 1703.0,1129.5 1703.9,1129.5 1704.7,1129.5 1705.5,1129.5 1706.4,1129.5 1707.2,1129.5 1708.0,1129.5 1708.8,1129.5 1709.7,1129.5 1710.5,1129.5 1711.3,1129.5 1712.2,1129.5 1713.0,1129.5 1713.8,1129.5 1714.7,1129.5 1715.5,1129.5 1716.3,1129.5 1717.2,1129.5 1718.0,1129.5 1718.8,1129.5 1719.7,1129.5 1720.5,1129.5 1721.3,1129.5 1722.1,1129.5 1723.0,1129.5 1723.8,1129.5 1724.6,1129.5 1725.5,1129.5 1726.3,1129.5 1727.1,1129.5 1728.0,1129.5 1728.8,1129.5 1729.6,1129.5 1730.5,1129.5 1731.3,1129.5 1732.1,1129.5 1732.9,1129.5 1733.8,1129.5 1734.6,1129.5 1735.4,1129.5 1736.3,1129.5 1737.1,1129.5 1737.9,1129.5 1738.8,1129.6 1739.6,1129.6 1740.4,1129.6 1741.3,1129.6 1742.1,1129.6 1742.9,1129.6 1743.8,1129.6 1744.6,1129.6 1745.4,1129.6 1746.2,1129.6 1747.1,1129.6 1747.9,1129.6 1748.7,1129.6 1749.6,1129.6 1750.4,1129.6 1751.2,1129.6 1752.1,1129.6 1752.9,1129.6 1753.7,1129.6 1754.6,1129.6 1755.4,1129.6 1756.2,1129.6 1757.0,1129.6 1757.9,1129.6 1758.7,1129.6 1759.5,1129.6 1760.4,1129.6 1761.2,1129.6 1762.0,1129.6 1762.9,1129.6 1763.7,1129.6 1764.5,1129.6 1765.4,1129.6 1766.2,1129.6 1767.0,1129.6 1767.8,1129.6 1768.7,1129.6 1769.5,1129.6 1770.3,1129.6 1771.2,1129.6 1772.0,1129.6 1772.8,1129.6 1773.7,1129.6 1774.5,1129.6 1775.3,1129.6 1776.2,1129.6 1777.0,1129.6 1777.8,1129.6 1778.7,1129.6 1779.5,1129.6 1780.3,1129.6 1781.1,1129.6 1782.0,1129.6 1782.8,1129.6 1783.6,1129.6 1784.5,1129.6 1785.3,1129.6 1786.1,1129.6 1787.0,1129.6 1787.8,1129.6 1788.6,1129.6 1789.5,1129.6 1790.3,1129.6 1791.1,1129.6 1791.9,1129.6 1792.8,1129.6 1793.6,1129.6 1794.4,1129.6 1795.3,1129.6 1796.1,1130.5 1796.9,1132.5 1797.8,1134.5 1798.6,1135.4 1799.4,1135.4 1800.3,1135.4 1801.1,1135.4 1801.9,1135.4 1802.8,1135.4 1803.6,1135.4 1804.4,1135.4 1805.2,1135.4 1806.1,1135.4 1806.9,1135.4 1807.7,1135.4 1808.6,1135.4 1809.4,1135.4 1810.2,1135.4 1811.1,1135.4 1811.9,1135.4 1812.7,1135.4 1813.6,1135.4 1814.4,1135.4 1815.2,1135.4 1816.0,1135.4 1816.9,1135.4 1817.7,1135.4 1818.5,1135.4 1819.4,1135.4 1820.2,1135.4 1821.0,1135.4 1821.9,1135.4 1822.7,1135.4 1823.5,1135.4 1824.4,1135.4 1825.2,1135.4 1826.0,1135.4 1826.8,1135.4 1827.7,1135.4 1828.5,1135.4 1829.3,1135.4 1830.2,1135.4 1831.0,1135.4 1831.8,1135.4 1832.7,1135.4 1833.5,1135.4 1834.3,1135.4 1835.2,1135.4 1836.0,1135.4 1836.8,1135.4 1837.7,1135.4 1838.5,1135.4 1839.3,1135.4 1840.1,1135.4 1841.0,1135.4 1841.8,1135.4 1842.6,1135.4 1843.5,1135.4 1844.3,1135.4 1845.1,1135.4 1846.0,1135.4 1846.8,1135.4 1847.6,1135.4 1848.5,1135.4 1849.3,1135.4 1850.1,1135.4 1850.9,1135.4 1851.8,1135.4 1852.6,1135.4 1853.4,1135.4 1854.3,1135.4 1855.1,1135.4 1855.9,1135.4 1856.8,1135.4 1857.6,1135.4 1858.4,1135.4 1859.3,1135.4 1860.1,1135.4 1860.9,1135.4 1861.8,1135.4 1862.6,1135.4 1863.4,1135.4 1864.2,1135.4 1865.1,1135.4 1865.9,1135.4 1866.7,1135.4 1867.6,1135.4 1868.4,1135.4 1869.2,1135.4 1870.1,1135.4 1870.9,1135.4 1871.7,1135.4 1872.6,1135.4 1873.4,1135.4 1874.2,1135.4 1875.0,1135.4 1875.9,1135.4 1876.7,1135.4 1877.5,1135.4 1878.4,1135.4 1879.2,1135.4 1880.0,1135.4 1880.9,1135.4 1881.7,1135.4 1882.5,1135.4 1883.4,1135.4 1884.2,1135.4 1885.0,1135.4 1885.9,1135.4 1886.7,1135.4 1887.5,1135.4 1888.3,1135.4" transform="translate(0,1.0)"/></g>
</g>
</g>
<g id="panel-b">
<g stroke="#303030" stroke-width="4.2" fill="none" stroke-linecap="butt">
<rect x="289.4" y="1330.5" width="1663.2" height="1037.6" stroke-width="4.9"/>
<line x1="289.5" y1="2368.1" x2="289.5" y2="2387.4"/>
<line x1="408.3" y1="2368.1" x2="408.3" y2="2375.1"/>
<line x1="527.1" y1="2368.1" x2="527.1" y2="2387.4"/>
<line x1="645.9" y1="2368.1" x2="645.9" y2="2375.1"/>
<line x1="764.6" y1="2368.1" x2="764.6" y2="2387.4"/>
<line x1="883.4" y1="2368.1" x2="883.4" y2="2375.1"/>
<line x1="1002.2" y1="2368.1" x2="1002.2" y2="2387.4"/>
<line x1="1121.0" y1="2368.1" x2="1121.0" y2="2375.1"/>
<line x1="1239.8" y1="2368.1" x2="1239.8" y2="2387.4"/>
<line x1="1358.6" y1="2368.1" x2="1358.6" y2="2375.1"/>
<line x1="1477.4" y1="2368.1" x2="1477.4" y2="2387.4"/>
<line x1="1596.1" y1="2368.1" x2="1596.1" y2="2375.1"/>
<line x1="1714.9" y1="2368.1" x2="1714.9" y2="2387.4"/>
<line x1="1833.7" y1="2368.1" x2="1833.7" y2="2375.1"/>
<line x1="1952.5" y1="2368.1" x2="1952.5" y2="2387.4"/>
<line x1="289.4" y1="2368.1" x2="264.4" y2="2368.1"/>
<line x1="289.4" y1="2250.4" x2="274.4" y2="2250.4"/>
<line x1="289.4" y1="2132.7" x2="264.4" y2="2132.7"/>
<line x1="289.4" y1="2015.0" x2="274.4" y2="2015.0"/>
<line x1="289.4" y1="1897.3" x2="264.4" y2="1897.3"/>
<line x1="289.4" y1="1779.6" x2="274.4" y2="1779.6"/>
<line x1="289.4" y1="1661.9" x2="264.4" y2="1661.9"/>
<line x1="289.4" y1="1544.2" x2="274.4" y2="1544.2"/>
<line x1="289.4" y1="1426.5" x2="264.4" y2="1426.5"/>
</g>
<g class="tk">
<text x="285.5" y="2444.6" text-anchor="middle">0</text>
<text x="523.1" y="2444.6" text-anchor="middle">100</text>
<text x="760.6" y="2444.6" text-anchor="middle">200</text>
<text x="998.2" y="2444.6" text-anchor="middle">300</text>
<text x="1235.8" y="2444.6" text-anchor="middle">400</text>
<text x="1473.4" y="2444.6" text-anchor="middle">500</text>
<text x="1710.9" y="2444.6" text-anchor="middle">600</text>
<text x="1948.5" y="2444.6" text-anchor="middle">700</text>
<text x="249.0" y="2378.1" text-anchor="end">0.0</text>
<text x="249.0" y="2147.1" text-anchor="end">0.5</text>
<text x="249.0" y="1911.7" text-anchor="end">1.0</text>
<text x="249.0" y="1676.3" text-anchor="end">1.5</text>
<text x="249.0" y="1440.9" text-anchor="end">2.0</text>
</g>
<clipPath id="clip-b"><rect x="291.4" y="1328.0" width="1664.2" height="1043.5"/></clipPath>
<g clip-path="url(#clip-b)" fill="none" stroke-linejoin="miter" stroke-miterlimit="3" stroke-linecap="butt">
<path d="M291.4,2312.7H298.3V2309.3H305.2V2316.2H308.6V2319.6H312.1V2312.7H325.9V2309.3H332.8V2312.7H339.7V2309.3H343.1V2302.4H350.0V2305.8H353.4V2298.9H360.3V2302.4H363.8V2316.2H367.2V2305.8H370.7V2295.5H374.1V2292.0H381.0V2309.3H387.9V2305.8H394.8V2319.6H398.2V2309.3H401.7V2295.5H408.6V2312.7H418.9V2309.3H425.8V2305.8H429.3V2298.9H436.2V2309.3H443.1V2302.4H449.9V2312.7H453.4V2302.4H460.3V2309.3H463.7V2305.8H467.2V2298.9H470.6V2295.5H477.5V2302.4H484.4V2305.8H494.8V2302.4H505.1V2288.6H512.0V2292.0H515.4V2274.8H522.3V2257.6H525.8V2243.8H529.2V2233.4H532.7V2226.5H536.1V2202.4H539.6V2119.7H543.0V1968.0H546.5V1957.7H549.9V1940.5H553.3V1875.0H560.2V1919.8H567.1V1964.6H574.0V1981.8H580.9V1999.1H584.4V1992.2H591.3V2026.6H601.6V2043.9H605.0V2081.8H608.5V2126.6H611.9V2143.8H615.4V2161.1H618.8V2174.8H625.7V2212.8H629.2V2233.4H632.6V2243.8H636.1V2254.1H639.5V2271.4H643.0V2278.2H649.9V2288.6H653.3V2298.9H663.6V2302.4H670.5V2305.8H674.0V2312.7H691.2V2323.1H698.1V2316.2H711.9V2309.3H718.8V2316.2H722.2V2312.7H729.1V2316.2H742.9V2319.6H749.8V2309.3H760.1V2319.6H763.6V2316.2H770.5V2323.1H773.9V2316.2H787.7V2309.3H794.6V2312.7H798.1V2319.6H801.5V2312.7H808.4V2316.2H811.8V2309.3H818.7V2319.6H825.6V2316.2H829.1V2309.3H846.3V2316.2H849.8V2292.0H856.7V2302.4H860.1V2288.6H867.0V2305.8H870.4V2302.4H873.9V2281.7H880.8V2292.0H884.2V2285.1H887.7V2271.4H894.6V2278.2H898.0V2281.7H901.5V2278.2H904.9V2271.4H911.8V2254.1H918.7V2267.9H922.1V2257.6H925.6V2254.1H929.0V2233.4H939.4V2243.8H946.3V2250.7H953.2V2236.9H960.1V2205.9H963.5V2178.3H970.4V2216.2H973.8V2212.8H980.7V2188.6H987.6V2209.3H998.0V2212.8H1001.4V2171.4H1008.3V2161.1H1015.2V2178.3H1018.6V2154.2H1025.5V2168.0H1032.4V2185.2H1035.9V2112.8H1042.8V2171.4H1046.2V2143.8H1053.1V2126.6H1060.0V2123.1H1066.9V2133.5H1070.3V2119.7H1077.2V2126.6H1084.1V2116.3H1087.6V2099.0H1091.0V2064.6H1094.5V2026.6H1101.4V2061.1H1104.8V2099.0H1108.3V2102.5H1111.7V2099.0H1115.2V2064.6H1122.0V2081.8H1125.5V2037.0H1128.9V2026.6H1132.4V2019.7H1139.3V2033.5H1142.7V2019.7H1146.2V2006.0H1149.6V1950.8H1156.5V1978.4H1160.0V1957.7H1163.4V1950.8H1166.9V1933.6H1170.3V1878.4H1177.2V1899.1H1180.6V1875.0H1184.1V1812.9H1191.0V1819.8H1194.4V1826.7H1197.9V1792.3H1204.8V1713.0H1215.1V1688.9H1218.6V1682.0H1222.0V1675.1H1225.4V1654.4H1232.3V1644.1H1235.8V1599.3H1242.7V1654.4H1246.1V1640.6H1249.6V1637.2H1256.5V1644.1H1259.9V1651.0H1266.8V1685.4H1270.3V1713.0H1277.1V1723.3H1280.6V1775.0H1284.0V1754.4H1290.9V1781.9H1297.8V1795.7H1308.2V1778.5H1315.1V1812.9H1318.5V1819.8H1322.0V1857.8H1325.4V1854.3H1332.3V1906.0H1335.7V1923.2H1339.2V1933.6H1342.6V1937.0H1349.5V1957.7H1356.4V1988.7H1363.3V1999.1H1370.2V2043.9H1377.1V2019.7H1384.0V2074.9H1387.4V2105.9H1390.9V2102.5H1397.8V2081.8H1404.7V2116.3H1408.1V2133.5H1415.0V2119.7H1421.9V2116.3H1428.8V2130.0H1435.7V2140.4H1442.6V2150.7H1452.9V2164.5H1456.4V2168.0H1459.8V2178.3H1463.3V2143.8H1470.2V2164.5H1477.1V2188.6H1480.5V2181.7H1487.4V2209.3H1490.8V2181.7H1497.7V2192.1H1501.2V2185.2H1508.1V2178.3H1515.0V2205.9H1518.4V2174.8H1525.3V2202.4H1532.2V2205.9H1535.6V2216.2H1539.1V2199.0H1546.0V2209.3H1549.4V2195.5H1559.8V2223.1H1563.2V2209.3H1573.6V2219.7H1580.5V2226.5H1583.9V2223.1H1587.3V2205.9H1594.2V2223.1H1597.7V2230.0H1608.0V2247.2H1611.5V2236.9H1618.4V2233.4H1625.3V2236.9H1628.7V2240.3H1632.2V2216.2H1639.0V2219.7H1645.9V2240.3H1649.4V2233.4H1652.8V2226.5H1659.7V2233.4H1663.2V2212.8H1670.1V2236.9H1673.5V2219.7H1680.4V2223.1H1683.9V2233.4H1687.3V2216.2H1694.2V2223.1H1701.1V2240.3H1704.5V2243.8H1708.0V2236.9H1714.9V2240.3H1721.8V2243.8H1728.7V2254.1H1732.1V2257.6H1735.6V2261.0H1739.0V2254.1H1752.8V2264.5H1759.7V2274.8H1763.1V2250.7H1770.0V2267.9H1773.5V2274.8H1776.9V2261.0H1783.8V2271.4H1787.3V2267.9H1790.7V2264.5H1797.6V2271.4H1801.0V2261.0H1807.9V2264.5H1811.4V2267.9H1814.8V2274.8H1818.3V2250.7H1825.2V2267.9H1828.6V2250.7H1835.5V2278.2H1839.0V2274.8H1842.4V2254.1H1849.3V2264.5H1856.2V2267.9H1863.1V2278.2H1866.5V2267.9H1876.9V2274.8H1880.3V2271.4H1883.8V2267.9H1897.5V2261.0H1904.4V2254.1H1911.3V2257.6H1914.8V2271.4H1925.1V2278.2H1928.6V2264.5H1938.9V2281.7H1942.4V2274.8H1949.2V2288.6H1952.7V2285.1H1956.1V2333.4H1945.8V2323.1H1935.5V2319.6H1932.0V2323.1H1925.1V2329.9H1918.2V2316.2H1914.8V2302.4H1911.3V2305.8H1904.4V2316.2H1897.5V2333.4H1890.7V2316.2H1883.8V2312.7H1880.3V2333.4H1873.4V2309.3H1870.0V2312.7H1863.1V2333.4H1856.2V2316.2H1852.7V2319.6H1849.3V2323.1H1842.4V2302.4H1835.5V2298.9H1832.1V2305.8H1828.6V2319.6H1821.7V2326.5H1814.8V2298.9H1811.4V2302.4H1804.5V2305.8H1801.0V2316.2H1797.6V2323.1H1790.7V2316.2H1776.9V2305.8H1773.5V2316.2H1759.7V2309.3H1752.8V2305.8H1745.9V2326.5H1739.0V2295.5H1732.1V2288.6H1728.7V2305.8H1721.8V2298.9H1718.3V2281.7H1714.9V2285.1H1708.0V2312.7H1701.1V2295.5H1694.2V2271.4H1690.7V2292.0H1683.9V2274.8H1680.4V2281.7H1673.5V2292.0H1670.1V2302.4H1663.2V2305.8H1656.3V2292.0H1652.8V2288.6H1649.4V2271.4H1645.9V2298.9H1639.0V2295.5H1635.6V2285.1H1628.7V2274.8H1621.8V2281.7H1614.9V2285.1H1608.0V2295.5H1601.1V2281.7H1590.8V2278.2H1587.3V2295.5H1580.5V2281.7H1573.6V2264.5H1570.1V2271.4H1559.8V2288.6H1552.9V2274.8H1549.4V2278.2H1542.5V2271.4H1539.1V2267.9H1535.6V2261.0H1532.2V2274.8H1525.3V2257.6H1518.4V2247.2H1511.5V2236.9H1508.1V2254.1H1504.6V2257.6H1494.3V2236.9H1490.8V2250.7H1487.4V2261.0H1480.5V2247.2H1477.1V2240.3H1473.6V2236.9H1456.4V2209.3H1452.9V2236.9H1446.0V2192.1H1442.6V2209.3H1435.7V2205.9H1432.2V2216.2H1421.9V2199.0H1418.5V2195.5H1408.1V2168.0H1401.2V2140.4H1397.8V2147.3H1394.3V2157.6H1387.4V2147.3H1384.0V2130.0H1380.5V2105.9H1373.7V2099.0H1366.8V2061.1H1363.3V2054.2H1359.9V2071.4H1356.4V2078.3H1349.5V2040.4H1339.2V2019.7H1335.7V2002.5H1332.3V1988.7H1328.8V1950.8H1325.4V1947.4H1322.0V1981.8H1315.1V1919.8H1311.6V1930.1H1304.7V1919.8H1297.8V1875.0H1294.4V1861.2H1287.5V1857.8H1284.0V1861.2H1277.1V1857.8H1273.7V1826.7H1266.8V1819.8H1263.4V1816.4H1259.9V1799.2H1256.5V1806.1H1249.6V1781.9H1242.7V1771.6H1235.8V1788.8H1232.3V1792.3H1225.4V1809.5H1222.0V1844.0H1215.1V1830.2H1211.7V1844.0H1208.2V1875.0H1201.3V1930.1H1194.4V1895.7H1191.0V1912.9H1187.5V1950.8H1184.1V1971.5H1177.2V1985.3H1173.7V2037.0H1166.9V2023.2H1163.4V2047.3H1160.0V2095.6H1153.1V2074.9H1149.6V2092.1H1146.2V2102.5H1142.7V2140.4H1135.8V2123.1H1132.4V2130.0H1128.9V2154.2H1122.0V2150.7H1118.6V2164.5H1115.2V2171.4H1108.3V2164.5H1101.4V2199.0H1094.5V2174.8H1087.6V2178.3H1077.2V2185.2H1073.8V2202.4H1066.9V2195.5H1060.0V2209.3H1056.6V2212.8H1053.1V2233.4H1046.2V2247.2H1039.3V2236.9H1032.4V2233.4H1025.5V2240.3H1022.1V2264.5H1015.2V2267.9H1008.3V2240.3H1004.9V2250.7H1001.4V2278.2H994.5V2274.8H991.1V2267.9H987.6V2274.8H980.7V2271.4H977.3V2257.6H973.8V2264.5H970.4V2274.8H963.5V2281.7H956.6V2302.4H953.2V2305.8H946.3V2298.9H935.9V2302.4H932.5V2316.2H925.6V2312.7H918.7V2302.4H915.2V2305.8H908.4V2319.6H904.9V2326.5H898.0V2319.6H894.6V2305.8H891.1V2316.2H887.7V2326.5H880.8V2347.2H873.9V2336.8H870.4V2347.2H863.5V2340.3H860.1V2343.7H853.2V2350.6H842.9V2347.2H836.0V2350.6H829.1V2343.7H825.6V2350.6H822.2V2354.1H815.3V2347.2H811.8V2350.6H805.0V2343.7H801.5V2347.2H798.1V2350.6H791.2V2340.3H787.7V2343.7H784.3V2350.6H777.4V2357.5H770.5V2350.6H767.0V2354.1H763.6V2361.0H756.7V2357.5H749.8V2343.7H746.4V2350.6H736.0V2354.1H729.1V2347.2H725.7V2354.1H718.8V2361.0H711.9V2357.5H705.0V2350.6H698.1V2354.1H691.2V2340.3H684.3V2347.2H677.4V2343.7H674.0V2336.8H670.5V2343.7H663.6V2340.3H660.2V2336.8H656.7V2323.1H643.0V2309.3H639.5V2316.2H632.6V2298.9H629.2V2288.6H622.3V2257.6H615.4V2205.9H608.5V2202.4H605.0V2164.5H601.6V2136.9H594.7V2116.3H591.3V2109.4H587.8V2068.0H577.5V2064.6H574.0V2095.6H567.1V2026.6H563.7V1999.1H560.2V1995.6H556.8V2019.7H553.3V2071.4H549.9V2178.3H546.5V2205.9H543.0V2281.7H536.1V2267.9H532.7V2288.6H529.2V2329.9H522.3V2323.1H518.9V2326.5H515.4V2343.7H498.2V2336.8H491.3V2347.2H484.4V2340.3H477.5V2333.4H474.1V2329.9H470.6V2343.7H463.7V2347.2H456.8V2354.1H449.9V2340.3H443.1V2336.8H439.6V2343.7H429.3V2340.3H418.9V2333.4H415.5V2343.7H408.6V2336.8H401.7V2347.2H394.8V2340.3H391.4V2347.2H387.9V2350.6H381.0V2336.8H377.6V2343.7H363.8V2340.3H360.3V2347.2H343.1V2336.8H339.7V2350.6H332.8V2343.7H329.3V2347.2H322.4V2343.7H319.0V2336.8H315.5V2350.6H308.6V2347.2H305.2V2333.4H301.7V2350.6H294.8V2340.3H291.4Z" fill="#0a9dff"/>
<path d="M291.4,2343.7H294.8V2333.4H301.7V2340.3H308.6V2343.7H315.5V2336.8H325.9V2329.9H332.8V2336.8H346.5V2333.4H353.4V2336.8H363.8V2329.9H370.7V2340.3H384.5V2336.8H401.7V2333.4H408.6V2336.8H412.0V2340.3H415.5V2264.5H422.4V2305.8H425.8V2336.8H429.3V2340.3H432.7V2333.4H436.2V2329.9H443.1V2340.3H446.5V2343.7H456.8V2329.9H463.7V2336.8H484.4V2333.4H491.3V2336.8H494.8V2333.4H515.4V2340.3H518.9V2333.4H525.8V2326.5H529.2V2323.1H532.7V2309.3H536.1V2298.9H543.0V2285.1H546.5V2250.7H553.3V2254.1H556.8V2230.0H563.7V2250.7H570.6V2261.0H574.0V2257.6H580.9V2254.1H587.8V2236.9H594.7V2247.2H598.2V2267.9H601.6V2281.7H611.9V2298.9H615.4V2302.4H618.8V2305.8H622.3V2316.2H629.2V2329.9H643.0V2336.8H663.6V2347.2H670.5V2354.1H694.7V2350.6H705.0V2347.2H711.9V2350.6H722.2V2354.1H732.6V2350.6H742.9V2354.1H760.1V2357.5H763.6V2350.6H770.5V2354.1H773.9V2357.5H777.4V2354.1H784.3V2350.6H801.5V2357.5H805.0V2354.1H808.4V2350.6H815.3V2361.0H818.7V2350.6H836.0V2354.1H849.8V2357.5H853.2V2354.1H860.1V2357.5H863.5V2354.1H870.4V2350.6H877.3V2357.5H880.8V2347.2H887.7V2354.1H891.1V2357.5H894.6V2354.1H898.0V2350.6H904.9V2343.7H911.8V2347.2H915.2V2340.3H922.1V2343.7H932.5V2329.9H939.4V2336.8H949.7V2333.4H966.9V2329.9H970.4V2319.6H977.3V2323.1H980.7V2329.9H991.1V2326.5H994.5V2323.1H1004.9V2309.3H1011.8V2316.2H1015.2V2326.5H1022.1V2312.7H1025.5V2309.3H1032.4V2305.8H1039.3V2298.9H1046.2V2312.7H1049.7V2309.3H1053.1V2298.9H1060.0V2302.4H1070.3V2285.1H1073.8V2278.2H1080.7V2298.9H1084.1V2292.0H1091.0V2285.1H1104.8V2264.5H1111.7V2271.4H1115.2V2261.0H1122.0V2278.2H1125.5V2281.7H1128.9V2261.0H1135.8V2274.8H1139.3V2257.6H1142.7V2254.1H1149.6V2247.2H1156.5V2226.5H1163.4V2223.1H1166.9V2216.2H1170.3V2209.3H1177.2V2195.5H1184.1V2157.6H1191.0V2174.8H1194.4V2123.1H1201.3V2136.9H1204.8V2119.7H1208.2V2112.8H1211.7V2099.0H1215.1V2088.7H1218.6V2068.0H1225.4V2043.9H1228.9V2012.9H1232.3V1964.6H1235.8V1943.9H1239.2V1916.3H1246.1V1930.1H1249.6V1933.6H1253.0V1871.5H1256.5V1840.5H1266.8V1861.2H1273.7V1713.0H1280.6V1788.8H1287.5V1812.9H1290.9V1823.3H1294.4V1771.6H1301.3V1840.5H1304.7V1826.7H1311.6V1861.2H1315.1V1902.6H1318.5V1933.6H1322.0V1906.0H1328.8V1912.9H1335.7V1964.6H1342.6V2016.3H1346.1V2047.3H1349.5V2037.0H1356.4V2095.6H1359.9V2088.7H1363.3V2085.2H1370.2V2112.8H1373.7V2130.0H1377.1V2136.9H1384.0V2147.3H1390.9V2178.3H1394.3V2188.6H1397.8V2205.9H1404.7V2212.8H1408.1V2219.7H1415.0V2236.9H1418.5V2247.2H1421.9V2233.4H1428.8V2257.6H1432.2V2267.9H1435.7V2257.6H1442.6V2264.5H1449.5V2261.0H1456.4V2274.8H1459.8V2261.0H1466.7V2264.5H1473.6V2285.1H1480.5V2295.5H1483.9V2281.7H1490.8V2292.0H1494.3V2298.9H1504.6V2292.0H1518.4V2302.4H1521.9V2305.8H1525.3V2302.4H1528.8V2285.1H1535.6V2295.5H1539.1V2302.4H1542.5V2288.6H1549.4V2295.5H1552.9V2298.9H1556.3V2305.8H1570.1V2309.3H1573.6V2298.9H1580.5V2302.4H1583.9V2292.0H1590.8V2305.8H1597.7V2312.7H1604.6V2302.4H1611.5V2309.3H1618.4V2302.4H1621.8V2298.9H1632.2V2302.4H1635.6V2309.3H1645.9V2312.7H1649.4V2319.6H1652.8V2302.4H1656.3V2298.9H1663.2V2302.4H1666.6V2305.8H1670.1V2312.7H1673.5V2309.3H1680.4V2316.2H1683.9V2312.7H1687.3V2309.3H1694.2V2316.2H1701.1V2305.8H1711.4V2298.9H1718.3V2316.2H1725.2V2309.3H1732.1V2305.8H1739.0V2309.3H1742.4V2302.4H1749.3V2305.8H1763.1V2309.3H1766.6V2323.1H1770.0V2305.8H1776.9V2302.4H1790.7V2309.3H1794.1V2312.7H1807.9V2298.9H1814.8V2309.3H1821.7V2312.7H1825.2V2309.3H1828.6V2305.8H1835.5V2309.3H1842.4V2326.5H1845.8V2305.8H1852.7V2309.3H1859.6V2298.9H1866.5V2302.4H1873.4V2298.9H1880.3V2312.7H1883.8V2302.4H1887.2V2298.9H1894.1V2305.8H1904.4V2298.9H1911.3V2316.2H1914.8V2309.3H1918.2V2302.4H1925.1V2309.3H1928.6V2302.4H1935.5V2305.8H1952.7V2302.4H1956.1V2336.8H1945.8V2347.2H1942.4V2354.1H1935.5V2333.4H1932.0V2336.8H1928.6V2343.7H1921.7V2333.4H1918.2V2340.3H1911.3V2343.7H1907.9V2347.2H1901.0V2340.3H1894.1V2343.7H1887.2V2350.6H1880.3V2354.1H1873.4V2350.6H1866.5V2347.2H1856.2V2350.6H1849.3V2347.2H1839.0V2350.6H1828.6V2343.7H1821.7V2340.3H1814.8V2347.2H1811.4V2357.5H1804.5V2347.2H1794.1V2340.3H1790.7V2343.7H1787.3V2354.1H1780.4V2343.7H1776.9V2347.2H1770.0V2350.6H1763.1V2347.2H1756.2V2336.8H1752.8V2343.7H1749.3V2357.5H1742.4V2347.2H1735.6V2350.6H1728.7V2347.2H1721.8V2343.7H1718.3V2354.1H1711.4V2343.7H1701.1V2347.2H1694.2V2343.7H1690.7V2347.2H1683.9V2343.7H1680.4V2354.1H1673.5V2347.2H1666.6V2340.3H1659.7V2336.8H1652.8V2340.3H1645.9V2336.8H1642.5V2343.7H1639.0V2357.5H1632.2V2340.3H1628.7V2343.7H1621.8V2333.4H1614.9V2340.3H1608.0V2343.7H1601.1V2350.6H1594.2V2340.3H1587.3V2333.4H1580.5V2343.7H1577.0V2350.6H1563.2V2343.7H1556.3V2336.8H1546.0V2340.3H1542.5V2343.7H1535.6V2333.4H1532.2V2343.7H1528.8V2350.6H1521.9V2347.2H1518.4V2333.4H1515.0V2323.1H1511.5V2340.3H1504.6V2329.9H1497.7V2340.3H1490.8V2333.4H1487.4V2323.1H1480.5V2333.4H1473.6V2323.1H1470.2V2305.8H1466.7V2312.7H1459.8V2309.3H1452.9V2305.8H1449.5V2323.1H1442.6V2305.8H1435.7V2312.7H1428.8V2298.9H1425.4V2281.7H1421.9V2298.9H1415.0V2285.1H1411.6V2271.4H1408.1V2267.9H1401.2V2285.1H1394.3V2247.2H1384.0V2240.3H1380.5V2219.7H1377.1V2199.0H1373.7V2195.5H1370.2V2185.2H1366.8V2168.0H1359.9V2147.3H1353.0V2123.1H1346.1V2112.8H1339.2V2068.0H1335.7V2064.6H1332.3V2071.4H1325.4V2006.0H1318.5V1999.1H1315.1V1954.3H1311.6V1957.7H1304.7V1950.8H1301.3V1947.4H1297.8V1961.2H1294.4V1971.5H1280.6V1964.6H1273.7V1961.2H1270.3V1950.8H1266.8V1947.4H1263.4V1971.5H1259.9V1999.1H1253.0V1995.6H1249.6V2016.3H1242.7V2061.1H1239.2V2074.9H1235.8V2130.0H1228.9V2133.5H1225.4V2161.1H1218.6V2185.2H1215.1V2188.6H1208.2V2185.2H1204.8V2199.0H1201.3V2202.4H1197.9V2216.2H1194.4V2230.0H1191.0V2233.4H1187.5V2271.4H1180.6V2250.7H1177.2V2267.9H1170.3V2264.5H1166.9V2285.1H1163.4V2288.6H1156.5V2302.4H1149.6V2298.9H1146.2V2292.0H1142.7V2319.6H1135.8V2326.5H1128.9V2323.1H1118.6V2316.2H1111.7V2312.7H1108.3V2323.1H1104.8V2336.8H1097.9V2323.1H1087.6V2329.9H1080.7V2336.8H1073.8V2333.4H1070.3V2347.2H1066.9V2354.1H1060.0V2343.7H1056.6V2354.1H1049.7V2347.2H1046.2V2343.7H1042.8V2347.2H1039.3V2354.1H1032.4V2343.7H1029.0V2350.6H1025.5V2357.5H1011.8V2343.7H1008.3V2347.2H998.0V2350.6H994.5V2357.5H991.1V2364.4H984.2V2357.5H980.7V2364.4H973.8V2354.1H970.4V2350.6H966.9V2354.1H963.5V2361.0H953.2V2367.9H946.3V2361.0H942.8V2364.4H922.1V2367.9H915.2V2371.3H908.4V2364.4H904.9V2367.9H898.0V2371.3H884.2V2367.9H880.8V2371.3H829.1V2367.9H825.6V2371.3H794.6V2367.9H791.2V2371.3H767.0V2367.9H763.6V2371.3H746.4V2367.9H736.0V2371.3H718.8V2367.9H708.4V2371.3H684.3V2367.9H680.9V2371.3H674.0V2367.9H670.5V2364.4H663.6V2361.0H660.2V2364.4H656.7V2367.9H649.9V2371.3H643.0V2364.4H636.1V2371.3H629.2V2354.1H625.7V2350.6H618.8V2347.2H615.4V2333.4H611.9V2323.1H601.6V2312.7H598.2V2309.3H591.3V2326.5H584.4V2312.7H580.9V2309.3H574.0V2302.4H570.6V2295.5H560.2V2302.4H556.8V2309.3H546.5V2329.9H543.0V2343.7H536.1V2357.5H522.3V2364.4H515.4V2361.0H508.5V2357.5H505.1V2367.9H498.2V2361.0H494.8V2371.3H487.9V2361.0H474.1V2371.3H467.2V2364.4H456.8V2361.0H453.4V2364.4H449.9V2367.9H439.6V2364.4H436.2V2361.0H432.7V2364.4H425.8V2354.1H422.4V2361.0H415.5V2364.4H401.7V2361.0H391.4V2364.4H387.9V2367.9H377.6V2361.0H370.7V2357.5H367.2V2367.9H360.3V2361.0H350.0V2354.1H346.5V2367.9H339.7V2361.0H336.2V2357.5H332.8V2361.0H329.3V2364.4H322.4V2361.0H319.0V2364.4H315.5V2371.3H308.6V2367.9H301.7V2357.5H291.4Z" fill="#ff8000"/>
</g>
</g>
<g id="panel-c">
<g stroke="#303030" stroke-width="4.2" fill="none" stroke-linecap="butt">
<rect x="289.4" y="2583.5" width="1663.2" height="1055.9" stroke-width="4.9"/>
<line x1="289.5" y1="3639.4" x2="289.5" y2="3658.7000000000003"/>
<line x1="408.3" y1="3639.4" x2="408.3" y2="3648.4"/>
<line x1="527.1" y1="3639.4" x2="527.1" y2="3658.7000000000003"/>
<line x1="645.9" y1="3639.4" x2="645.9" y2="3648.4"/>
<line x1="764.6" y1="3639.4" x2="764.6" y2="3658.7000000000003"/>
<line x1="883.4" y1="3639.4" x2="883.4" y2="3648.4"/>
<line x1="1002.2" y1="3639.4" x2="1002.2" y2="3658.7000000000003"/>
<line x1="1121.0" y1="3639.4" x2="1121.0" y2="3648.4"/>
<line x1="1239.8" y1="3639.4" x2="1239.8" y2="3658.7000000000003"/>
<line x1="1358.6" y1="3639.4" x2="1358.6" y2="3648.4"/>
<line x1="1477.4" y1="3639.4" x2="1477.4" y2="3658.7000000000003"/>
<line x1="1596.1" y1="3639.4" x2="1596.1" y2="3648.4"/>
<line x1="1714.9" y1="3639.4" x2="1714.9" y2="3658.7000000000003"/>
<line x1="1833.7" y1="3639.4" x2="1833.7" y2="3648.4"/>
<line x1="1952.5" y1="3639.4" x2="1952.5" y2="3658.7000000000003"/>
<line x1="289.4" y1="3639.2" x2="264.4" y2="3639.2"/>
<line x1="289.4" y1="3519.0" x2="274.4" y2="3519.0"/>
<line x1="289.4" y1="3398.8" x2="264.4" y2="3398.8"/>
<line x1="289.4" y1="3278.7" x2="274.4" y2="3278.7"/>
<line x1="289.4" y1="3158.5" x2="264.4" y2="3158.5"/>
<line x1="289.4" y1="3038.3" x2="274.4" y2="3038.3"/>
<line x1="289.4" y1="2918.2" x2="264.4" y2="2918.2"/>
<line x1="289.4" y1="2798.0" x2="274.4" y2="2798.0"/>
<line x1="289.4" y1="2677.8" x2="264.4" y2="2677.8"/>
</g>
<g class="tk">
<text x="285.9" y="3715.0" text-anchor="middle">0</text>
<text x="523.5" y="3715.0" text-anchor="middle">100</text>
<text x="761.0" y="3715.0" text-anchor="middle">200</text>
<text x="998.6" y="3715.0" text-anchor="middle">300</text>
<text x="1236.2" y="3715.0" text-anchor="middle">400</text>
<text x="1473.8" y="3715.0" text-anchor="middle">500</text>
<text x="1711.3" y="3715.0" text-anchor="middle">600</text>
<text x="1948.9" y="3715.0" text-anchor="middle">700</text>
<text x="249.0" y="3653.5" text-anchor="end">0.0</text>
<text x="249.0" y="3414.0" text-anchor="end">0.5</text>
<text x="249.0" y="3173.7" text-anchor="end">1.0</text>
<text x="249.0" y="2933.3" text-anchor="end">1.5</text>
<text x="249.0" y="2693.0" text-anchor="end">2.0</text>
</g>
<clipPath id="clip-c"><rect x="291.4" y="2581.1" width="1664.2" height="1061.9"/></clipPath>
<g clip-path="url(#clip-c)" fill="none" stroke-linejoin="miter" stroke-miterlimit="3" stroke-linecap="butt">
<path d="M291.4,3594.9H294.8V3591.4H298.3V3581.1H305.2V3594.9H308.6V3584.5H312.1V3570.7H319.0V3574.2H322.4V3577.6H329.3V3588.0H336.2V3570.7H343.1V3591.4H350.0V3577.6H360.3V3594.9H363.8V3584.5H370.7V3574.2H377.6V3577.6H381.0V3581.1H387.9V3584.5H391.4V3570.7H398.2V3577.6H401.7V3588.0H405.1V3581.1H412.0V3588.0H415.5V3581.1H422.4V3584.5H425.8V3577.6H432.7V3581.1H436.2V3577.6H439.6V3574.2H446.5V3581.1H453.4V3584.5H460.3V3588.0H463.7V3577.6H467.2V3570.7H474.1V3581.1H477.5V3588.0H481.0V3581.1H505.1V3570.7H512.0V3584.5H515.4V3588.0H518.9V3591.4H525.8V3570.7H532.7V3577.6H536.1V3581.1H539.6V3584.5H543.0V3581.1H546.5V3560.4H549.9V3508.7H553.3V3491.5H556.8V3463.9H560.2V3450.1H567.1V3457.0H574.0V3453.6H580.9V3443.2H587.8V3429.4H594.7V3460.5H601.6V3436.3H608.5V3460.5H611.9V3481.1H615.4V3501.8H618.8V3532.8H622.3V3529.4H629.2V3543.2H632.6V3546.6H636.1V3567.3H639.5V3570.7H649.9V3577.6H653.3V3581.1H656.7V3591.4H660.2V3594.9H663.6V3591.4H670.5V3588.0H677.4V3612.1H680.9V3605.2H691.2V3612.1H694.7V3615.6H715.3V3622.4H722.2V3619.0H729.1V3622.4H732.6V3619.0H739.5V3622.4H742.9V3625.9H746.4V3619.0H753.3V3625.9H756.7V3619.0H763.6V3622.4H767.0V3625.9H780.8V3629.3H787.7V3625.9H794.6V3629.3H829.1V3625.9H836.0V3632.8H842.9V3629.3H853.2V3632.8H860.1V3629.3H867.0V3632.8H880.8V3629.3H898.0V3625.9H904.9V3629.3H908.4V3632.8H918.7V3629.3H925.6V3625.9H932.5V3632.8H935.9V3629.3H946.3V3625.9H953.2V3629.3H966.9V3625.9H973.8V3629.3H984.2V3625.9H991.1V3622.4H998.0V3625.9H1004.9V3622.4H1011.8V3625.9H1015.2V3619.0H1022.1V3622.4H1025.5V3615.6H1032.4V3622.4H1035.9V3619.0H1049.7V3612.1H1056.6V3615.6H1063.5V3612.1H1080.7V3619.0H1084.1V3612.1H1091.0V3619.0H1097.9V3612.1H1104.8V3615.6H1108.3V3619.0H1111.7V3612.1H1125.5V3601.8H1132.4V3615.6H1139.3V3601.8H1146.2V3615.6H1149.6V3601.8H1156.5V3608.7H1173.7V3601.8H1180.6V3608.7H1191.0V3612.1H1197.9V3605.2H1204.8V3601.8H1208.2V3598.3H1215.1V3608.7H1222.0V3594.9H1232.3V3612.1H1235.8V3598.3H1242.7V3605.2H1246.1V3591.4H1253.0V3601.8H1259.9V3594.9H1273.7V3601.8H1277.1V3594.9H1284.0V3605.2H1287.5V3598.3H1294.4V3594.9H1301.3V3591.4H1308.2V3594.9H1311.6V3591.4H1325.4V3594.9H1328.8V3591.4H1335.7V3598.3H1339.2V3588.0H1346.1V3591.4H1353.0V3581.1H1356.4V3577.6H1370.2V3570.7H1377.1V3574.2H1384.0V3570.7H1390.9V3563.9H1397.8V3574.2H1404.7V3563.9H1411.6V3567.3H1415.0V3563.9H1428.8V3560.4H1439.1V3567.3H1442.6V3574.2H1446.0V3557.0H1449.5V3546.6H1459.8V3550.1H1463.3V3567.3H1466.7V3560.4H1470.2V3553.5H1473.6V3546.6H1483.9V3532.8H1490.8V3512.2H1497.7V3532.8H1501.2V3522.5H1504.6V3508.7H1511.5V3529.4H1515.0V3522.5H1518.4V3508.7H1521.9V3505.3H1525.3V3450.1H1532.2V3477.7H1535.6V3488.0H1539.1V3460.5H1542.5V3446.7H1546.0V3439.8H1549.4V3412.2H1552.9V3370.8H1559.8V3336.4H1566.7V3329.5H1570.1V3298.5H1577.0V3281.2H1580.5V3260.5H1587.3V3257.1H1590.8V3233.0H1594.2V3215.7H1601.1V3170.9H1604.6V3157.1H1608.0V3108.9H1611.5V3095.1H1614.9V3053.7H1621.8V3064.1H1625.3V3071.0H1628.7V3102.0H1635.6V3136.5H1639.0V3177.8H1649.4V3219.2H1656.3V3236.4H1663.2V3243.3H1666.6V3277.8H1673.5V3298.5H1680.4V3339.8H1687.3V3332.9H1690.7V3270.9H1697.6V3357.1H1701.1V3443.2H1704.5V3450.1H1708.0V3453.6H1711.4V3460.5H1721.8V3470.8H1728.7V3477.7H1732.1V3512.2H1735.6V3519.0H1739.0V3508.7H1752.8V3515.6H1759.7V3512.2H1766.6V3522.5H1773.5V3546.6H1776.9V3560.4H1780.4V3546.6H1790.7V3543.2H1797.6V3557.0H1801.0V3560.4H1804.5V3567.3H1811.4V3574.2H1814.8V3570.7H1818.3V3557.0H1825.2V3553.5H1832.1V3567.3H1835.5V3574.2H1842.4V3570.7H1849.3V3574.2H1852.7V3570.7H1859.6V3581.1H1863.1V3574.2H1870.0V3577.6H1873.4V3574.2H1880.3V3567.3H1890.7V3570.7H1894.1V3574.2H1897.5V3577.6H1901.0V3570.7H1904.4V3567.3H1911.3V3570.7H1914.8V3584.5H1921.7V3570.7H1928.6V3577.6H1935.5V3588.0H1938.9V3598.3H1942.4V3605.2H1945.8V3612.1H1949.2V3615.6H1956.1V3643.1H1942.4V3632.8H1938.9V3629.3H1935.5V3622.4H1932.0V3629.3H1918.2V3622.4H1911.3V3612.1H1904.4V3615.6H1897.5V3608.7H1894.1V3643.1H1887.2V3605.2H1880.3V3601.8H1876.9V3622.4H1870.0V3605.2H1866.5V3601.8H1863.1V3598.3H1859.6V3608.7H1856.2V3625.9H1849.3V3615.6H1828.6V3612.1H1825.2V3622.4H1818.3V3591.4H1814.8V3605.2H1804.5V3615.6H1797.6V3601.8H1794.1V3591.4H1790.7V3588.0H1787.3V3601.8H1780.4V3591.4H1773.5V3584.5H1766.6V3574.2H1759.7V3584.5H1752.8V3588.0H1745.9V3560.4H1742.4V3581.1H1735.6V3570.7H1725.2V3560.4H1718.3V3522.5H1711.4V3515.6H1708.0V3508.7H1704.5V3494.9H1697.6V3467.3H1694.2V3446.7H1687.3V3429.4H1683.9V3405.3H1677.0V3395.0H1673.5V3377.7H1670.1V3360.5H1666.6V3357.1H1663.2V3312.2H1659.7V3301.9H1656.3V3305.4H1649.4V3274.3H1645.9V3284.7H1639.0V3274.3H1635.6V3270.9H1628.7V3257.1H1621.8V3208.8H1618.4V3239.9H1614.9V3260.5H1608.0V3270.9H1604.6V3298.5H1601.1V3322.6H1594.2V3357.1H1587.3V3326.0H1583.9V3357.1H1580.5V3370.8H1577.0V3388.1H1573.6V3401.9H1570.1V3408.8H1566.7V3450.1H1559.8V3477.7H1552.9V3508.7H1549.4V3532.8H1542.5V3525.9H1539.1V3539.7H1528.8V3536.3H1525.3V3557.0H1521.9V3574.2H1518.4V3591.4H1504.6V3574.2H1501.2V3584.5H1494.3V3588.0H1490.8V3594.9H1483.9V3591.4H1477.1V3598.3H1470.2V3605.2H1459.8V3588.0H1456.4V3598.3H1449.5V3608.7H1442.6V3594.9H1435.7V3598.3H1432.2V3612.1H1428.8V3619.0H1421.9V3608.7H1418.5V3601.8H1415.0V3608.7H1408.1V3601.8H1397.8V3612.1H1394.3V3615.6H1387.4V3612.1H1380.5V3608.7H1377.1V3629.3H1370.2V3622.4H1363.3V3615.6H1359.9V3608.7H1356.4V3625.9H1349.5V3619.0H1346.1V3622.4H1335.7V3625.9H1328.8V3622.4H1325.4V3632.8H1318.5V3625.9H1315.1V3629.3H1308.2V3619.0H1304.7V3632.8H1301.3V3636.2H1294.4V3629.3H1287.5V3625.9H1284.0V3622.4H1280.6V3643.1H1273.7V3629.3H1270.3V3643.1H1256.5V3629.3H1253.0V3622.4H1249.6V3625.9H1246.1V3632.8H1228.9V3639.7H1222.0V3629.3H1215.1V3625.9H1208.2V3636.2H1194.4V3643.1H1187.5V3636.2H1184.1V3639.7H1177.2V3632.8H1170.3V3629.3H1166.9V3632.8H1160.0V3629.3H1153.1V3639.7H1146.2V3636.2H1142.7V3643.1H1118.6V3636.2H1115.2V3643.1H1104.8V3636.2H1094.5V3639.7H1087.6V3636.2H1084.1V3639.7H1070.3V3629.3H1066.9V3632.8H1063.5V3643.1H1046.2V3639.7H1039.3V3643.1H998.0V3639.7H987.6V3643.1H742.9V3639.7H725.7V3643.1H718.8V3639.7H705.0V3643.1H698.1V3636.2H691.2V3632.8H687.8V3629.3H684.3V3639.7H677.4V3632.8H670.5V3629.3H663.6V3622.4H656.7V3632.8H649.9V3615.6H643.0V3612.1H636.1V3598.3H632.6V3601.8H625.7V3577.6H618.8V3570.7H615.4V3546.6H611.9V3553.5H605.0V3515.6H598.2V3512.2H594.7V3519.0H591.3V3525.9H587.8V3536.3H580.9V3532.8H574.0V3543.2H567.1V3525.9H563.7V3529.4H560.2V3543.2H556.8V3588.0H549.9V3605.2H546.5V3619.0H539.6V3612.1H536.1V3629.3H529.2V3612.1H525.8V3615.6H522.3V3632.8H515.4V3622.4H512.0V3615.6H505.1V3619.0H498.2V3612.1H494.8V3619.0H487.9V3625.9H474.1V3605.2H470.6V3612.1H467.2V3615.6H449.9V3625.9H443.1V3622.4H439.6V3625.9H432.7V3632.8H425.8V3612.1H422.4V3619.0H418.9V3625.9H412.0V3622.4H408.6V3619.0H405.1V3625.9H398.2V3619.0H387.9V3615.6H381.0V3612.1H377.6V3622.4H356.9V3615.6H353.4V3625.9H350.0V3632.8H339.7V3615.6H336.2V3622.4H325.9V3625.9H319.0V3622.4H312.1V3619.0H308.6V3612.1H301.7V3629.3H298.3V3632.8H291.4Z" fill="#0a9dff"/>
<path d="M291.4,3612.1H294.8V3605.2H301.7V3608.7H308.6V3615.6H315.5V3608.7H322.4V3605.2H325.9V3601.8H332.8V3605.2H339.7V3608.7H346.5V3605.2H353.4V3608.7H363.8V3598.3H370.7V3612.1H374.1V3608.7H381.0V3612.1H384.5V3605.2H391.4V3608.7H401.7V3605.2H412.0V3612.1H415.5V3532.8H422.4V3574.2H425.8V3608.7H432.7V3605.2H436.2V3601.8H443.1V3612.1H446.5V3615.6H449.9V3612.1H456.8V3601.8H463.7V3608.7H470.6V3605.2H477.5V3608.7H484.4V3601.8H491.3V3608.7H494.8V3605.2H515.4V3608.7H518.9V3601.8H525.8V3598.3H529.2V3591.4H532.7V3577.6H536.1V3570.7H543.0V3557.0H546.5V3519.0H553.3V3525.9H556.8V3498.4H563.7V3519.0H570.6V3529.4H574.0V3525.9H580.9V3522.5H587.8V3505.3H594.7V3515.6H598.2V3536.3H601.6V3550.1H611.9V3567.3H615.4V3570.7H618.8V3574.2H622.3V3584.5H625.7V3588.0H629.2V3598.3H636.1V3601.8H643.0V3608.7H663.6V3619.0H670.5V3622.4H677.4V3625.9H684.3V3622.4H694.7V3619.0H711.9V3622.4H722.2V3625.9H729.1V3622.4H736.0V3619.0H742.9V3622.4H746.4V3625.9H763.6V3622.4H770.5V3625.9H773.9V3629.3H777.4V3625.9H784.3V3619.0H791.2V3622.4H801.5V3629.3H805.0V3625.9H808.4V3622.4H815.3V3629.3H818.7V3622.4H836.0V3625.9H849.8V3629.3H853.2V3625.9H860.1V3629.3H863.5V3625.9H870.4V3622.4H877.3V3629.3H880.8V3619.0H887.7V3625.9H891.1V3629.3H894.6V3625.9H898.0V3622.4H904.9V3615.6H911.8V3619.0H915.2V3612.1H925.6V3615.6H932.5V3601.8H939.4V3605.2H946.3V3608.7H949.7V3605.2H953.2V3601.8H970.4V3591.4H977.3V3594.9H980.7V3598.3H991.1V3594.9H1001.4V3591.4H1004.9V3581.1H1011.8V3588.0H1015.2V3594.9H1022.1V3581.1H1025.5V3577.6H1039.3V3567.3H1046.2V3584.5H1049.7V3577.6H1053.1V3570.7H1070.3V3553.5H1073.8V3550.1H1080.7V3567.3H1084.1V3560.4H1091.0V3553.5H1097.9V3557.0H1101.4V3553.5H1104.8V3532.8H1111.7V3539.7H1115.2V3529.4H1122.0V3546.6H1125.5V3550.1H1128.9V3532.8H1135.8V3543.2H1139.3V3525.9H1142.7V3522.5H1149.6V3515.6H1156.5V3494.9H1163.4V3491.5H1166.9V3484.6H1170.3V3477.7H1177.2V3463.9H1184.1V3426.0H1191.0V3443.2H1194.4V3388.1H1201.3V3401.9H1204.8V3384.6H1208.2V3377.7H1211.7V3363.9H1215.1V3353.6H1218.6V3332.9H1225.4V3305.4H1228.9V3277.8H1232.3V3229.5H1235.8V3205.4H1239.2V3177.8H1246.1V3191.6H1249.6V3198.5H1253.0V3133.0H1256.5V3102.0H1259.9V3098.6H1266.8V3122.7H1273.7V2971.0H1280.6V3046.9H1287.5V3071.0H1290.9V3081.3H1294.4V3029.6H1301.3V3102.0H1304.7V3088.2H1311.6V3122.7H1315.1V3164.0H1318.5V3195.1H1322.0V3167.5H1328.8V3174.4H1335.7V3226.1H1342.6V3281.2H1346.1V3312.2H1349.5V3298.5H1356.4V3360.5H1359.9V3353.6H1363.3V3350.2H1370.2V3377.7H1373.7V3398.4H1377.1V3405.3H1384.0V3412.2H1390.9V3446.7H1394.3V3457.0H1397.8V3474.2H1404.7V3481.1H1408.1V3488.0H1415.0V3505.3H1418.5V3515.6H1421.9V3501.8H1428.8V3529.4H1432.2V3536.3H1435.7V3525.9H1442.6V3532.8H1449.5V3529.4H1456.4V3543.2H1459.8V3529.4H1466.7V3532.8H1473.6V3553.5H1480.5V3563.9H1483.9V3550.1H1490.8V3560.4H1494.3V3567.3H1501.2V3570.7H1504.6V3563.9H1511.5V3560.4H1518.4V3570.7H1521.9V3574.2H1528.8V3557.0H1535.6V3563.9H1539.1V3570.7H1542.5V3557.0H1549.4V3563.9H1552.9V3570.7H1556.3V3574.2H1563.2V3577.6H1570.1V3581.1H1573.6V3567.3H1580.5V3574.2H1583.9V3563.9H1590.8V3574.2H1594.2V3577.6H1597.7V3584.5H1604.6V3574.2H1611.5V3577.6H1618.4V3574.2H1621.8V3570.7H1625.3V3567.3H1632.2V3574.2H1635.6V3577.6H1645.9V3581.1H1649.4V3588.0H1652.8V3570.7H1666.6V3574.2H1670.1V3581.1H1673.5V3577.6H1680.4V3588.0H1683.9V3584.5H1687.3V3577.6H1694.2V3584.5H1701.1V3574.2H1711.4V3567.3H1718.3V3588.0H1725.2V3581.1H1732.1V3577.6H1739.0V3581.1H1742.4V3570.7H1749.3V3577.6H1756.2V3574.2H1763.1V3577.6H1766.6V3591.4H1770.0V3574.2H1780.4V3570.7H1787.3V3574.2H1790.7V3577.6H1794.1V3581.1H1801.0V3584.5H1804.5V3581.1H1807.9V3567.3H1814.8V3577.6H1821.7V3581.1H1825.2V3577.6H1828.6V3574.2H1835.5V3577.6H1842.4V3594.9H1845.8V3574.2H1852.7V3581.1H1859.6V3567.3H1866.5V3574.2H1873.4V3567.3H1880.3V3584.5H1883.8V3570.7H1894.1V3577.6H1897.5V3574.2H1904.4V3570.7H1911.3V3588.0H1914.8V3577.6H1918.2V3574.2H1925.1V3577.6H1928.6V3570.7H1935.5V3574.2H1938.9V3577.6H1952.7V3574.2H1956.1V3608.7H1945.8V3619.0H1942.4V3625.9H1935.5V3605.2H1932.0V3608.7H1928.6V3615.6H1921.7V3601.8H1918.2V3608.7H1914.8V3612.1H1907.9V3619.0H1901.0V3612.1H1897.5V3608.7H1894.1V3612.1H1887.2V3622.4H1866.5V3615.6H1856.2V3619.0H1845.8V3615.6H1842.4V3619.0H1839.0V3622.4H1828.6V3615.6H1821.7V3612.1H1814.8V3619.0H1811.4V3629.3H1804.5V3619.0H1801.0V3615.6H1794.1V3612.1H1790.7V3615.6H1787.3V3625.9H1780.4V3615.6H1770.0V3622.4H1763.1V3615.6H1756.2V3608.7H1752.8V3612.1H1749.3V3629.3H1742.4V3619.0H1735.6V3622.4H1728.7V3619.0H1721.8V3615.6H1718.3V3625.9H1711.4V3615.6H1708.0V3612.1H1701.1V3619.0H1694.2V3615.6H1690.7V3619.0H1683.9V3612.1H1680.4V3622.4H1673.5V3615.6H1666.6V3612.1H1659.7V3608.7H1652.8V3612.1H1645.9V3605.2H1642.5V3615.6H1639.0V3625.9H1632.2V3612.1H1628.7V3615.6H1621.8V3605.2H1614.9V3608.7H1608.0V3612.1H1601.1V3622.4H1594.2V3608.7H1587.3V3605.2H1580.5V3612.1H1577.0V3622.4H1563.2V3612.1H1556.3V3605.2H1552.9V3608.7H1542.5V3612.1H1535.6V3601.8H1532.2V3612.1H1528.8V3619.0H1521.9V3615.6H1518.4V3605.2H1515.0V3591.4H1511.5V3612.1H1504.6V3601.8H1497.7V3608.7H1490.8V3601.8H1487.4V3591.4H1480.5V3605.2H1473.6V3591.4H1470.2V3577.6H1466.7V3581.1H1459.8V3577.6H1452.9V3574.2H1449.5V3594.9H1442.6V3574.2H1435.7V3584.5H1428.8V3567.3H1425.4V3550.1H1421.9V3567.3H1415.0V3553.5H1411.6V3539.7H1404.7V3536.3H1401.2V3553.5H1394.3V3515.6H1384.0V3508.7H1380.5V3488.0H1377.1V3463.9H1370.2V3453.6H1366.8V3432.9H1359.9V3415.6H1356.4V3412.2H1353.0V3388.1H1346.1V3377.7H1339.2V3332.9H1335.7V3329.5H1332.3V3336.4H1325.4V3270.9H1318.5V3264.0H1315.1V3215.7H1311.6V3219.2H1304.7V3215.7H1301.3V3208.8H1297.8V3222.6H1294.4V3233.0H1287.5V3236.4H1280.6V3226.1H1270.3V3215.7H1266.8V3212.3H1263.4V3233.0H1259.9V3260.5H1253.0V3257.1H1249.6V3281.2H1242.7V3322.6H1239.2V3339.8H1235.8V3395.0H1228.9V3398.4H1225.4V3426.0H1218.6V3450.1H1215.1V3457.0H1208.2V3450.1H1204.8V3467.3H1201.3V3470.8H1197.9V3484.6H1194.4V3498.4H1191.0V3501.8H1187.5V3539.7H1180.6V3519.0H1177.2V3539.7H1170.3V3532.8H1166.9V3553.5H1163.4V3557.0H1156.5V3574.2H1149.6V3570.7H1146.2V3560.4H1142.7V3588.0H1135.8V3594.9H1128.9V3591.4H1118.6V3588.0H1111.7V3584.5H1108.3V3594.9H1104.8V3608.7H1097.9V3594.9H1087.6V3598.3H1080.7V3605.2H1070.3V3619.0H1066.9V3622.4H1060.0V3615.6H1056.6V3625.9H1049.7V3615.6H1046.2V3612.1H1042.8V3615.6H1039.3V3625.9H1032.4V3612.1H1029.0V3622.4H1025.5V3625.9H1018.6V3629.3H1011.8V3612.1H1008.3V3615.6H1004.9V3619.0H994.5V3625.9H991.1V3636.2H984.2V3629.3H980.7V3632.8H973.8V3622.4H963.5V3629.3H960.1V3632.8H953.2V3639.7H946.3V3632.8H932.5V3636.2H922.1V3639.7H915.2V3643.1H908.4V3636.2H904.9V3639.7H898.0V3643.1H887.7V3639.7H880.8V3643.1H829.1V3639.7H825.6V3643.1H794.6V3639.7H791.2V3643.1H784.3V3639.7H777.4V3643.1H770.5V3639.7H756.7V3643.1H746.4V3639.7H736.0V3643.1H718.8V3639.7H705.0V3643.1H694.7V3639.7H691.2V3643.1H684.3V3639.7H680.9V3643.1H674.0V3639.7H670.5V3636.2H663.6V3632.8H656.7V3639.7H649.9V3643.1H643.0V3636.2H636.1V3643.1H629.2V3622.4H618.8V3615.6H615.4V3601.8H611.9V3591.4H601.6V3584.5H598.2V3577.6H591.3V3598.3H584.4V3581.1H580.9V3577.6H574.0V3570.7H570.6V3563.9H560.2V3574.2H556.8V3581.1H549.9V3577.6H546.5V3598.3H543.0V3615.6H536.1V3629.3H522.3V3636.2H515.4V3632.8H508.5V3625.9H505.1V3636.2H498.2V3632.8H494.8V3643.1H487.9V3632.8H481.0V3629.3H477.5V3632.8H474.1V3643.1H467.2V3632.8H456.8V3629.3H453.4V3636.2H449.9V3639.7H443.1V3636.2H436.2V3632.8H425.8V3625.9H422.4V3632.8H415.5V3636.2H408.6V3632.8H394.8V3629.3H391.4V3636.2H387.9V3639.7H377.6V3632.8H370.7V3629.3H367.2V3639.7H360.3V3632.8H350.0V3625.9H346.5V3639.7H339.7V3632.8H336.2V3629.3H332.8V3632.8H329.3V3636.2H322.4V3632.8H315.5V3643.1H308.6V3636.2H301.7V3629.3H291.4Z" fill="#ff8000"/>
</g>
</g>
<text class="yl" transform="translate(109.5,853.7) rotate(-90)" textLength="497" lengthAdjust="spacingAndGlyphs">Intensity / mAU</text>
<text class="yl" transform="translate(109.5,2203.9) rotate(-90)" textLength="543.2" lengthAdjust="spacingAndGlyphs">Intensity / cps*10</text>
<text class="yl" transform="translate(83.0,1657.2) rotate(-90)">3</text>
<text class="yl" transform="translate(122.5,3453.5) rotate(-90)" textLength="539.5" lengthAdjust="spacingAndGlyphs">Intensity / cps*10</text>
<text class="yl" transform="translate(94.0,2910.5) rotate(-90)">3</text>
<text class="xl" font-size="61" x="1057.9" y="1267.3">t</text>
<text class="xl" font-size="61" x="1100.3" y="1267.3" font-weight="normal">/</text>
<text class="xl" font-size="61" transform="translate(1135.6,1267.3) scale(0.97,1)">s</text>
<text class="xl" font-size="67" x="1071.6" y="2498.0">t</text>
<text class="xl" font-size="67" x="1108.8" y="2498.0" font-weight="normal">/</text>
<text class="xl" font-size="67" transform="translate(1149.2,2498.0) scale(0.9,1)">s</text>
<text class="xl" font-size="67" x="1055.2" y="3754.5">t</text>
<text class="xl" font-size="67" x="1095.9" y="3754.5" font-weight="normal">/</text>
<text class="xl" font-size="67" transform="translate(1135.4,3754.5) scale(0.9,1)">s</text>
<text class="pl" y="253.5"><tspan x="412" dy="-11" font-size="104.5">(</tspan><tspan x="450.7" dy="11" font-size="110">a</tspan><tspan x="507.6" dy="-11" font-size="104.5">)</tspan></text>
<text class="pl" y="1501"><tspan x="412" dy="-11" font-size="104.5">(</tspan><tspan x="449.6" dy="11" font-size="118">b</tspan><tspan x="520.2" dy="-11" font-size="104.5">)</tspan></text>
<text class="pl" y="2763.5"><tspan x="412" dy="-11" font-size="104.5">(</tspan><tspan x="449.9" dy="11" font-size="111">c</tspan><tspan x="501.3" dy="-11" font-size="104.5">)</tspan></text>
<g class="lg">
<line x1="1441" y1="176.4" x2="1590" y2="176.4" stroke="#0a9dff" stroke-width="6.4"/>
<line x1="1441" y1="255.7" x2="1590" y2="255.7" stroke="#ff8000" stroke-width="6.4"/>
<text x="1605.8" y="198.2" style="font-size:62px">V(V)</text>
<text x="1605.8" y="277.7" style="font-size:62px">V(V), EDTA</text>
<line x1="1250.3" y1="1424" x2="1397.3" y2="1424" stroke="#0a9dff" stroke-width="6.4"/>
<line x1="1250.3" y1="1511.6" x2="1397.3" y2="1511.6" stroke="#ff8000" stroke-width="6.4"/>
<text y="1443.3"><tspan x="1408.9">EDTA </tspan><tspan x="1589">(3 </tspan><tspan x="1662.5">mmol </tspan><tspan x="1815">L</tspan><tspan x="1855" dy="-24.7" font-size="43.5">-1</tspan><tspan x="1894" dy="24.7">)</tspan></text>
<text y="1531"><tspan x="1408.9">EDTA </tspan><tspan x="1589">(8 </tspan><tspan x="1662.5">mmol </tspan><tspan x="1815">L</tspan><tspan x="1855" dy="-24.7" font-size="43.5">-1</tspan><tspan x="1894" dy="24.7">)</tspan></text>
<line x1="1525.7" y1="2672.1" x2="1673" y2="2672.1" stroke="#0a9dff" stroke-width="6.4"/>
<line x1="1525.7" y1="2746.9" x2="1673" y2="2746.9" stroke="#ff8000" stroke-width="6.4"/>
<text y="2689.2"><tspan x="1686.1">eluent </tspan><tspan x="1853">1</tspan></text>
<text y="2764.3"><tspan x="1686.1">eluent </tspan><tspan x="1853">2</tspan></text>
</g>
</svg></body></html>
